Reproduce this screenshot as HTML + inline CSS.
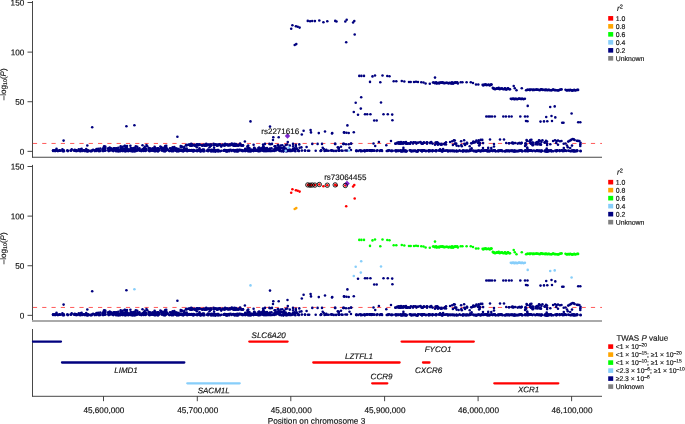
<!DOCTYPE html><html><head><meta charset="utf-8"><style>html,body{margin:0;padding:0;background:#fff}svg{display:block;will-change:transform}text{font-family:"Liberation Sans",sans-serif;fill:#111;stroke:#111;stroke-width:0.15px;text-rendering:geometricPrecision}</style></head><body>
<svg width="685" height="424" viewBox="0 0 685 424">
<rect width="685" height="424" fill="#fff"/>
<path d="M32.5 1.0V157.6" stroke="#333" stroke-width="0.9" fill="none"/><path d="M32.1 157.25H602" stroke="#333" stroke-width="0.9" fill="none"/><path d="M27.5 151.35H32.5" stroke="#333" stroke-width="0.9"/><text transform="rotate(0.05 24.3 154.40)" x="24.3" y="154.40" font-size="8.2" text-anchor="end">0</text><path d="M27.5 101.73H32.5" stroke="#333" stroke-width="0.9"/><text transform="rotate(0.05 24.3 104.78)" x="24.3" y="104.78" font-size="8.2" text-anchor="end">50</text><path d="M27.5 52.12H32.5" stroke="#333" stroke-width="0.9"/><text transform="rotate(0.05 24.3 55.17)" x="24.3" y="55.17" font-size="8.2" text-anchor="end">100</text><path d="M27.5 2.50H32.5" stroke="#333" stroke-width="0.9"/><text transform="rotate(0.05 24.3 5.55)" x="24.3" y="5.55" font-size="8.2" text-anchor="end">150</text><path d="M32.9 143.45H602" stroke="#ff3030" stroke-width="0.8" stroke-dasharray="4.2 5.1" fill="none"/><text transform="translate(5.5 84.3) rotate(-90)" font-size="8" text-anchor="middle">–log<tspan font-size="5.4" dy="1.7">10</tspan><tspan dy="-1.7">(</tspan><tspan font-style="italic">P</tspan>)</text>
<path d="M32.5 164.9V321.6" stroke="#333" stroke-width="0.9" fill="none"/><path d="M32.1 320.95H602" stroke="#aaa" stroke-width="2.0" fill="none"/><path d="M27.5 315.35H32.5" stroke="#333" stroke-width="0.9"/><text transform="rotate(0.05 24.3 318.40)" x="24.3" y="318.40" font-size="8.2" text-anchor="end">0</text><path d="M27.5 265.74H32.5" stroke="#333" stroke-width="0.9"/><text transform="rotate(0.05 24.3 268.79)" x="24.3" y="268.79" font-size="8.2" text-anchor="end">50</text><path d="M27.5 216.12H32.5" stroke="#333" stroke-width="0.9"/><text transform="rotate(0.05 24.3 219.17)" x="24.3" y="219.17" font-size="8.2" text-anchor="end">100</text><path d="M27.5 166.51H32.5" stroke="#333" stroke-width="0.9"/><text transform="rotate(0.05 24.3 169.56)" x="24.3" y="169.56" font-size="8.2" text-anchor="end">150</text><path d="M32.9 307.45H602" stroke="#ff3030" stroke-width="0.8" stroke-dasharray="4.2 5.1" fill="none"/><text transform="translate(5.5 248.3) rotate(-90)" font-size="8" text-anchor="middle">–log<tspan font-size="5.4" dy="1.7">10</tspan><tspan dy="-1.7">(</tspan><tspan font-style="italic">P</tspan>)</text>
<g><circle cx="63.6" cy="140.6" r="1.28" fill="#00007f"/><circle cx="92.2" cy="127.2" r="1.28" fill="#00007f"/><circle cx="126.4" cy="126.3" r="1.28" fill="#00007f"/><circle cx="134.4" cy="125.2" r="1.28" fill="#00007f"/><circle cx="87.3" cy="145.5" r="1.28" fill="#00007f"/><circle cx="125.5" cy="146.4" r="1.28" fill="#00007f"/><circle cx="142.5" cy="145.2" r="1.28" fill="#00007f"/><circle cx="146.5" cy="145.0" r="1.28" fill="#00007f"/><circle cx="177.4" cy="136.8" r="1.28" fill="#00007f"/><circle cx="250.5" cy="121.4" r="1.28" fill="#00007f"/><circle cx="270.0" cy="126.6" r="1.28" fill="#00007f"/><circle cx="273.3" cy="137.3" r="1.28" fill="#00007f"/><circle cx="273.0" cy="140.0" r="1.28" fill="#00007f"/><circle cx="278.7" cy="137.2" r="1.28" fill="#00007f"/><circle cx="303.6" cy="130.7" r="1.28" fill="#00007f"/><circle cx="301.8" cy="134.5" r="1.28" fill="#00007f"/><circle cx="310.6" cy="130.1" r="1.28" fill="#00007f"/><circle cx="311.0" cy="132.4" r="1.28" fill="#00007f"/><circle cx="318.8" cy="133.1" r="1.28" fill="#00007f"/><circle cx="325.0" cy="131.5" r="1.28" fill="#00007f"/><circle cx="332.2" cy="133.0" r="1.28" fill="#00007f"/><circle cx="343.9" cy="132.4" r="1.28" fill="#00007f"/><circle cx="346.5" cy="132.7" r="1.28" fill="#00007f"/><circle cx="348.7" cy="133.0" r="1.28" fill="#00007f"/><circle cx="244.9" cy="141.5" r="1.28" fill="#00007f"/><circle cx="287.8" cy="142.0" r="1.28" fill="#00007f"/><circle cx="265.0" cy="143.9" r="1.28" fill="#00007f"/><circle cx="269.4" cy="143.9" r="1.28" fill="#00007f"/><circle cx="272.0" cy="143.9" r="1.28" fill="#00007f"/><circle cx="293.0" cy="143.9" r="1.28" fill="#00007f"/><circle cx="312.3" cy="143.9" r="1.28" fill="#00007f"/><circle cx="317.6" cy="143.9" r="1.28" fill="#00007f"/><circle cx="322.0" cy="143.9" r="1.28" fill="#00007f"/><circle cx="335.0" cy="143.9" r="1.28" fill="#00007f"/><circle cx="343.9" cy="143.9" r="1.28" fill="#00007f"/><circle cx="292.4" cy="25.3" r="1.28" fill="#00007f"/><circle cx="291.2" cy="28.7" r="1.28" fill="#00007f"/><circle cx="295.9" cy="26.2" r="1.28" fill="#00007f"/><circle cx="297.7" cy="26.7" r="1.28" fill="#00007f"/><circle cx="299.6" cy="27.6" r="1.28" fill="#00007f"/><circle cx="294.7" cy="45.0" r="1.28" fill="#00007f"/><circle cx="296.3" cy="44.1" r="1.28" fill="#00007f"/><circle cx="307.8" cy="20.9" r="1.28" fill="#00007f"/><circle cx="310.1" cy="21.2" r="1.28" fill="#00007f"/><circle cx="312.2" cy="21.0" r="1.28" fill="#00007f"/><circle cx="314.9" cy="21.1" r="1.28" fill="#00007f"/><circle cx="319.3" cy="20.5" r="1.28" fill="#00007f"/><circle cx="323.4" cy="22.3" r="1.28" fill="#00007f"/><circle cx="327.3" cy="21.2" r="1.28" fill="#00007f"/><circle cx="335.2" cy="20.9" r="1.28" fill="#00007f"/><circle cx="336.5" cy="21.5" r="1.28" fill="#00007f"/><circle cx="345.3" cy="21.5" r="1.28" fill="#00007f"/><circle cx="346.7" cy="19.8" r="1.28" fill="#00007f"/><circle cx="353.1" cy="22.5" r="1.28" fill="#00007f"/><circle cx="354.3" cy="21.0" r="1.28" fill="#00007f"/><circle cx="354.7" cy="34.5" r="1.28" fill="#00007f"/><circle cx="346.2" cy="42.3" r="1.28" fill="#00007f"/><circle cx="359.3" cy="75.9" r="1.28" fill="#00007f"/><circle cx="361.4" cy="75.9" r="1.28" fill="#00007f"/><circle cx="364.0" cy="75.9" r="1.28" fill="#00007f"/><circle cx="372.5" cy="76.4" r="1.28" fill="#00007f"/><circle cx="375.0" cy="75.5" r="1.28" fill="#00007f"/><circle cx="382.5" cy="75.5" r="1.28" fill="#00007f"/><circle cx="387.3" cy="76.0" r="1.28" fill="#00007f"/><circle cx="389.5" cy="76.2" r="1.28" fill="#00007f"/><circle cx="370.0" cy="81.9" r="1.28" fill="#00007f"/><circle cx="380.3" cy="82.3" r="1.28" fill="#00007f"/><circle cx="393.7" cy="81.2" r="1.28" fill="#00007f"/><circle cx="396.3" cy="81.2" r="1.28" fill="#00007f"/><circle cx="401.8" cy="81.0" r="1.28" fill="#00007f"/><circle cx="404.3" cy="81.5" r="1.28" fill="#00007f"/><circle cx="409.0" cy="82.0" r="1.28" fill="#00007f"/><circle cx="410.7" cy="82.0" r="1.28" fill="#00007f"/><circle cx="414.0" cy="82.0" r="1.28" fill="#00007f"/><circle cx="416.0" cy="81.8" r="1.28" fill="#00007f"/><circle cx="418.0" cy="82.0" r="1.28" fill="#00007f"/><circle cx="421.3" cy="82.3" r="1.28" fill="#00007f"/><circle cx="423.5" cy="82.5" r="1.28" fill="#00007f"/><circle cx="425.6" cy="83.5" r="1.28" fill="#00007f"/><circle cx="429.8" cy="83.8" r="1.28" fill="#00007f"/><circle cx="433.0" cy="82.5" r="1.28" fill="#00007f"/><circle cx="435.0" cy="77.6" r="1.28" fill="#00007f"/><circle cx="433.9" cy="82.5" r="1.28" fill="#00007f"/><circle cx="434.7" cy="83.1" r="1.28" fill="#00007f"/><circle cx="435.4" cy="83.0" r="1.28" fill="#00007f"/><circle cx="436.1" cy="82.4" r="1.28" fill="#00007f"/><circle cx="436.6" cy="83.5" r="1.28" fill="#00007f"/><circle cx="437.1" cy="83.2" r="1.28" fill="#00007f"/><circle cx="438.3" cy="82.9" r="1.28" fill="#00007f"/><circle cx="439.2" cy="83.5" r="1.28" fill="#00007f"/><circle cx="439.9" cy="82.5" r="1.28" fill="#00007f"/><circle cx="440.9" cy="82.6" r="1.28" fill="#00007f"/><circle cx="441.7" cy="82.8" r="1.28" fill="#00007f"/><circle cx="442.3" cy="82.4" r="1.28" fill="#00007f"/><circle cx="443.1" cy="82.9" r="1.28" fill="#00007f"/><circle cx="443.8" cy="82.9" r="1.28" fill="#00007f"/><circle cx="444.5" cy="83.3" r="1.28" fill="#00007f"/><circle cx="445.1" cy="83.0" r="1.28" fill="#00007f"/><circle cx="446.2" cy="82.7" r="1.28" fill="#00007f"/><circle cx="447.0" cy="82.9" r="1.28" fill="#00007f"/><circle cx="448.0" cy="83.0" r="1.28" fill="#00007f"/><circle cx="448.7" cy="83.4" r="1.28" fill="#00007f"/><circle cx="449.6" cy="82.7" r="1.28" fill="#00007f"/><circle cx="450.5" cy="83.1" r="1.28" fill="#00007f"/><circle cx="451.3" cy="83.6" r="1.28" fill="#00007f"/><circle cx="452.0" cy="82.4" r="1.28" fill="#00007f"/><circle cx="453.0" cy="83.7" r="1.28" fill="#00007f"/><circle cx="453.8" cy="82.8" r="1.28" fill="#00007f"/><circle cx="454.6" cy="82.9" r="1.28" fill="#00007f"/><circle cx="455.3" cy="82.4" r="1.28" fill="#00007f"/><circle cx="456.2" cy="82.6" r="1.28" fill="#00007f"/><circle cx="457.3" cy="82.4" r="1.28" fill="#00007f"/><circle cx="457.9" cy="83.5" r="1.28" fill="#00007f"/><circle cx="460.7" cy="82.3" r="1.28" fill="#00007f"/><circle cx="462.4" cy="82.3" r="1.28" fill="#00007f"/><circle cx="466.6" cy="82.3" r="1.28" fill="#00007f"/><circle cx="470.8" cy="82.3" r="1.28" fill="#00007f"/><circle cx="473.0" cy="83.0" r="1.28" fill="#00007f"/><circle cx="476.0" cy="84.5" r="1.28" fill="#00007f"/><circle cx="478.3" cy="84.5" r="1.28" fill="#00007f"/><circle cx="482.6" cy="84.7" r="1.28" fill="#00007f"/><circle cx="483.2" cy="85.5" r="1.28" fill="#00007f"/><circle cx="484.2" cy="84.6" r="1.28" fill="#00007f"/><circle cx="484.9" cy="85.0" r="1.28" fill="#00007f"/><circle cx="485.7" cy="84.4" r="1.28" fill="#00007f"/><circle cx="486.5" cy="85.1" r="1.28" fill="#00007f"/><circle cx="487.7" cy="85.0" r="1.28" fill="#00007f"/><circle cx="488.6" cy="84.5" r="1.28" fill="#00007f"/><circle cx="489.7" cy="85.4" r="1.28" fill="#00007f"/><circle cx="490.5" cy="84.9" r="1.28" fill="#00007f"/><circle cx="491.2" cy="84.5" r="1.28" fill="#00007f"/><circle cx="491.5" cy="84.6" r="1.28" fill="#00007f"/><circle cx="492.8" cy="87.9" r="1.28" fill="#00007f"/><circle cx="493.4" cy="88.5" r="1.28" fill="#00007f"/><circle cx="494.2" cy="88.9" r="1.28" fill="#00007f"/><circle cx="494.5" cy="88.5" r="1.28" fill="#00007f"/><circle cx="495.2" cy="89.3" r="1.28" fill="#00007f"/><circle cx="496.5" cy="88.7" r="1.28" fill="#00007f"/><circle cx="496.9" cy="88.4" r="1.28" fill="#00007f"/><circle cx="497.8" cy="88.2" r="1.28" fill="#00007f"/><circle cx="498.3" cy="88.7" r="1.28" fill="#00007f"/><circle cx="498.7" cy="87.9" r="1.28" fill="#00007f"/><circle cx="499.7" cy="89.3" r="1.28" fill="#00007f"/><circle cx="500.4" cy="88.5" r="1.28" fill="#00007f"/><circle cx="501.2" cy="88.8" r="1.28" fill="#00007f"/><circle cx="502.0" cy="88.3" r="1.28" fill="#00007f"/><circle cx="503.2" cy="89.3" r="1.28" fill="#00007f"/><circle cx="504.2" cy="89.1" r="1.28" fill="#00007f"/><circle cx="504.7" cy="88.5" r="1.28" fill="#00007f"/><circle cx="505.0" cy="88.3" r="1.28" fill="#00007f"/><circle cx="505.9" cy="89.4" r="1.28" fill="#00007f"/><circle cx="506.7" cy="89.5" r="1.28" fill="#00007f"/><circle cx="507.6" cy="88.3" r="1.28" fill="#00007f"/><circle cx="508.2" cy="88.2" r="1.28" fill="#00007f"/><circle cx="509.3" cy="89.2" r="1.28" fill="#00007f"/><circle cx="510.0" cy="89.2" r="1.28" fill="#00007f"/><circle cx="513.7" cy="86.0" r="1.28" fill="#00007f"/><circle cx="514.8" cy="88.2" r="1.28" fill="#00007f"/><circle cx="516.5" cy="90.2" r="1.28" fill="#00007f"/><circle cx="521.8" cy="88.3" r="1.28" fill="#00007f"/><circle cx="526.1" cy="90.3" r="1.28" fill="#00007f"/><circle cx="527.2" cy="89.9" r="1.28" fill="#00007f"/><circle cx="527.9" cy="89.7" r="1.28" fill="#00007f"/><circle cx="529.1" cy="89.8" r="1.28" fill="#00007f"/><circle cx="529.9" cy="90.1" r="1.28" fill="#00007f"/><circle cx="530.2" cy="89.6" r="1.28" fill="#00007f"/><circle cx="531.7" cy="89.5" r="1.28" fill="#00007f"/><circle cx="532.9" cy="90.1" r="1.28" fill="#00007f"/><circle cx="533.5" cy="89.5" r="1.28" fill="#00007f"/><circle cx="534.2" cy="90.0" r="1.28" fill="#00007f"/><circle cx="535.1" cy="89.8" r="1.28" fill="#00007f"/><circle cx="536.3" cy="89.6" r="1.28" fill="#00007f"/><circle cx="536.8" cy="89.6" r="1.28" fill="#00007f"/><circle cx="537.7" cy="89.8" r="1.28" fill="#00007f"/><circle cx="538.6" cy="89.8" r="1.28" fill="#00007f"/><circle cx="539.4" cy="90.3" r="1.28" fill="#00007f"/><circle cx="540.3" cy="89.9" r="1.28" fill="#00007f"/><circle cx="541.1" cy="89.4" r="1.28" fill="#00007f"/><circle cx="541.8" cy="89.4" r="1.28" fill="#00007f"/><circle cx="542.9" cy="89.9" r="1.28" fill="#00007f"/><circle cx="544.1" cy="89.7" r="1.28" fill="#00007f"/><circle cx="545.1" cy="90.2" r="1.28" fill="#00007f"/><circle cx="545.7" cy="89.6" r="1.28" fill="#00007f"/><circle cx="546.5" cy="89.9" r="1.28" fill="#00007f"/><circle cx="547.4" cy="90.3" r="1.28" fill="#00007f"/><circle cx="548.2" cy="89.9" r="1.28" fill="#00007f"/><circle cx="549.2" cy="89.9" r="1.28" fill="#00007f"/><circle cx="550.0" cy="90.3" r="1.28" fill="#00007f"/><circle cx="551.2" cy="90.3" r="1.28" fill="#00007f"/><circle cx="551.8" cy="90.3" r="1.28" fill="#00007f"/><circle cx="552.8" cy="89.5" r="1.28" fill="#00007f"/><circle cx="553.6" cy="89.6" r="1.28" fill="#00007f"/><circle cx="554.5" cy="90.2" r="1.28" fill="#00007f"/><circle cx="555.4" cy="90.1" r="1.28" fill="#00007f"/><circle cx="556.5" cy="90.3" r="1.28" fill="#00007f"/><circle cx="557.7" cy="90.4" r="1.28" fill="#00007f"/><circle cx="558.7" cy="90.4" r="1.28" fill="#00007f"/><circle cx="559.7" cy="89.8" r="1.28" fill="#00007f"/><circle cx="560.6" cy="89.6" r="1.28" fill="#00007f"/><circle cx="561.6" cy="89.4" r="1.28" fill="#00007f"/><circle cx="565.5" cy="89.8" r="1.28" fill="#00007f"/><circle cx="566.3" cy="90.2" r="1.28" fill="#00007f"/><circle cx="567.1" cy="90.4" r="1.28" fill="#00007f"/><circle cx="567.9" cy="90.0" r="1.28" fill="#00007f"/><circle cx="568.8" cy="90.0" r="1.28" fill="#00007f"/><circle cx="569.3" cy="90.5" r="1.28" fill="#00007f"/><circle cx="570.3" cy="89.9" r="1.28" fill="#00007f"/><circle cx="571.7" cy="90.4" r="1.28" fill="#00007f"/><circle cx="572.1" cy="90.4" r="1.28" fill="#00007f"/><circle cx="572.9" cy="90.6" r="1.28" fill="#00007f"/><circle cx="574.2" cy="89.9" r="1.28" fill="#00007f"/><circle cx="575.1" cy="90.5" r="1.28" fill="#00007f"/><circle cx="576.0" cy="90.2" r="1.28" fill="#00007f"/><circle cx="577.2" cy="89.9" r="1.28" fill="#00007f"/><circle cx="578.1" cy="89.9" r="1.28" fill="#00007f"/><circle cx="510.8" cy="98.7" r="1.28" fill="#00007f"/><circle cx="511.7" cy="99.1" r="1.28" fill="#00007f"/><circle cx="512.5" cy="98.7" r="1.28" fill="#00007f"/><circle cx="513.1" cy="98.8" r="1.28" fill="#00007f"/><circle cx="513.9" cy="98.9" r="1.28" fill="#00007f"/><circle cx="514.5" cy="99.2" r="1.28" fill="#00007f"/><circle cx="515.3" cy="98.9" r="1.28" fill="#00007f"/><circle cx="516.2" cy="98.8" r="1.28" fill="#00007f"/><circle cx="517.0" cy="99.2" r="1.28" fill="#00007f"/><circle cx="517.9" cy="99.0" r="1.28" fill="#00007f"/><circle cx="518.7" cy="98.8" r="1.28" fill="#00007f"/><circle cx="519.2" cy="98.6" r="1.28" fill="#00007f"/><circle cx="520.3" cy="98.7" r="1.28" fill="#00007f"/><circle cx="521.1" cy="99.1" r="1.28" fill="#00007f"/><circle cx="521.9" cy="98.7" r="1.28" fill="#00007f"/><circle cx="522.7" cy="98.7" r="1.28" fill="#00007f"/><circle cx="523.5" cy="99.2" r="1.28" fill="#00007f"/><circle cx="524.9" cy="98.7" r="1.28" fill="#00007f"/><circle cx="527.7" cy="105.9" r="1.28" fill="#00007f"/><circle cx="550.2" cy="107.0" r="1.28" fill="#00007f"/><circle cx="554.7" cy="106.4" r="1.28" fill="#00007f"/><circle cx="571.6" cy="113.5" r="1.28" fill="#00007f"/><circle cx="486.3" cy="116.5" r="1.28" fill="#00007f"/><circle cx="488.3" cy="116.5" r="1.28" fill="#00007f"/><circle cx="490.0" cy="116.5" r="1.28" fill="#00007f"/><circle cx="492.0" cy="116.5" r="1.28" fill="#00007f"/><circle cx="494.8" cy="116.5" r="1.28" fill="#00007f"/><circle cx="503.3" cy="116.5" r="1.28" fill="#00007f"/><circle cx="505.9" cy="116.5" r="1.28" fill="#00007f"/><circle cx="509.0" cy="116.5" r="1.28" fill="#00007f"/><circle cx="511.6" cy="116.5" r="1.28" fill="#00007f"/><circle cx="520.3" cy="116.5" r="1.28" fill="#00007f"/><circle cx="525.0" cy="116.5" r="1.28" fill="#00007f"/><circle cx="527.5" cy="116.5" r="1.28" fill="#00007f"/><circle cx="546.2" cy="117.0" r="1.28" fill="#00007f"/><circle cx="551.5" cy="116.0" r="1.28" fill="#00007f"/><circle cx="555.3" cy="117.4" r="1.28" fill="#00007f"/><circle cx="526.0" cy="121.0" r="1.28" fill="#00007f"/><circle cx="527.5" cy="121.2" r="1.28" fill="#00007f"/><circle cx="540.5" cy="121.6" r="1.28" fill="#00007f"/><circle cx="544.0" cy="121.4" r="1.28" fill="#00007f"/><circle cx="547.3" cy="121.2" r="1.28" fill="#00007f"/><circle cx="552.0" cy="121.0" r="1.28" fill="#00007f"/><circle cx="562.2" cy="122.7" r="1.28" fill="#00007f"/><circle cx="563.5" cy="122.7" r="1.28" fill="#00007f"/><circle cx="578.2" cy="122.3" r="1.28" fill="#00007f"/><circle cx="580.3" cy="122.3" r="1.28" fill="#00007f"/><circle cx="361.2" cy="97.2" r="1.28" fill="#00007f"/><circle cx="355.7" cy="102.7" r="1.28" fill="#00007f"/><circle cx="381.0" cy="102.5" r="1.28" fill="#00007f"/><circle cx="360.8" cy="108.6" r="1.28" fill="#00007f"/><circle cx="353.8" cy="112.0" r="1.28" fill="#00007f"/><circle cx="358.0" cy="114.8" r="1.28" fill="#00007f"/><circle cx="365.0" cy="114.2" r="1.28" fill="#00007f"/><circle cx="367.2" cy="114.2" r="1.28" fill="#00007f"/><circle cx="370.4" cy="114.2" r="1.28" fill="#00007f"/><circle cx="383.5" cy="114.2" r="1.28" fill="#00007f"/><circle cx="387.8" cy="114.2" r="1.28" fill="#00007f"/><circle cx="392.2" cy="114.6" r="1.28" fill="#00007f"/><circle cx="374.2" cy="120.5" r="1.28" fill="#00007f"/><circle cx="376.7" cy="120.5" r="1.28" fill="#00007f"/><circle cx="392.4" cy="120.3" r="1.28" fill="#00007f"/><circle cx="347.4" cy="125.4" r="1.28" fill="#00007f"/><circle cx="332.0" cy="133.5" r="1.28" fill="#00007f"/><circle cx="344.4" cy="132.6" r="1.28" fill="#00007f"/><circle cx="353.8" cy="132.2" r="1.28" fill="#00007f"/><circle cx="335.3" cy="143.9" r="1.28" fill="#00007f"/><circle cx="341.0" cy="146.7" r="1.28" fill="#00007f"/><circle cx="343.2" cy="143.9" r="1.28" fill="#00007f"/><circle cx="346.0" cy="144.3" r="1.28" fill="#00007f"/><circle cx="348.7" cy="144.3" r="1.28" fill="#00007f"/><circle cx="351.2" cy="143.7" r="1.28" fill="#00007f"/><circle cx="373.5" cy="143.5" r="1.28" fill="#00007f"/><circle cx="375.2" cy="146.0" r="1.28" fill="#00007f"/><circle cx="378.9" cy="142.0" r="1.28" fill="#00007f"/><circle cx="386.3" cy="145.2" r="1.28" fill="#00007f"/><circle cx="391.0" cy="141.0" r="1.28" fill="#00007f"/><circle cx="490.0" cy="139.5" r="1.28" fill="#00007f"/><circle cx="494.0" cy="144.0" r="1.28" fill="#00007f"/><circle cx="494.0" cy="146.5" r="1.28" fill="#00007f"/><circle cx="500.0" cy="139.5" r="1.28" fill="#00007f"/><circle cx="504.0" cy="139.5" r="1.28" fill="#00007f"/><circle cx="67.5" cy="150.6" r="1.28" fill="#00007f"/><circle cx="53.1" cy="150.6" r="1.28" fill="#00007f"/><circle cx="75.3" cy="150.8" r="1.28" fill="#00007f"/><circle cx="62.4" cy="150.8" r="1.28" fill="#00007f"/><circle cx="53.2" cy="150.5" r="1.28" fill="#00007f"/><circle cx="57.2" cy="150.6" r="1.28" fill="#00007f"/><circle cx="55.0" cy="150.2" r="1.28" fill="#00007f"/><circle cx="67.3" cy="150.5" r="1.28" fill="#00007f"/><circle cx="80.5" cy="150.8" r="1.28" fill="#00007f"/><circle cx="88.3" cy="150.9" r="1.28" fill="#00007f"/><circle cx="86.7" cy="151.2" r="1.28" fill="#00007f"/><circle cx="71.3" cy="150.6" r="1.28" fill="#00007f"/><circle cx="99.3" cy="150.4" r="1.28" fill="#00007f"/><circle cx="87.0" cy="150.9" r="1.28" fill="#00007f"/><circle cx="55.1" cy="151.1" r="1.28" fill="#00007f"/><circle cx="94.9" cy="150.9" r="1.28" fill="#00007f"/><circle cx="87.5" cy="151.1" r="1.28" fill="#00007f"/><circle cx="59.5" cy="150.8" r="1.28" fill="#00007f"/><circle cx="76.7" cy="151.1" r="1.28" fill="#00007f"/><circle cx="90.8" cy="151.1" r="1.28" fill="#00007f"/><circle cx="80.5" cy="151.2" r="1.28" fill="#00007f"/><circle cx="85.1" cy="151.0" r="1.28" fill="#00007f"/><circle cx="63.8" cy="150.2" r="1.28" fill="#00007f"/><circle cx="59.3" cy="150.6" r="1.28" fill="#00007f"/><circle cx="57.9" cy="151.1" r="1.28" fill="#00007f"/><circle cx="79.3" cy="150.9" r="1.28" fill="#00007f"/><circle cx="82.4" cy="150.9" r="1.28" fill="#00007f"/><circle cx="76.0" cy="150.2" r="1.28" fill="#00007f"/><circle cx="90.5" cy="151.0" r="1.28" fill="#00007f"/><circle cx="76.6" cy="150.8" r="1.28" fill="#00007f"/><circle cx="84.0" cy="150.3" r="1.28" fill="#00007f"/><circle cx="87.6" cy="150.5" r="1.28" fill="#00007f"/><circle cx="56.5" cy="150.5" r="1.28" fill="#00007f"/><circle cx="87.3" cy="150.4" r="1.28" fill="#00007f"/><circle cx="87.8" cy="151.3" r="1.28" fill="#00007f"/><circle cx="76.2" cy="150.6" r="1.28" fill="#00007f"/><circle cx="75.5" cy="151.0" r="1.28" fill="#00007f"/><circle cx="89.0" cy="150.9" r="1.28" fill="#00007f"/><circle cx="83.2" cy="150.3" r="1.28" fill="#00007f"/><circle cx="59.9" cy="150.5" r="1.28" fill="#00007f"/><circle cx="87.9" cy="150.5" r="1.28" fill="#00007f"/><circle cx="79.7" cy="150.2" r="1.28" fill="#00007f"/><circle cx="55.9" cy="150.5" r="1.28" fill="#00007f"/><circle cx="84.6" cy="151.0" r="1.28" fill="#00007f"/><circle cx="84.8" cy="150.5" r="1.28" fill="#00007f"/><circle cx="77.3" cy="150.7" r="1.28" fill="#00007f"/><circle cx="74.9" cy="150.3" r="1.28" fill="#00007f"/><circle cx="95.0" cy="150.4" r="1.28" fill="#00007f"/><circle cx="99.0" cy="151.2" r="1.28" fill="#00007f"/><circle cx="53.8" cy="150.7" r="1.28" fill="#00007f"/><circle cx="91.5" cy="151.3" r="1.28" fill="#00007f"/><circle cx="74.1" cy="150.5" r="1.28" fill="#00007f"/><circle cx="62.9" cy="151.2" r="1.28" fill="#00007f"/><circle cx="62.9" cy="150.8" r="1.28" fill="#00007f"/><circle cx="59.7" cy="150.8" r="1.28" fill="#00007f"/><circle cx="97.8" cy="150.3" r="1.28" fill="#00007f"/><circle cx="91.6" cy="150.8" r="1.28" fill="#00007f"/><circle cx="94.7" cy="151.0" r="1.28" fill="#00007f"/><circle cx="63.9" cy="151.2" r="1.28" fill="#00007f"/><circle cx="75.8" cy="150.2" r="1.28" fill="#00007f"/><circle cx="53.2" cy="150.7" r="1.28" fill="#00007f"/><circle cx="74.2" cy="150.5" r="1.28" fill="#00007f"/><circle cx="59.6" cy="150.6" r="1.28" fill="#00007f"/><circle cx="67.9" cy="151.1" r="1.28" fill="#00007f"/><circle cx="53.1" cy="151.0" r="1.28" fill="#00007f"/><circle cx="92.4" cy="150.3" r="1.28" fill="#00007f"/><circle cx="96.5" cy="151.0" r="1.28" fill="#00007f"/><circle cx="95.4" cy="150.5" r="1.28" fill="#00007f"/><circle cx="70.5" cy="150.6" r="1.28" fill="#00007f"/><circle cx="99.9" cy="150.8" r="1.28" fill="#00007f"/><circle cx="131.4" cy="150.6" r="1.28" fill="#00007f"/><circle cx="123.9" cy="150.1" r="1.28" fill="#00007f"/><circle cx="108.8" cy="151.1" r="1.28" fill="#00007f"/><circle cx="124.8" cy="151.2" r="1.28" fill="#00007f"/><circle cx="121.7" cy="150.3" r="1.28" fill="#00007f"/><circle cx="144.5" cy="150.2" r="1.28" fill="#00007f"/><circle cx="132.5" cy="151.2" r="1.28" fill="#00007f"/><circle cx="176.9" cy="151.1" r="1.28" fill="#00007f"/><circle cx="154.9" cy="151.2" r="1.28" fill="#00007f"/><circle cx="181.8" cy="150.7" r="1.28" fill="#00007f"/><circle cx="162.6" cy="150.1" r="1.28" fill="#00007f"/><circle cx="163.7" cy="150.6" r="1.28" fill="#00007f"/><circle cx="165.5" cy="150.8" r="1.28" fill="#00007f"/><circle cx="124.9" cy="150.1" r="1.28" fill="#00007f"/><circle cx="180.6" cy="150.2" r="1.28" fill="#00007f"/><circle cx="141.1" cy="150.4" r="1.28" fill="#00007f"/><circle cx="125.9" cy="151.0" r="1.28" fill="#00007f"/><circle cx="184.9" cy="150.3" r="1.28" fill="#00007f"/><circle cx="157.1" cy="150.4" r="1.28" fill="#00007f"/><circle cx="148.5" cy="150.5" r="1.28" fill="#00007f"/><circle cx="114.6" cy="150.2" r="1.28" fill="#00007f"/><circle cx="118.1" cy="151.2" r="1.28" fill="#00007f"/><circle cx="143.2" cy="150.3" r="1.28" fill="#00007f"/><circle cx="178.8" cy="151.3" r="1.28" fill="#00007f"/><circle cx="139.1" cy="150.2" r="1.28" fill="#00007f"/><circle cx="116.7" cy="150.1" r="1.28" fill="#00007f"/><circle cx="129.8" cy="150.1" r="1.28" fill="#00007f"/><circle cx="120.8" cy="150.3" r="1.28" fill="#00007f"/><circle cx="149.6" cy="151.2" r="1.28" fill="#00007f"/><circle cx="165.2" cy="150.5" r="1.28" fill="#00007f"/><circle cx="136.0" cy="150.7" r="1.28" fill="#00007f"/><circle cx="132.8" cy="150.4" r="1.28" fill="#00007f"/><circle cx="105.4" cy="150.4" r="1.28" fill="#00007f"/><circle cx="184.2" cy="150.2" r="1.28" fill="#00007f"/><circle cx="143.8" cy="150.8" r="1.28" fill="#00007f"/><circle cx="175.1" cy="150.3" r="1.28" fill="#00007f"/><circle cx="123.6" cy="150.3" r="1.28" fill="#00007f"/><circle cx="134.8" cy="150.6" r="1.28" fill="#00007f"/><circle cx="183.0" cy="151.1" r="1.28" fill="#00007f"/><circle cx="175.9" cy="150.0" r="1.28" fill="#00007f"/><circle cx="102.8" cy="150.9" r="1.28" fill="#00007f"/><circle cx="177.9" cy="150.6" r="1.28" fill="#00007f"/><circle cx="151.1" cy="150.0" r="1.28" fill="#00007f"/><circle cx="134.1" cy="151.2" r="1.28" fill="#00007f"/><circle cx="171.8" cy="151.1" r="1.28" fill="#00007f"/><circle cx="184.6" cy="150.3" r="1.28" fill="#00007f"/><circle cx="109.5" cy="150.2" r="1.28" fill="#00007f"/><circle cx="145.4" cy="150.9" r="1.28" fill="#00007f"/><circle cx="181.9" cy="150.9" r="1.28" fill="#00007f"/><circle cx="156.3" cy="151.0" r="1.28" fill="#00007f"/><circle cx="139.8" cy="150.7" r="1.28" fill="#00007f"/><circle cx="103.4" cy="151.0" r="1.28" fill="#00007f"/><circle cx="120.2" cy="151.2" r="1.28" fill="#00007f"/><circle cx="156.2" cy="150.4" r="1.28" fill="#00007f"/><circle cx="111.1" cy="150.3" r="1.28" fill="#00007f"/><circle cx="155.4" cy="150.9" r="1.28" fill="#00007f"/><circle cx="109.8" cy="150.1" r="1.28" fill="#00007f"/><circle cx="145.6" cy="150.8" r="1.28" fill="#00007f"/><circle cx="133.8" cy="150.3" r="1.28" fill="#00007f"/><circle cx="152.3" cy="150.0" r="1.28" fill="#00007f"/><circle cx="126.2" cy="150.6" r="1.28" fill="#00007f"/><circle cx="183.4" cy="150.8" r="1.28" fill="#00007f"/><circle cx="176.9" cy="150.6" r="1.28" fill="#00007f"/><circle cx="120.4" cy="150.3" r="1.28" fill="#00007f"/><circle cx="183.6" cy="150.9" r="1.28" fill="#00007f"/><circle cx="126.7" cy="150.0" r="1.28" fill="#00007f"/><circle cx="143.4" cy="150.9" r="1.28" fill="#00007f"/><circle cx="136.5" cy="150.3" r="1.28" fill="#00007f"/><circle cx="158.1" cy="151.2" r="1.28" fill="#00007f"/><circle cx="119.7" cy="150.0" r="1.28" fill="#00007f"/><circle cx="129.4" cy="150.5" r="1.28" fill="#00007f"/><circle cx="159.4" cy="150.3" r="1.28" fill="#00007f"/><circle cx="169.3" cy="151.0" r="1.28" fill="#00007f"/><circle cx="143.9" cy="150.3" r="1.28" fill="#00007f"/><circle cx="184.4" cy="150.4" r="1.28" fill="#00007f"/><circle cx="171.3" cy="150.3" r="1.28" fill="#00007f"/><circle cx="119.3" cy="151.0" r="1.28" fill="#00007f"/><circle cx="125.7" cy="151.2" r="1.28" fill="#00007f"/><circle cx="143.1" cy="150.2" r="1.28" fill="#00007f"/><circle cx="119.4" cy="150.5" r="1.28" fill="#00007f"/><circle cx="157.9" cy="151.2" r="1.28" fill="#00007f"/><circle cx="112.7" cy="150.5" r="1.28" fill="#00007f"/><circle cx="118.5" cy="151.3" r="1.28" fill="#00007f"/><circle cx="112.3" cy="150.1" r="1.28" fill="#00007f"/><circle cx="105.2" cy="150.5" r="1.28" fill="#00007f"/><circle cx="178.1" cy="151.1" r="1.28" fill="#00007f"/><circle cx="163.7" cy="151.3" r="1.28" fill="#00007f"/><circle cx="181.0" cy="150.4" r="1.28" fill="#00007f"/><circle cx="116.1" cy="151.2" r="1.28" fill="#00007f"/><circle cx="164.9" cy="150.0" r="1.28" fill="#00007f"/><circle cx="157.8" cy="150.5" r="1.28" fill="#00007f"/><circle cx="132.5" cy="150.4" r="1.28" fill="#00007f"/><circle cx="114.7" cy="150.0" r="1.28" fill="#00007f"/><circle cx="124.3" cy="150.5" r="1.28" fill="#00007f"/><circle cx="183.1" cy="150.2" r="1.28" fill="#00007f"/><circle cx="183.9" cy="150.3" r="1.28" fill="#00007f"/><circle cx="131.0" cy="151.1" r="1.28" fill="#00007f"/><circle cx="171.5" cy="150.6" r="1.28" fill="#00007f"/><circle cx="104.3" cy="150.6" r="1.28" fill="#00007f"/><circle cx="132.4" cy="151.2" r="1.28" fill="#00007f"/><circle cx="116.8" cy="150.5" r="1.28" fill="#00007f"/><circle cx="178.0" cy="150.0" r="1.28" fill="#00007f"/><circle cx="135.7" cy="151.1" r="1.28" fill="#00007f"/><circle cx="166.7" cy="150.1" r="1.28" fill="#00007f"/><circle cx="103.0" cy="150.1" r="1.28" fill="#00007f"/><circle cx="180.0" cy="150.3" r="1.28" fill="#00007f"/><circle cx="165.0" cy="151.2" r="1.28" fill="#00007f"/><circle cx="129.5" cy="150.4" r="1.28" fill="#00007f"/><circle cx="183.3" cy="150.8" r="1.28" fill="#00007f"/><circle cx="122.8" cy="150.9" r="1.28" fill="#00007f"/><circle cx="127.5" cy="150.4" r="1.28" fill="#00007f"/><circle cx="100.3" cy="151.0" r="1.28" fill="#00007f"/><circle cx="179.7" cy="150.8" r="1.28" fill="#00007f"/><circle cx="182.1" cy="150.0" r="1.28" fill="#00007f"/><circle cx="120.3" cy="150.6" r="1.28" fill="#00007f"/><circle cx="183.2" cy="151.2" r="1.28" fill="#00007f"/><circle cx="133.6" cy="150.3" r="1.28" fill="#00007f"/><circle cx="137.4" cy="150.6" r="1.28" fill="#00007f"/><circle cx="180.7" cy="150.2" r="1.28" fill="#00007f"/><circle cx="169.8" cy="151.0" r="1.28" fill="#00007f"/><circle cx="171.6" cy="151.0" r="1.28" fill="#00007f"/><circle cx="152.8" cy="150.4" r="1.28" fill="#00007f"/><circle cx="127.8" cy="150.5" r="1.28" fill="#00007f"/><circle cx="168.1" cy="150.1" r="1.28" fill="#00007f"/><circle cx="117.2" cy="151.0" r="1.28" fill="#00007f"/><circle cx="121.5" cy="150.1" r="1.28" fill="#00007f"/><circle cx="102.9" cy="150.7" r="1.28" fill="#00007f"/><circle cx="128.3" cy="151.3" r="1.28" fill="#00007f"/><circle cx="176.9" cy="151.3" r="1.28" fill="#00007f"/><circle cx="123.0" cy="150.1" r="1.28" fill="#00007f"/><circle cx="108.4" cy="150.6" r="1.28" fill="#00007f"/><circle cx="161.8" cy="150.6" r="1.28" fill="#00007f"/><circle cx="120.4" cy="150.5" r="1.28" fill="#00007f"/><circle cx="154.0" cy="150.9" r="1.28" fill="#00007f"/><circle cx="165.1" cy="151.1" r="1.28" fill="#00007f"/><circle cx="157.8" cy="150.2" r="1.28" fill="#00007f"/><circle cx="173.2" cy="150.4" r="1.28" fill="#00007f"/><circle cx="149.3" cy="150.5" r="1.28" fill="#00007f"/><circle cx="164.2" cy="150.3" r="1.28" fill="#00007f"/><circle cx="121.5" cy="150.3" r="1.28" fill="#00007f"/><circle cx="113.3" cy="151.1" r="1.28" fill="#00007f"/><circle cx="150.3" cy="150.4" r="1.28" fill="#00007f"/><circle cx="134.5" cy="151.3" r="1.28" fill="#00007f"/><circle cx="144.1" cy="150.3" r="1.28" fill="#00007f"/><circle cx="170.3" cy="150.8" r="1.28" fill="#00007f"/><circle cx="186.2" cy="150.1" r="1.28" fill="#00007f"/><circle cx="141.3" cy="151.1" r="1.28" fill="#00007f"/><circle cx="173.1" cy="151.2" r="1.28" fill="#00007f"/><circle cx="103.5" cy="150.4" r="1.28" fill="#00007f"/><circle cx="110.4" cy="150.2" r="1.28" fill="#00007f"/><circle cx="184.6" cy="150.8" r="1.28" fill="#00007f"/><circle cx="180.9" cy="150.5" r="1.28" fill="#00007f"/><circle cx="175.4" cy="150.6" r="1.28" fill="#00007f"/><circle cx="122.6" cy="151.0" r="1.28" fill="#00007f"/><circle cx="182.3" cy="150.1" r="1.28" fill="#00007f"/><circle cx="151.9" cy="150.8" r="1.28" fill="#00007f"/><circle cx="194.2" cy="150.4" r="1.28" fill="#00007f"/><circle cx="191.7" cy="150.1" r="1.28" fill="#00007f"/><circle cx="195.4" cy="150.8" r="1.28" fill="#00007f"/><circle cx="208.5" cy="150.1" r="1.28" fill="#00007f"/><circle cx="187.4" cy="150.3" r="1.28" fill="#00007f"/><circle cx="209.4" cy="150.1" r="1.28" fill="#00007f"/><circle cx="197.3" cy="150.1" r="1.28" fill="#00007f"/><circle cx="213.2" cy="150.7" r="1.28" fill="#00007f"/><circle cx="189.1" cy="150.0" r="1.28" fill="#00007f"/><circle cx="200.0" cy="150.7" r="1.28" fill="#00007f"/><circle cx="208.1" cy="149.9" r="1.28" fill="#00007f"/><circle cx="192.4" cy="150.9" r="1.28" fill="#00007f"/><circle cx="200.5" cy="150.3" r="1.28" fill="#00007f"/><circle cx="197.2" cy="151.3" r="1.28" fill="#00007f"/><circle cx="197.3" cy="150.7" r="1.28" fill="#00007f"/><circle cx="198.8" cy="150.5" r="1.28" fill="#00007f"/><circle cx="215.5" cy="151.4" r="1.28" fill="#00007f"/><circle cx="199.0" cy="150.1" r="1.28" fill="#00007f"/><circle cx="211.0" cy="150.1" r="1.28" fill="#00007f"/><circle cx="187.2" cy="151.2" r="1.28" fill="#00007f"/><circle cx="201.0" cy="151.1" r="1.28" fill="#00007f"/><circle cx="200.4" cy="151.2" r="1.28" fill="#00007f"/><circle cx="202.2" cy="150.1" r="1.28" fill="#00007f"/><circle cx="187.5" cy="150.7" r="1.28" fill="#00007f"/><circle cx="208.1" cy="151.3" r="1.28" fill="#00007f"/><circle cx="189.9" cy="150.8" r="1.28" fill="#00007f"/><circle cx="199.2" cy="150.6" r="1.28" fill="#00007f"/><circle cx="191.8" cy="150.3" r="1.28" fill="#00007f"/><circle cx="204.2" cy="151.3" r="1.28" fill="#00007f"/><circle cx="190.6" cy="150.6" r="1.28" fill="#00007f"/><circle cx="213.6" cy="151.3" r="1.28" fill="#00007f"/><circle cx="193.5" cy="150.0" r="1.28" fill="#00007f"/><circle cx="218.1" cy="151.4" r="1.28" fill="#00007f"/><circle cx="202.9" cy="149.9" r="1.28" fill="#00007f"/><circle cx="217.6" cy="150.4" r="1.28" fill="#00007f"/><circle cx="216.8" cy="150.8" r="1.28" fill="#00007f"/><circle cx="214.2" cy="150.1" r="1.28" fill="#00007f"/><circle cx="212.9" cy="150.2" r="1.28" fill="#00007f"/><circle cx="200.3" cy="151.2" r="1.28" fill="#00007f"/><circle cx="214.4" cy="150.1" r="1.28" fill="#00007f"/><circle cx="194.2" cy="150.4" r="1.28" fill="#00007f"/><circle cx="204.1" cy="150.4" r="1.28" fill="#00007f"/><circle cx="191.1" cy="150.2" r="1.28" fill="#00007f"/><circle cx="210.9" cy="151.2" r="1.28" fill="#00007f"/><circle cx="188.4" cy="150.7" r="1.28" fill="#00007f"/><circle cx="212.0" cy="149.9" r="1.28" fill="#00007f"/><circle cx="214.7" cy="150.0" r="1.28" fill="#00007f"/><circle cx="206.8" cy="150.7" r="1.28" fill="#00007f"/><circle cx="207.7" cy="150.3" r="1.28" fill="#00007f"/><circle cx="200.9" cy="150.7" r="1.28" fill="#00007f"/><circle cx="201.0" cy="150.9" r="1.28" fill="#00007f"/><circle cx="201.7" cy="150.5" r="1.28" fill="#00007f"/><circle cx="187.8" cy="150.8" r="1.28" fill="#00007f"/><circle cx="203.2" cy="150.2" r="1.28" fill="#00007f"/><circle cx="212.2" cy="151.0" r="1.28" fill="#00007f"/><circle cx="202.1" cy="150.1" r="1.28" fill="#00007f"/><circle cx="202.6" cy="150.0" r="1.28" fill="#00007f"/><circle cx="191.2" cy="150.5" r="1.28" fill="#00007f"/><circle cx="190.0" cy="150.5" r="1.28" fill="#00007f"/><circle cx="203.8" cy="149.9" r="1.28" fill="#00007f"/><circle cx="208.0" cy="149.9" r="1.28" fill="#00007f"/><circle cx="211.2" cy="151.0" r="1.28" fill="#00007f"/><circle cx="203.9" cy="149.9" r="1.28" fill="#00007f"/><circle cx="203.6" cy="150.4" r="1.28" fill="#00007f"/><circle cx="218.4" cy="150.0" r="1.28" fill="#00007f"/><circle cx="215.3" cy="151.4" r="1.28" fill="#00007f"/><circle cx="211.2" cy="151.1" r="1.28" fill="#00007f"/><circle cx="193.4" cy="151.4" r="1.28" fill="#00007f"/><circle cx="203.2" cy="151.3" r="1.28" fill="#00007f"/><circle cx="217.2" cy="150.1" r="1.28" fill="#00007f"/><circle cx="213.0" cy="151.3" r="1.28" fill="#00007f"/><circle cx="189.2" cy="150.4" r="1.28" fill="#00007f"/><circle cx="239.9" cy="150.1" r="1.28" fill="#00007f"/><circle cx="242.8" cy="150.2" r="1.28" fill="#00007f"/><circle cx="241.1" cy="150.0" r="1.28" fill="#00007f"/><circle cx="234.5" cy="151.3" r="1.28" fill="#00007f"/><circle cx="228.4" cy="150.2" r="1.28" fill="#00007f"/><circle cx="234.6" cy="150.3" r="1.28" fill="#00007f"/><circle cx="224.8" cy="150.1" r="1.28" fill="#00007f"/><circle cx="227.4" cy="151.3" r="1.28" fill="#00007f"/><circle cx="238.3" cy="151.2" r="1.28" fill="#00007f"/><circle cx="227.5" cy="151.1" r="1.28" fill="#00007f"/><circle cx="226.4" cy="150.6" r="1.28" fill="#00007f"/><circle cx="237.4" cy="150.4" r="1.28" fill="#00007f"/><circle cx="242.3" cy="150.7" r="1.28" fill="#00007f"/><circle cx="236.2" cy="151.2" r="1.28" fill="#00007f"/><circle cx="226.2" cy="151.4" r="1.28" fill="#00007f"/><circle cx="237.2" cy="150.4" r="1.28" fill="#00007f"/><circle cx="240.8" cy="150.2" r="1.28" fill="#00007f"/><circle cx="244.8" cy="150.7" r="1.28" fill="#00007f"/><circle cx="231.6" cy="151.0" r="1.28" fill="#00007f"/><circle cx="233.3" cy="150.1" r="1.28" fill="#00007f"/><circle cx="239.6" cy="149.9" r="1.28" fill="#00007f"/><circle cx="241.2" cy="150.2" r="1.28" fill="#00007f"/><circle cx="237.4" cy="151.4" r="1.28" fill="#00007f"/><circle cx="236.3" cy="150.9" r="1.28" fill="#00007f"/><circle cx="230.6" cy="149.8" r="1.28" fill="#00007f"/><circle cx="224.7" cy="150.0" r="1.28" fill="#00007f"/><circle cx="236.9" cy="150.5" r="1.28" fill="#00007f"/><circle cx="234.8" cy="151.2" r="1.28" fill="#00007f"/><circle cx="226.8" cy="150.2" r="1.28" fill="#00007f"/><circle cx="237.7" cy="149.8" r="1.28" fill="#00007f"/><circle cx="224.1" cy="150.4" r="1.28" fill="#00007f"/><circle cx="226.2" cy="150.4" r="1.28" fill="#00007f"/><circle cx="228.7" cy="150.7" r="1.28" fill="#00007f"/><circle cx="236.4" cy="150.1" r="1.28" fill="#00007f"/><circle cx="237.1" cy="150.6" r="1.28" fill="#00007f"/><circle cx="226.8" cy="151.3" r="1.28" fill="#00007f"/><circle cx="229.1" cy="150.0" r="1.28" fill="#00007f"/><circle cx="226.0" cy="150.8" r="1.28" fill="#00007f"/><circle cx="242.3" cy="151.1" r="1.28" fill="#00007f"/><circle cx="232.4" cy="150.2" r="1.28" fill="#00007f"/><circle cx="224.2" cy="150.8" r="1.28" fill="#00007f"/><circle cx="235.8" cy="150.4" r="1.28" fill="#00007f"/><circle cx="237.6" cy="150.5" r="1.28" fill="#00007f"/><circle cx="243.7" cy="151.0" r="1.28" fill="#00007f"/><circle cx="229.2" cy="151.2" r="1.28" fill="#00007f"/><circle cx="224.9" cy="150.7" r="1.28" fill="#00007f"/><circle cx="221.6" cy="150.8" r="1.28" fill="#00007f"/><circle cx="220.2" cy="151.2" r="1.28" fill="#00007f"/><circle cx="220.0" cy="151.0" r="1.28" fill="#00007f"/><circle cx="223.8" cy="150.7" r="1.28" fill="#00007f"/><circle cx="256.0" cy="150.7" r="1.28" fill="#00007f"/><circle cx="272.9" cy="150.8" r="1.28" fill="#00007f"/><circle cx="289.7" cy="150.1" r="1.28" fill="#00007f"/><circle cx="262.0" cy="150.3" r="1.28" fill="#00007f"/><circle cx="247.7" cy="151.1" r="1.28" fill="#00007f"/><circle cx="288.1" cy="150.9" r="1.28" fill="#00007f"/><circle cx="245.3" cy="151.1" r="1.28" fill="#00007f"/><circle cx="286.0" cy="150.5" r="1.28" fill="#00007f"/><circle cx="285.8" cy="150.5" r="1.28" fill="#00007f"/><circle cx="257.4" cy="150.0" r="1.28" fill="#00007f"/><circle cx="257.8" cy="149.9" r="1.28" fill="#00007f"/><circle cx="263.5" cy="150.9" r="1.28" fill="#00007f"/><circle cx="283.2" cy="151.1" r="1.28" fill="#00007f"/><circle cx="284.1" cy="150.2" r="1.28" fill="#00007f"/><circle cx="275.5" cy="150.5" r="1.28" fill="#00007f"/><circle cx="288.4" cy="150.6" r="1.28" fill="#00007f"/><circle cx="259.6" cy="150.8" r="1.28" fill="#00007f"/><circle cx="298.1" cy="150.1" r="1.28" fill="#00007f"/><circle cx="293.4" cy="149.8" r="1.28" fill="#00007f"/><circle cx="259.3" cy="150.2" r="1.28" fill="#00007f"/><circle cx="285.9" cy="151.2" r="1.28" fill="#00007f"/><circle cx="286.0" cy="150.3" r="1.28" fill="#00007f"/><circle cx="293.4" cy="150.3" r="1.28" fill="#00007f"/><circle cx="258.2" cy="151.2" r="1.28" fill="#00007f"/><circle cx="279.7" cy="150.8" r="1.28" fill="#00007f"/><circle cx="281.6" cy="151.3" r="1.28" fill="#00007f"/><circle cx="270.8" cy="151.1" r="1.28" fill="#00007f"/><circle cx="283.4" cy="151.1" r="1.28" fill="#00007f"/><circle cx="269.0" cy="150.9" r="1.28" fill="#00007f"/><circle cx="276.4" cy="150.3" r="1.28" fill="#00007f"/><circle cx="256.7" cy="150.7" r="1.28" fill="#00007f"/><circle cx="249.3" cy="151.2" r="1.28" fill="#00007f"/><circle cx="253.0" cy="149.8" r="1.28" fill="#00007f"/><circle cx="250.9" cy="151.2" r="1.28" fill="#00007f"/><circle cx="264.0" cy="150.0" r="1.28" fill="#00007f"/><circle cx="246.6" cy="149.9" r="1.28" fill="#00007f"/><circle cx="283.1" cy="150.8" r="1.28" fill="#00007f"/><circle cx="283.3" cy="150.9" r="1.28" fill="#00007f"/><circle cx="248.6" cy="150.7" r="1.28" fill="#00007f"/><circle cx="265.0" cy="151.0" r="1.28" fill="#00007f"/><circle cx="290.1" cy="151.1" r="1.28" fill="#00007f"/><circle cx="248.6" cy="151.1" r="1.28" fill="#00007f"/><circle cx="295.3" cy="151.2" r="1.28" fill="#00007f"/><circle cx="250.9" cy="150.1" r="1.28" fill="#00007f"/><circle cx="251.2" cy="149.9" r="1.28" fill="#00007f"/><circle cx="291.6" cy="151.0" r="1.28" fill="#00007f"/><circle cx="279.9" cy="151.0" r="1.28" fill="#00007f"/><circle cx="279.7" cy="150.2" r="1.28" fill="#00007f"/><circle cx="250.5" cy="149.9" r="1.28" fill="#00007f"/><circle cx="286.7" cy="150.1" r="1.28" fill="#00007f"/><circle cx="262.6" cy="150.4" r="1.28" fill="#00007f"/><circle cx="246.2" cy="150.2" r="1.28" fill="#00007f"/><circle cx="260.5" cy="150.9" r="1.28" fill="#00007f"/><circle cx="265.2" cy="150.3" r="1.28" fill="#00007f"/><circle cx="298.0" cy="150.6" r="1.28" fill="#00007f"/><circle cx="291.8" cy="150.7" r="1.28" fill="#00007f"/><circle cx="246.7" cy="150.4" r="1.28" fill="#00007f"/><circle cx="269.0" cy="151.0" r="1.28" fill="#00007f"/><circle cx="264.1" cy="150.9" r="1.28" fill="#00007f"/><circle cx="274.6" cy="150.1" r="1.28" fill="#00007f"/><circle cx="292.4" cy="149.9" r="1.28" fill="#00007f"/><circle cx="290.1" cy="150.1" r="1.28" fill="#00007f"/><circle cx="245.1" cy="150.1" r="1.28" fill="#00007f"/><circle cx="286.9" cy="151.3" r="1.28" fill="#00007f"/><circle cx="245.2" cy="150.5" r="1.28" fill="#00007f"/><circle cx="272.0" cy="151.0" r="1.28" fill="#00007f"/><circle cx="255.1" cy="150.5" r="1.28" fill="#00007f"/><circle cx="264.1" cy="151.0" r="1.28" fill="#00007f"/><circle cx="259.3" cy="151.2" r="1.28" fill="#00007f"/><circle cx="260.6" cy="150.1" r="1.28" fill="#00007f"/><circle cx="283.5" cy="150.5" r="1.28" fill="#00007f"/><circle cx="251.0" cy="150.8" r="1.28" fill="#00007f"/><circle cx="249.4" cy="151.0" r="1.28" fill="#00007f"/><circle cx="283.3" cy="151.0" r="1.28" fill="#00007f"/><circle cx="279.5" cy="150.3" r="1.28" fill="#00007f"/><circle cx="267.1" cy="150.4" r="1.28" fill="#00007f"/><circle cx="294.0" cy="149.9" r="1.28" fill="#00007f"/><circle cx="293.9" cy="149.8" r="1.28" fill="#00007f"/><circle cx="256.3" cy="150.2" r="1.28" fill="#00007f"/><circle cx="294.6" cy="150.6" r="1.28" fill="#00007f"/><circle cx="265.9" cy="151.1" r="1.28" fill="#00007f"/><circle cx="257.8" cy="150.5" r="1.28" fill="#00007f"/><circle cx="274.2" cy="150.9" r="1.28" fill="#00007f"/><circle cx="286.4" cy="150.8" r="1.28" fill="#00007f"/><circle cx="264.2" cy="150.3" r="1.28" fill="#00007f"/><circle cx="253.5" cy="151.1" r="1.28" fill="#00007f"/><circle cx="281.4" cy="150.9" r="1.28" fill="#00007f"/><circle cx="254.3" cy="150.5" r="1.28" fill="#00007f"/><circle cx="287.5" cy="150.7" r="1.28" fill="#00007f"/><circle cx="251.9" cy="150.5" r="1.28" fill="#00007f"/><circle cx="293.7" cy="150.2" r="1.28" fill="#00007f"/><circle cx="255.5" cy="150.3" r="1.28" fill="#00007f"/><circle cx="283.7" cy="151.1" r="1.28" fill="#00007f"/><circle cx="253.5" cy="150.0" r="1.28" fill="#00007f"/><circle cx="258.6" cy="150.3" r="1.28" fill="#00007f"/><circle cx="273.7" cy="150.0" r="1.28" fill="#00007f"/><circle cx="263.0" cy="150.1" r="1.28" fill="#00007f"/><circle cx="298.6" cy="150.9" r="1.28" fill="#00007f"/><circle cx="250.6" cy="151.2" r="1.28" fill="#00007f"/><circle cx="250.6" cy="150.4" r="1.28" fill="#00007f"/><circle cx="299.1" cy="151.0" r="1.28" fill="#00007f"/><circle cx="285.3" cy="150.5" r="1.28" fill="#00007f"/><circle cx="255.8" cy="150.8" r="1.28" fill="#00007f"/><circle cx="250.9" cy="150.1" r="1.28" fill="#00007f"/><circle cx="266.4" cy="149.9" r="1.28" fill="#00007f"/><circle cx="266.9" cy="151.0" r="1.28" fill="#00007f"/><circle cx="283.1" cy="150.6" r="1.28" fill="#00007f"/><circle cx="279.8" cy="150.5" r="1.28" fill="#00007f"/><circle cx="252.8" cy="150.7" r="1.28" fill="#00007f"/><circle cx="267.3" cy="150.9" r="1.28" fill="#00007f"/><circle cx="345.4" cy="150.5" r="1.28" fill="#00007f"/><circle cx="328.7" cy="150.8" r="1.28" fill="#00007f"/><circle cx="321.1" cy="150.4" r="1.28" fill="#00007f"/><circle cx="336.1" cy="150.9" r="1.28" fill="#00007f"/><circle cx="338.7" cy="150.8" r="1.28" fill="#00007f"/><circle cx="342.6" cy="150.7" r="1.28" fill="#00007f"/><circle cx="332.1" cy="150.6" r="1.28" fill="#00007f"/><circle cx="315.7" cy="150.7" r="1.28" fill="#00007f"/><circle cx="304.9" cy="150.5" r="1.28" fill="#00007f"/><circle cx="339.1" cy="150.8" r="1.28" fill="#00007f"/><circle cx="331.5" cy="150.4" r="1.28" fill="#00007f"/><circle cx="321.2" cy="150.6" r="1.28" fill="#00007f"/><circle cx="331.1" cy="150.5" r="1.28" fill="#00007f"/><circle cx="333.8" cy="150.9" r="1.28" fill="#00007f"/><circle cx="309.2" cy="150.7" r="1.28" fill="#00007f"/><circle cx="338.9" cy="150.5" r="1.28" fill="#00007f"/><circle cx="324.5" cy="151.0" r="1.28" fill="#00007f"/><circle cx="301.9" cy="150.6" r="1.28" fill="#00007f"/><circle cx="308.0" cy="150.8" r="1.28" fill="#00007f"/><circle cx="347.0" cy="150.6" r="1.28" fill="#00007f"/><circle cx="305.1" cy="150.7" r="1.28" fill="#00007f"/><circle cx="327.1" cy="150.8" r="1.28" fill="#00007f"/><circle cx="325.6" cy="150.7" r="1.28" fill="#00007f"/><circle cx="341.4" cy="150.6" r="1.28" fill="#00007f"/><circle cx="320.5" cy="151.0" r="1.28" fill="#00007f"/><circle cx="364.2" cy="150.8" r="1.28" fill="#00007f"/><circle cx="371.3" cy="150.9" r="1.28" fill="#00007f"/><circle cx="360.8" cy="151.1" r="1.28" fill="#00007f"/><circle cx="369.9" cy="150.3" r="1.28" fill="#00007f"/><circle cx="366.7" cy="150.6" r="1.28" fill="#00007f"/><circle cx="356.5" cy="150.6" r="1.28" fill="#00007f"/><circle cx="372.4" cy="150.8" r="1.28" fill="#00007f"/><circle cx="369.7" cy="150.4" r="1.28" fill="#00007f"/><circle cx="364.8" cy="150.9" r="1.28" fill="#00007f"/><circle cx="392.7" cy="150.7" r="1.28" fill="#00007f"/><circle cx="364.5" cy="150.9" r="1.28" fill="#00007f"/><circle cx="371.3" cy="150.4" r="1.28" fill="#00007f"/><circle cx="361.0" cy="150.9" r="1.28" fill="#00007f"/><circle cx="387.6" cy="150.8" r="1.28" fill="#00007f"/><circle cx="374.3" cy="150.7" r="1.28" fill="#00007f"/><circle cx="364.8" cy="151.1" r="1.28" fill="#00007f"/><circle cx="369.8" cy="150.8" r="1.28" fill="#00007f"/><circle cx="387.9" cy="150.9" r="1.28" fill="#00007f"/><circle cx="374.3" cy="150.5" r="1.28" fill="#00007f"/><circle cx="377.4" cy="150.3" r="1.28" fill="#00007f"/><circle cx="388.5" cy="150.5" r="1.28" fill="#00007f"/><circle cx="389.2" cy="150.4" r="1.28" fill="#00007f"/><circle cx="370.7" cy="150.4" r="1.28" fill="#00007f"/><circle cx="372.6" cy="150.4" r="1.28" fill="#00007f"/><circle cx="356.1" cy="150.8" r="1.28" fill="#00007f"/><circle cx="367.0" cy="150.4" r="1.28" fill="#00007f"/><circle cx="367.8" cy="150.6" r="1.28" fill="#00007f"/><circle cx="372.7" cy="150.8" r="1.28" fill="#00007f"/><circle cx="381.7" cy="150.5" r="1.28" fill="#00007f"/><circle cx="392.2" cy="151.0" r="1.28" fill="#00007f"/><circle cx="358.2" cy="150.9" r="1.28" fill="#00007f"/><circle cx="391.3" cy="150.9" r="1.28" fill="#00007f"/><circle cx="361.5" cy="150.9" r="1.28" fill="#00007f"/><circle cx="380.7" cy="150.2" r="1.28" fill="#00007f"/><circle cx="356.4" cy="151.1" r="1.28" fill="#00007f"/><circle cx="381.6" cy="150.4" r="1.28" fill="#00007f"/><circle cx="360.0" cy="150.3" r="1.28" fill="#00007f"/><circle cx="365.1" cy="150.9" r="1.28" fill="#00007f"/><circle cx="369.5" cy="150.3" r="1.28" fill="#00007f"/><circle cx="391.3" cy="150.9" r="1.28" fill="#00007f"/><circle cx="362.5" cy="151.0" r="1.28" fill="#00007f"/><circle cx="379.7" cy="150.9" r="1.28" fill="#00007f"/><circle cx="382.1" cy="151.0" r="1.28" fill="#00007f"/><circle cx="386.7" cy="151.0" r="1.28" fill="#00007f"/><circle cx="363.7" cy="150.8" r="1.28" fill="#00007f"/><circle cx="376.7" cy="150.9" r="1.28" fill="#00007f"/><circle cx="476.6" cy="151.3" r="1.28" fill="#00007f"/><circle cx="498.2" cy="150.6" r="1.28" fill="#00007f"/><circle cx="438.6" cy="150.5" r="1.28" fill="#00007f"/><circle cx="486.7" cy="150.4" r="1.28" fill="#00007f"/><circle cx="481.9" cy="150.5" r="1.28" fill="#00007f"/><circle cx="486.4" cy="150.8" r="1.28" fill="#00007f"/><circle cx="495.4" cy="151.2" r="1.28" fill="#00007f"/><circle cx="396.2" cy="151.2" r="1.28" fill="#00007f"/><circle cx="482.0" cy="150.9" r="1.28" fill="#00007f"/><circle cx="518.7" cy="151.2" r="1.28" fill="#00007f"/><circle cx="464.7" cy="150.8" r="1.28" fill="#00007f"/><circle cx="573.7" cy="150.4" r="1.28" fill="#00007f"/><circle cx="513.5" cy="151.0" r="1.28" fill="#00007f"/><circle cx="400.3" cy="151.0" r="1.28" fill="#00007f"/><circle cx="522.0" cy="151.3" r="1.28" fill="#00007f"/><circle cx="456.5" cy="151.4" r="1.28" fill="#00007f"/><circle cx="490.0" cy="150.8" r="1.28" fill="#00007f"/><circle cx="561.9" cy="150.3" r="1.28" fill="#00007f"/><circle cx="528.6" cy="151.0" r="1.28" fill="#00007f"/><circle cx="458.0" cy="151.2" r="1.28" fill="#00007f"/><circle cx="463.1" cy="150.8" r="1.28" fill="#00007f"/><circle cx="492.7" cy="151.1" r="1.28" fill="#00007f"/><circle cx="434.2" cy="150.8" r="1.28" fill="#00007f"/><circle cx="473.6" cy="150.9" r="1.28" fill="#00007f"/><circle cx="548.8" cy="150.6" r="1.28" fill="#00007f"/><circle cx="549.0" cy="150.7" r="1.28" fill="#00007f"/><circle cx="488.7" cy="150.6" r="1.28" fill="#00007f"/><circle cx="489.2" cy="151.4" r="1.28" fill="#00007f"/><circle cx="516.7" cy="151.2" r="1.28" fill="#00007f"/><circle cx="456.5" cy="150.6" r="1.28" fill="#00007f"/><circle cx="450.7" cy="150.9" r="1.28" fill="#00007f"/><circle cx="513.1" cy="151.2" r="1.28" fill="#00007f"/><circle cx="402.4" cy="151.1" r="1.28" fill="#00007f"/><circle cx="559.7" cy="150.9" r="1.28" fill="#00007f"/><circle cx="404.2" cy="150.6" r="1.28" fill="#00007f"/><circle cx="396.2" cy="150.5" r="1.28" fill="#00007f"/><circle cx="566.4" cy="151.0" r="1.28" fill="#00007f"/><circle cx="517.4" cy="151.2" r="1.28" fill="#00007f"/><circle cx="564.2" cy="151.0" r="1.28" fill="#00007f"/><circle cx="509.7" cy="151.0" r="1.28" fill="#00007f"/><circle cx="524.5" cy="151.0" r="1.28" fill="#00007f"/><circle cx="521.7" cy="150.5" r="1.28" fill="#00007f"/><circle cx="519.1" cy="150.8" r="1.28" fill="#00007f"/><circle cx="536.9" cy="150.4" r="1.28" fill="#00007f"/><circle cx="428.7" cy="150.3" r="1.28" fill="#00007f"/><circle cx="539.1" cy="151.3" r="1.28" fill="#00007f"/><circle cx="517.0" cy="150.7" r="1.28" fill="#00007f"/><circle cx="548.0" cy="151.2" r="1.28" fill="#00007f"/><circle cx="499.6" cy="150.6" r="1.28" fill="#00007f"/><circle cx="451.2" cy="150.8" r="1.28" fill="#00007f"/><circle cx="454.2" cy="150.8" r="1.28" fill="#00007f"/><circle cx="514.4" cy="151.3" r="1.28" fill="#00007f"/><circle cx="405.2" cy="150.9" r="1.28" fill="#00007f"/><circle cx="402.3" cy="150.4" r="1.28" fill="#00007f"/><circle cx="545.7" cy="150.9" r="1.28" fill="#00007f"/><circle cx="565.9" cy="150.8" r="1.28" fill="#00007f"/><circle cx="397.6" cy="150.7" r="1.28" fill="#00007f"/><circle cx="505.1" cy="151.3" r="1.28" fill="#00007f"/><circle cx="577.4" cy="150.8" r="1.28" fill="#00007f"/><circle cx="471.7" cy="150.4" r="1.28" fill="#00007f"/><circle cx="514.9" cy="150.5" r="1.28" fill="#00007f"/><circle cx="423.2" cy="150.3" r="1.28" fill="#00007f"/><circle cx="395.9" cy="151.1" r="1.28" fill="#00007f"/><circle cx="417.6" cy="151.4" r="1.28" fill="#00007f"/><circle cx="411.4" cy="151.3" r="1.28" fill="#00007f"/><circle cx="419.0" cy="150.3" r="1.28" fill="#00007f"/><circle cx="528.8" cy="150.6" r="1.28" fill="#00007f"/><circle cx="531.4" cy="150.5" r="1.28" fill="#00007f"/><circle cx="404.3" cy="151.2" r="1.28" fill="#00007f"/><circle cx="527.7" cy="151.2" r="1.28" fill="#00007f"/><circle cx="530.7" cy="150.4" r="1.28" fill="#00007f"/><circle cx="511.9" cy="151.1" r="1.28" fill="#00007f"/><circle cx="480.7" cy="151.3" r="1.28" fill="#00007f"/><circle cx="442.3" cy="151.4" r="1.28" fill="#00007f"/><circle cx="528.4" cy="150.3" r="1.28" fill="#00007f"/><circle cx="397.7" cy="151.0" r="1.28" fill="#00007f"/><circle cx="547.0" cy="150.4" r="1.28" fill="#00007f"/><circle cx="452.9" cy="151.1" r="1.28" fill="#00007f"/><circle cx="425.9" cy="151.2" r="1.28" fill="#00007f"/><circle cx="485.5" cy="150.4" r="1.28" fill="#00007f"/><circle cx="463.4" cy="150.9" r="1.28" fill="#00007f"/><circle cx="476.6" cy="151.0" r="1.28" fill="#00007f"/><circle cx="422.0" cy="151.2" r="1.28" fill="#00007f"/><circle cx="462.6" cy="151.0" r="1.28" fill="#00007f"/><circle cx="512.1" cy="150.8" r="1.28" fill="#00007f"/><circle cx="466.7" cy="151.2" r="1.28" fill="#00007f"/><circle cx="570.8" cy="151.2" r="1.28" fill="#00007f"/><circle cx="500.4" cy="150.6" r="1.28" fill="#00007f"/><circle cx="406.3" cy="151.4" r="1.28" fill="#00007f"/><circle cx="525.8" cy="151.2" r="1.28" fill="#00007f"/><circle cx="456.8" cy="151.0" r="1.28" fill="#00007f"/><circle cx="576.8" cy="151.2" r="1.28" fill="#00007f"/><circle cx="506.8" cy="150.6" r="1.28" fill="#00007f"/><circle cx="474.7" cy="151.3" r="1.28" fill="#00007f"/><circle cx="465.1" cy="151.1" r="1.28" fill="#00007f"/><circle cx="506.9" cy="151.3" r="1.28" fill="#00007f"/><circle cx="545.2" cy="150.6" r="1.28" fill="#00007f"/><circle cx="395.3" cy="150.6" r="1.28" fill="#00007f"/><circle cx="473.6" cy="150.9" r="1.28" fill="#00007f"/><circle cx="546.8" cy="151.3" r="1.28" fill="#00007f"/><circle cx="402.9" cy="151.2" r="1.28" fill="#00007f"/><circle cx="546.0" cy="151.3" r="1.28" fill="#00007f"/><circle cx="501.4" cy="150.6" r="1.28" fill="#00007f"/><circle cx="553.3" cy="151.2" r="1.28" fill="#00007f"/><circle cx="522.3" cy="151.3" r="1.28" fill="#00007f"/><circle cx="459.5" cy="150.4" r="1.28" fill="#00007f"/><circle cx="498.0" cy="151.2" r="1.28" fill="#00007f"/><circle cx="432.3" cy="151.1" r="1.28" fill="#00007f"/><circle cx="568.3" cy="150.6" r="1.28" fill="#00007f"/><circle cx="507.9" cy="151.0" r="1.28" fill="#00007f"/><circle cx="481.6" cy="150.5" r="1.28" fill="#00007f"/><circle cx="442.4" cy="151.1" r="1.28" fill="#00007f"/><circle cx="542.2" cy="150.8" r="1.28" fill="#00007f"/><circle cx="411.3" cy="151.2" r="1.28" fill="#00007f"/><circle cx="538.6" cy="150.6" r="1.28" fill="#00007f"/><circle cx="502.8" cy="151.3" r="1.28" fill="#00007f"/><circle cx="559.6" cy="150.9" r="1.28" fill="#00007f"/><circle cx="483.6" cy="150.9" r="1.28" fill="#00007f"/><circle cx="430.2" cy="150.5" r="1.28" fill="#00007f"/><circle cx="428.6" cy="151.1" r="1.28" fill="#00007f"/><circle cx="462.5" cy="150.9" r="1.28" fill="#00007f"/><circle cx="469.9" cy="150.9" r="1.28" fill="#00007f"/><circle cx="422.7" cy="150.3" r="1.28" fill="#00007f"/><circle cx="580.5" cy="150.7" r="1.28" fill="#00007f"/><circle cx="414.7" cy="151.0" r="1.28" fill="#00007f"/><circle cx="541.4" cy="150.5" r="1.28" fill="#00007f"/><circle cx="506.1" cy="150.7" r="1.28" fill="#00007f"/><circle cx="491.6" cy="150.3" r="1.28" fill="#00007f"/><circle cx="401.2" cy="151.4" r="1.28" fill="#00007f"/><circle cx="556.1" cy="150.8" r="1.28" fill="#00007f"/><circle cx="500.5" cy="150.6" r="1.28" fill="#00007f"/><circle cx="539.9" cy="150.8" r="1.28" fill="#00007f"/><circle cx="571.0" cy="151.1" r="1.28" fill="#00007f"/><circle cx="547.3" cy="151.4" r="1.28" fill="#00007f"/><circle cx="442.2" cy="150.3" r="1.28" fill="#00007f"/><circle cx="432.4" cy="150.5" r="1.28" fill="#00007f"/><circle cx="410.6" cy="150.4" r="1.28" fill="#00007f"/><circle cx="498.7" cy="151.3" r="1.28" fill="#00007f"/><circle cx="480.2" cy="151.3" r="1.28" fill="#00007f"/><circle cx="564.2" cy="150.4" r="1.28" fill="#00007f"/><circle cx="506.2" cy="150.7" r="1.28" fill="#00007f"/><circle cx="417.3" cy="151.4" r="1.28" fill="#00007f"/><circle cx="442.8" cy="150.9" r="1.28" fill="#00007f"/><circle cx="514.2" cy="151.4" r="1.28" fill="#00007f"/><circle cx="519.6" cy="150.7" r="1.28" fill="#00007f"/><circle cx="478.4" cy="150.5" r="1.28" fill="#00007f"/><circle cx="574.6" cy="151.4" r="1.28" fill="#00007f"/><circle cx="436.2" cy="150.3" r="1.28" fill="#00007f"/><circle cx="442.6" cy="150.7" r="1.28" fill="#00007f"/><circle cx="562.9" cy="151.3" r="1.28" fill="#00007f"/><circle cx="550.7" cy="150.4" r="1.28" fill="#00007f"/><circle cx="541.3" cy="151.1" r="1.28" fill="#00007f"/><circle cx="515.3" cy="151.4" r="1.28" fill="#00007f"/><circle cx="405.4" cy="150.5" r="1.28" fill="#00007f"/><circle cx="535.4" cy="151.3" r="1.28" fill="#00007f"/><circle cx="520.9" cy="150.6" r="1.28" fill="#00007f"/><circle cx="505.0" cy="151.1" r="1.28" fill="#00007f"/><circle cx="414.6" cy="150.7" r="1.28" fill="#00007f"/><circle cx="442.8" cy="150.4" r="1.28" fill="#00007f"/><circle cx="484.5" cy="150.5" r="1.28" fill="#00007f"/><circle cx="439.4" cy="150.5" r="1.28" fill="#00007f"/><circle cx="521.0" cy="150.3" r="1.28" fill="#00007f"/><circle cx="528.4" cy="150.5" r="1.28" fill="#00007f"/><circle cx="401.7" cy="151.3" r="1.28" fill="#00007f"/><circle cx="436.0" cy="151.3" r="1.28" fill="#00007f"/><circle cx="556.2" cy="151.3" r="1.28" fill="#00007f"/><circle cx="421.0" cy="150.8" r="1.28" fill="#00007f"/><circle cx="413.0" cy="151.3" r="1.28" fill="#00007f"/><circle cx="551.7" cy="151.0" r="1.28" fill="#00007f"/><circle cx="479.1" cy="150.7" r="1.28" fill="#00007f"/><circle cx="548.1" cy="150.8" r="1.28" fill="#00007f"/><circle cx="511.8" cy="150.5" r="1.28" fill="#00007f"/><circle cx="436.2" cy="150.4" r="1.28" fill="#00007f"/><circle cx="527.8" cy="150.9" r="1.28" fill="#00007f"/><circle cx="421.9" cy="151.3" r="1.28" fill="#00007f"/><circle cx="444.5" cy="150.8" r="1.28" fill="#00007f"/><circle cx="424.0" cy="150.6" r="1.28" fill="#00007f"/><circle cx="551.2" cy="150.7" r="1.28" fill="#00007f"/><circle cx="426.2" cy="150.8" r="1.28" fill="#00007f"/><circle cx="454.2" cy="151.3" r="1.28" fill="#00007f"/><circle cx="416.2" cy="151.4" r="1.28" fill="#00007f"/><circle cx="405.6" cy="151.3" r="1.28" fill="#00007f"/><circle cx="519.3" cy="150.5" r="1.28" fill="#00007f"/><circle cx="483.8" cy="150.6" r="1.28" fill="#00007f"/><circle cx="442.9" cy="150.5" r="1.28" fill="#00007f"/><circle cx="462.8" cy="151.4" r="1.28" fill="#00007f"/><circle cx="580.6" cy="151.3" r="1.28" fill="#00007f"/><circle cx="413.1" cy="150.6" r="1.28" fill="#00007f"/><circle cx="561.7" cy="150.4" r="1.28" fill="#00007f"/><circle cx="530.1" cy="150.6" r="1.28" fill="#00007f"/><circle cx="577.0" cy="150.3" r="1.28" fill="#00007f"/><circle cx="545.1" cy="150.7" r="1.28" fill="#00007f"/><circle cx="421.1" cy="150.3" r="1.28" fill="#00007f"/><circle cx="549.8" cy="150.9" r="1.28" fill="#00007f"/><circle cx="429.6" cy="150.8" r="1.28" fill="#00007f"/><circle cx="564.6" cy="150.5" r="1.28" fill="#00007f"/><circle cx="501.3" cy="150.5" r="1.28" fill="#00007f"/><circle cx="428.5" cy="151.1" r="1.28" fill="#00007f"/><circle cx="527.4" cy="150.5" r="1.28" fill="#00007f"/><circle cx="409.7" cy="150.4" r="1.28" fill="#00007f"/><circle cx="508.2" cy="150.8" r="1.28" fill="#00007f"/><circle cx="445.9" cy="150.5" r="1.28" fill="#00007f"/><circle cx="508.9" cy="151.1" r="1.28" fill="#00007f"/><circle cx="546.0" cy="150.9" r="1.28" fill="#00007f"/><circle cx="432.6" cy="150.4" r="1.28" fill="#00007f"/><circle cx="531.3" cy="150.7" r="1.28" fill="#00007f"/><circle cx="529.2" cy="150.4" r="1.28" fill="#00007f"/><circle cx="545.8" cy="150.7" r="1.28" fill="#00007f"/><circle cx="551.6" cy="151.3" r="1.28" fill="#00007f"/><circle cx="486.7" cy="150.3" r="1.28" fill="#00007f"/><circle cx="564.3" cy="150.8" r="1.28" fill="#00007f"/><circle cx="557.2" cy="150.6" r="1.28" fill="#00007f"/><circle cx="429.6" cy="151.2" r="1.28" fill="#00007f"/><circle cx="463.3" cy="150.5" r="1.28" fill="#00007f"/><circle cx="464.0" cy="151.0" r="1.28" fill="#00007f"/><circle cx="395.9" cy="150.9" r="1.28" fill="#00007f"/><circle cx="477.9" cy="150.9" r="1.28" fill="#00007f"/><circle cx="417.5" cy="151.1" r="1.28" fill="#00007f"/><circle cx="546.9" cy="151.3" r="1.28" fill="#00007f"/><circle cx="454.7" cy="151.1" r="1.28" fill="#00007f"/><circle cx="465.9" cy="151.1" r="1.28" fill="#00007f"/><circle cx="406.4" cy="151.3" r="1.28" fill="#00007f"/><circle cx="572.5" cy="150.8" r="1.28" fill="#00007f"/><circle cx="490.5" cy="150.9" r="1.28" fill="#00007f"/><circle cx="494.9" cy="150.3" r="1.28" fill="#00007f"/><circle cx="574.9" cy="150.5" r="1.28" fill="#00007f"/><circle cx="428.9" cy="150.4" r="1.28" fill="#00007f"/><circle cx="441.6" cy="151.2" r="1.28" fill="#00007f"/><circle cx="400.6" cy="150.4" r="1.28" fill="#00007f"/><circle cx="525.0" cy="150.5" r="1.28" fill="#00007f"/><circle cx="398.3" cy="151.0" r="1.28" fill="#00007f"/><circle cx="502.2" cy="150.9" r="1.28" fill="#00007f"/><circle cx="525.7" cy="150.4" r="1.28" fill="#00007f"/><circle cx="556.7" cy="151.1" r="1.28" fill="#00007f"/><circle cx="403.4" cy="150.4" r="1.28" fill="#00007f"/><circle cx="486.8" cy="150.9" r="1.28" fill="#00007f"/><circle cx="447.0" cy="150.4" r="1.28" fill="#00007f"/><circle cx="470.5" cy="150.5" r="1.28" fill="#00007f"/><circle cx="505.1" cy="151.2" r="1.28" fill="#00007f"/><circle cx="422.4" cy="150.9" r="1.28" fill="#00007f"/><circle cx="533.9" cy="150.5" r="1.28" fill="#00007f"/><circle cx="548.6" cy="151.3" r="1.28" fill="#00007f"/><circle cx="467.3" cy="150.8" r="1.28" fill="#00007f"/><circle cx="551.2" cy="150.9" r="1.28" fill="#00007f"/><circle cx="468.6" cy="151.3" r="1.28" fill="#00007f"/><circle cx="539.5" cy="150.7" r="1.28" fill="#00007f"/><circle cx="439.7" cy="150.7" r="1.28" fill="#00007f"/><circle cx="476.0" cy="151.4" r="1.28" fill="#00007f"/><circle cx="544.6" cy="151.3" r="1.28" fill="#00007f"/><circle cx="546.6" cy="151.2" r="1.28" fill="#00007f"/><circle cx="405.0" cy="150.9" r="1.28" fill="#00007f"/><circle cx="573.2" cy="151.3" r="1.28" fill="#00007f"/><circle cx="441.4" cy="150.8" r="1.28" fill="#00007f"/><circle cx="512.7" cy="150.7" r="1.28" fill="#00007f"/><circle cx="493.7" cy="150.4" r="1.28" fill="#00007f"/><circle cx="475.5" cy="150.9" r="1.28" fill="#00007f"/><circle cx="398.9" cy="150.5" r="1.28" fill="#00007f"/><circle cx="575.4" cy="151.2" r="1.28" fill="#00007f"/><circle cx="569.3" cy="151.0" r="1.28" fill="#00007f"/><circle cx="545.5" cy="151.3" r="1.28" fill="#00007f"/><circle cx="559.5" cy="150.3" r="1.28" fill="#00007f"/><circle cx="514.3" cy="150.6" r="1.28" fill="#00007f"/><circle cx="521.2" cy="150.6" r="1.28" fill="#00007f"/><circle cx="495.9" cy="151.3" r="1.28" fill="#00007f"/><circle cx="510.6" cy="150.6" r="1.28" fill="#00007f"/><circle cx="491.8" cy="150.8" r="1.28" fill="#00007f"/><circle cx="571.9" cy="150.6" r="1.28" fill="#00007f"/><circle cx="451.8" cy="151.0" r="1.28" fill="#00007f"/><circle cx="417.4" cy="151.0" r="1.28" fill="#00007f"/><circle cx="572.8" cy="150.9" r="1.28" fill="#00007f"/><circle cx="444.9" cy="150.8" r="1.28" fill="#00007f"/><circle cx="494.3" cy="150.5" r="1.28" fill="#00007f"/><circle cx="418.0" cy="150.4" r="1.28" fill="#00007f"/><circle cx="449.6" cy="150.7" r="1.28" fill="#00007f"/><circle cx="448.6" cy="150.6" r="1.28" fill="#00007f"/><circle cx="411.3" cy="150.9" r="1.28" fill="#00007f"/><circle cx="551.2" cy="151.0" r="1.28" fill="#00007f"/><circle cx="501.1" cy="151.0" r="1.28" fill="#00007f"/><circle cx="432.4" cy="151.1" r="1.28" fill="#00007f"/><circle cx="480.7" cy="150.9" r="1.28" fill="#00007f"/><circle cx="509.0" cy="150.8" r="1.28" fill="#00007f"/><circle cx="452.8" cy="150.6" r="1.28" fill="#00007f"/><circle cx="436.2" cy="150.9" r="1.28" fill="#00007f"/><circle cx="466.3" cy="150.9" r="1.28" fill="#00007f"/><circle cx="397.2" cy="150.7" r="1.28" fill="#00007f"/><circle cx="555.3" cy="150.6" r="1.28" fill="#00007f"/><circle cx="498.5" cy="150.8" r="1.28" fill="#00007f"/><circle cx="448.0" cy="151.4" r="1.28" fill="#00007f"/><circle cx="450.0" cy="151.1" r="1.28" fill="#00007f"/><circle cx="424.5" cy="150.4" r="1.28" fill="#00007f"/><circle cx="557.1" cy="150.8" r="1.28" fill="#00007f"/><circle cx="406.5" cy="150.7" r="1.28" fill="#00007f"/><circle cx="476.8" cy="151.1" r="1.28" fill="#00007f"/><circle cx="415.3" cy="150.5" r="1.28" fill="#00007f"/><circle cx="573.4" cy="151.1" r="1.28" fill="#00007f"/><circle cx="423.7" cy="150.7" r="1.28" fill="#00007f"/><circle cx="460.6" cy="151.0" r="1.28" fill="#00007f"/><circle cx="509.6" cy="151.2" r="1.28" fill="#00007f"/><circle cx="547.7" cy="150.9" r="1.28" fill="#00007f"/><circle cx="532.4" cy="151.1" r="1.28" fill="#00007f"/><circle cx="536.3" cy="150.8" r="1.28" fill="#00007f"/><circle cx="541.0" cy="151.1" r="1.28" fill="#00007f"/><circle cx="565.1" cy="150.4" r="1.28" fill="#00007f"/><circle cx="557.0" cy="150.3" r="1.28" fill="#00007f"/><circle cx="537.4" cy="150.9" r="1.28" fill="#00007f"/><circle cx="487.6" cy="151.4" r="1.28" fill="#00007f"/><circle cx="501.4" cy="150.8" r="1.28" fill="#00007f"/><circle cx="540.8" cy="151.3" r="1.28" fill="#00007f"/><circle cx="508.0" cy="150.7" r="1.28" fill="#00007f"/><circle cx="479.1" cy="150.8" r="1.28" fill="#00007f"/><circle cx="529.5" cy="150.6" r="1.28" fill="#00007f"/><circle cx="467.7" cy="150.9" r="1.28" fill="#00007f"/><circle cx="466.5" cy="150.7" r="1.28" fill="#00007f"/><circle cx="541.4" cy="151.2" r="1.28" fill="#00007f"/><circle cx="487.9" cy="150.8" r="1.28" fill="#00007f"/><circle cx="429.3" cy="150.6" r="1.28" fill="#00007f"/><circle cx="351.0" cy="150.0" r="1.28" fill="#00007f"/><circle cx="351.0" cy="143.5" r="1.28" fill="#00007f"/><circle cx="62.4" cy="149.4" r="1.28" fill="#00007f"/><circle cx="81.6" cy="148.7" r="1.28" fill="#00007f"/><circle cx="96.5" cy="149.1" r="1.28" fill="#00007f"/><circle cx="93.1" cy="149.8" r="1.28" fill="#00007f"/><circle cx="98.2" cy="148.9" r="1.28" fill="#00007f"/><circle cx="74.8" cy="149.9" r="1.28" fill="#00007f"/><circle cx="56.5" cy="148.7" r="1.28" fill="#00007f"/><circle cx="80.9" cy="149.3" r="1.28" fill="#00007f"/><circle cx="96.5" cy="149.7" r="1.28" fill="#00007f"/><circle cx="79.7" cy="150.0" r="1.28" fill="#00007f"/><circle cx="78.8" cy="149.3" r="1.28" fill="#00007f"/><circle cx="86.2" cy="149.1" r="1.28" fill="#00007f"/><circle cx="71.7" cy="149.4" r="1.28" fill="#00007f"/><circle cx="130.5" cy="149.9" r="1.28" fill="#00007f"/><circle cx="158.9" cy="149.0" r="1.28" fill="#00007f"/><circle cx="108.6" cy="148.7" r="1.28" fill="#00007f"/><circle cx="134.9" cy="149.1" r="1.28" fill="#00007f"/><circle cx="149.9" cy="149.7" r="1.28" fill="#00007f"/><circle cx="183.9" cy="148.9" r="1.28" fill="#00007f"/><circle cx="138.3" cy="149.2" r="1.28" fill="#00007f"/><circle cx="186.7" cy="148.6" r="1.28" fill="#00007f"/><circle cx="146.1" cy="149.6" r="1.28" fill="#00007f"/><circle cx="114.9" cy="148.6" r="1.28" fill="#00007f"/><circle cx="185.1" cy="149.6" r="1.28" fill="#00007f"/><circle cx="144.6" cy="148.1" r="1.28" fill="#00007f"/><circle cx="177.8" cy="149.3" r="1.28" fill="#00007f"/><circle cx="171.4" cy="150.0" r="1.28" fill="#00007f"/><circle cx="177.3" cy="148.8" r="1.28" fill="#00007f"/><circle cx="113.6" cy="148.5" r="1.28" fill="#00007f"/><circle cx="144.5" cy="149.0" r="1.28" fill="#00007f"/><circle cx="116.4" cy="148.3" r="1.28" fill="#00007f"/><circle cx="154.8" cy="149.2" r="1.28" fill="#00007f"/><circle cx="130.7" cy="150.0" r="1.28" fill="#00007f"/><circle cx="155.4" cy="148.0" r="1.28" fill="#00007f"/><circle cx="135.8" cy="149.6" r="1.28" fill="#00007f"/><circle cx="126.7" cy="149.4" r="1.28" fill="#00007f"/><circle cx="100.3" cy="148.5" r="1.28" fill="#00007f"/><circle cx="173.3" cy="149.1" r="1.28" fill="#00007f"/><circle cx="158.1" cy="148.3" r="1.28" fill="#00007f"/><circle cx="143.3" cy="149.1" r="1.28" fill="#00007f"/><circle cx="123.1" cy="149.3" r="1.28" fill="#00007f"/><circle cx="146.2" cy="150.0" r="1.28" fill="#00007f"/><circle cx="150.0" cy="148.8" r="1.28" fill="#00007f"/><circle cx="110.6" cy="148.2" r="1.28" fill="#00007f"/><circle cx="166.1" cy="148.1" r="1.28" fill="#00007f"/><circle cx="108.7" cy="148.3" r="1.28" fill="#00007f"/><circle cx="145.5" cy="149.6" r="1.28" fill="#00007f"/><circle cx="153.3" cy="149.6" r="1.28" fill="#00007f"/><circle cx="105.4" cy="147.9" r="1.28" fill="#00007f"/><circle cx="167.0" cy="148.6" r="1.28" fill="#00007f"/><circle cx="162.2" cy="148.6" r="1.28" fill="#00007f"/><circle cx="114.7" cy="148.5" r="1.28" fill="#00007f"/><circle cx="108.7" cy="149.8" r="1.28" fill="#00007f"/><circle cx="150.7" cy="148.6" r="1.28" fill="#00007f"/><circle cx="139.1" cy="148.7" r="1.28" fill="#00007f"/><circle cx="104.8" cy="149.8" r="1.28" fill="#00007f"/><circle cx="150.7" cy="149.9" r="1.28" fill="#00007f"/><circle cx="138.2" cy="149.2" r="1.28" fill="#00007f"/><circle cx="121.7" cy="148.0" r="1.28" fill="#00007f"/><circle cx="181.0" cy="149.7" r="1.28" fill="#00007f"/><circle cx="127.4" cy="149.8" r="1.28" fill="#00007f"/><circle cx="171.0" cy="148.5" r="1.28" fill="#00007f"/><circle cx="152.4" cy="149.9" r="1.28" fill="#00007f"/><circle cx="143.1" cy="149.9" r="1.28" fill="#00007f"/><circle cx="121.1" cy="148.7" r="1.28" fill="#00007f"/><circle cx="162.5" cy="148.4" r="1.28" fill="#00007f"/><circle cx="126.9" cy="149.7" r="1.28" fill="#00007f"/><circle cx="142.1" cy="149.6" r="1.28" fill="#00007f"/><circle cx="121.2" cy="148.3" r="1.28" fill="#00007f"/><circle cx="131.2" cy="148.3" r="1.28" fill="#00007f"/><circle cx="184.5" cy="148.5" r="1.28" fill="#00007f"/><circle cx="148.9" cy="148.1" r="1.28" fill="#00007f"/><circle cx="146.4" cy="148.7" r="1.28" fill="#00007f"/><circle cx="135.1" cy="148.0" r="1.28" fill="#00007f"/><circle cx="110.7" cy="149.6" r="1.28" fill="#00007f"/><circle cx="130.6" cy="148.4" r="1.28" fill="#00007f"/><circle cx="116.6" cy="148.5" r="1.28" fill="#00007f"/><circle cx="120.6" cy="148.0" r="1.28" fill="#00007f"/><circle cx="157.8" cy="148.6" r="1.28" fill="#00007f"/><circle cx="113.6" cy="149.4" r="1.28" fill="#00007f"/><circle cx="108.1" cy="148.5" r="1.28" fill="#00007f"/><circle cx="172.6" cy="148.2" r="1.28" fill="#00007f"/><circle cx="138.6" cy="149.7" r="1.28" fill="#00007f"/><circle cx="170.0" cy="148.2" r="1.28" fill="#00007f"/><circle cx="130.7" cy="149.4" r="1.28" fill="#00007f"/><circle cx="132.8" cy="149.9" r="1.28" fill="#00007f"/><circle cx="118.1" cy="149.9" r="1.28" fill="#00007f"/><circle cx="143.9" cy="148.4" r="1.28" fill="#00007f"/><circle cx="139.4" cy="148.2" r="1.28" fill="#00007f"/><circle cx="161.5" cy="148.4" r="1.28" fill="#00007f"/><circle cx="178.3" cy="149.1" r="1.28" fill="#00007f"/><circle cx="132.0" cy="148.4" r="1.28" fill="#00007f"/><circle cx="152.9" cy="148.3" r="1.28" fill="#00007f"/><circle cx="175.9" cy="148.2" r="1.28" fill="#00007f"/><circle cx="144.6" cy="149.0" r="1.28" fill="#00007f"/><circle cx="123.5" cy="149.5" r="1.28" fill="#00007f"/><circle cx="133.5" cy="149.3" r="1.28" fill="#00007f"/><circle cx="149.4" cy="148.6" r="1.28" fill="#00007f"/><circle cx="133.9" cy="148.1" r="1.28" fill="#00007f"/><circle cx="115.4" cy="149.7" r="1.28" fill="#00007f"/><circle cx="127.9" cy="149.3" r="1.28" fill="#00007f"/><circle cx="109.5" cy="149.1" r="1.28" fill="#00007f"/><circle cx="131.4" cy="149.0" r="1.28" fill="#00007f"/><circle cx="125.8" cy="148.0" r="1.28" fill="#00007f"/><circle cx="127.1" cy="148.4" r="1.28" fill="#00007f"/><circle cx="111.0" cy="149.4" r="1.28" fill="#00007f"/><circle cx="124.6" cy="148.7" r="1.28" fill="#00007f"/><circle cx="179.1" cy="149.5" r="1.28" fill="#00007f"/><circle cx="176.8" cy="149.7" r="1.28" fill="#00007f"/><circle cx="111.5" cy="148.5" r="1.28" fill="#00007f"/><circle cx="102.6" cy="149.3" r="1.28" fill="#00007f"/><circle cx="157.7" cy="148.6" r="1.28" fill="#00007f"/><circle cx="135.9" cy="149.3" r="1.28" fill="#00007f"/><circle cx="160.8" cy="148.4" r="1.28" fill="#00007f"/><circle cx="173.7" cy="148.6" r="1.28" fill="#00007f"/><circle cx="154.7" cy="148.3" r="1.28" fill="#00007f"/><circle cx="110.0" cy="149.8" r="1.28" fill="#00007f"/><circle cx="163.9" cy="149.4" r="1.28" fill="#00007f"/><circle cx="103.5" cy="148.0" r="1.28" fill="#00007f"/><circle cx="114.1" cy="148.3" r="1.28" fill="#00007f"/><circle cx="126.4" cy="148.7" r="1.28" fill="#00007f"/><circle cx="103.4" cy="148.6" r="1.28" fill="#00007f"/><circle cx="155.5" cy="148.3" r="1.28" fill="#00007f"/><circle cx="173.0" cy="149.1" r="1.28" fill="#00007f"/><circle cx="162.3" cy="148.4" r="1.28" fill="#00007f"/><circle cx="137.8" cy="149.3" r="1.28" fill="#00007f"/><circle cx="130.4" cy="145.8" r="1.28" fill="#00007f"/><circle cx="172.6" cy="147.4" r="1.28" fill="#00007f"/><circle cx="124.9" cy="145.9" r="1.28" fill="#00007f"/><circle cx="174.3" cy="147.1" r="1.28" fill="#00007f"/><circle cx="104.1" cy="146.3" r="1.28" fill="#00007f"/><circle cx="109.7" cy="147.5" r="1.28" fill="#00007f"/><circle cx="118.3" cy="147.7" r="1.28" fill="#00007f"/><circle cx="165.2" cy="146.0" r="1.28" fill="#00007f"/><circle cx="160.4" cy="146.6" r="1.28" fill="#00007f"/><circle cx="165.0" cy="147.5" r="1.28" fill="#00007f"/><circle cx="124.5" cy="146.0" r="1.28" fill="#00007f"/><circle cx="182.3" cy="146.7" r="1.28" fill="#00007f"/><circle cx="180.9" cy="147.3" r="1.28" fill="#00007f"/><circle cx="164.3" cy="147.5" r="1.28" fill="#00007f"/><circle cx="154.6" cy="146.8" r="1.28" fill="#00007f"/><circle cx="104.7" cy="147.3" r="1.28" fill="#00007f"/><circle cx="137.3" cy="146.9" r="1.28" fill="#00007f"/><circle cx="180.7" cy="146.1" r="1.28" fill="#00007f"/><circle cx="166.3" cy="145.9" r="1.28" fill="#00007f"/><circle cx="161.1" cy="147.5" r="1.28" fill="#00007f"/><circle cx="122.7" cy="146.9" r="1.28" fill="#00007f"/><circle cx="184.3" cy="147.1" r="1.28" fill="#00007f"/><circle cx="147.3" cy="146.3" r="1.28" fill="#00007f"/><circle cx="105.2" cy="146.6" r="1.28" fill="#00007f"/><circle cx="135.8" cy="146.2" r="1.28" fill="#00007f"/><circle cx="127.0" cy="146.1" r="1.28" fill="#00007f"/><circle cx="161.5" cy="147.2" r="1.28" fill="#00007f"/><circle cx="120.7" cy="146.3" r="1.28" fill="#00007f"/><circle cx="144.8" cy="146.7" r="1.28" fill="#00007f"/><circle cx="181.4" cy="146.5" r="1.28" fill="#00007f"/><circle cx="202.5" cy="145.6" r="1.28" fill="#00007f"/><circle cx="193.3" cy="145.2" r="1.28" fill="#00007f"/><circle cx="204.5" cy="145.5" r="1.28" fill="#00007f"/><circle cx="217.1" cy="145.4" r="1.28" fill="#00007f"/><circle cx="194.9" cy="145.3" r="1.28" fill="#00007f"/><circle cx="220.0" cy="145.1" r="1.28" fill="#00007f"/><circle cx="229.8" cy="145.5" r="1.28" fill="#00007f"/><circle cx="191.7" cy="144.8" r="1.28" fill="#00007f"/><circle cx="206.1" cy="144.7" r="1.28" fill="#00007f"/><circle cx="188.5" cy="144.8" r="1.28" fill="#00007f"/><circle cx="196.5" cy="145.3" r="1.28" fill="#00007f"/><circle cx="211.2" cy="144.6" r="1.28" fill="#00007f"/><circle cx="204.0" cy="145.1" r="1.28" fill="#00007f"/><circle cx="206.2" cy="144.7" r="1.28" fill="#00007f"/><circle cx="189.2" cy="144.5" r="1.28" fill="#00007f"/><circle cx="243.0" cy="145.4" r="1.28" fill="#00007f"/><circle cx="189.9" cy="145.4" r="1.28" fill="#00007f"/><circle cx="242.3" cy="145.2" r="1.28" fill="#00007f"/><circle cx="191.4" cy="145.1" r="1.28" fill="#00007f"/><circle cx="210.4" cy="144.7" r="1.28" fill="#00007f"/><circle cx="216.8" cy="144.5" r="1.28" fill="#00007f"/><circle cx="238.8" cy="145.3" r="1.28" fill="#00007f"/><circle cx="221.7" cy="145.6" r="1.28" fill="#00007f"/><circle cx="223.2" cy="144.8" r="1.28" fill="#00007f"/><circle cx="199.4" cy="144.7" r="1.28" fill="#00007f"/><circle cx="186.6" cy="145.4" r="1.28" fill="#00007f"/><circle cx="234.1" cy="144.9" r="1.28" fill="#00007f"/><circle cx="195.9" cy="145.3" r="1.28" fill="#00007f"/><circle cx="234.5" cy="145.6" r="1.28" fill="#00007f"/><circle cx="194.9" cy="145.4" r="1.28" fill="#00007f"/><circle cx="233.6" cy="145.4" r="1.28" fill="#00007f"/><circle cx="204.1" cy="144.7" r="1.28" fill="#00007f"/><circle cx="233.3" cy="144.9" r="1.28" fill="#00007f"/><circle cx="206.6" cy="145.2" r="1.28" fill="#00007f"/><circle cx="206.6" cy="145.5" r="1.28" fill="#00007f"/><circle cx="199.0" cy="144.5" r="1.28" fill="#00007f"/><circle cx="218.2" cy="145.3" r="1.28" fill="#00007f"/><circle cx="233.0" cy="145.3" r="1.28" fill="#00007f"/><circle cx="238.0" cy="145.6" r="1.28" fill="#00007f"/><circle cx="213.9" cy="145.1" r="1.28" fill="#00007f"/><circle cx="194.2" cy="144.9" r="1.28" fill="#00007f"/><circle cx="219.0" cy="144.6" r="1.28" fill="#00007f"/><circle cx="225.2" cy="144.7" r="1.28" fill="#00007f"/><circle cx="210.9" cy="145.7" r="1.28" fill="#00007f"/><circle cx="190.2" cy="144.5" r="1.28" fill="#00007f"/><circle cx="210.7" cy="144.7" r="1.28" fill="#00007f"/><circle cx="227.3" cy="144.5" r="1.28" fill="#00007f"/><circle cx="234.2" cy="145.5" r="1.28" fill="#00007f"/><circle cx="231.0" cy="145.0" r="1.28" fill="#00007f"/><circle cx="201.6" cy="145.3" r="1.28" fill="#00007f"/><circle cx="215.1" cy="145.0" r="1.28" fill="#00007f"/><circle cx="204.8" cy="145.0" r="1.28" fill="#00007f"/><circle cx="224.0" cy="145.5" r="1.28" fill="#00007f"/><circle cx="237.9" cy="144.7" r="1.28" fill="#00007f"/><circle cx="202.3" cy="145.0" r="1.28" fill="#00007f"/><circle cx="218.0" cy="144.9" r="1.28" fill="#00007f"/><circle cx="196.4" cy="144.6" r="1.28" fill="#00007f"/><circle cx="203.9" cy="145.1" r="1.28" fill="#00007f"/><circle cx="241.8" cy="145.6" r="1.28" fill="#00007f"/><circle cx="235.6" cy="145.7" r="1.28" fill="#00007f"/><circle cx="241.3" cy="145.2" r="1.28" fill="#00007f"/><circle cx="232.5" cy="144.6" r="1.28" fill="#00007f"/><circle cx="224.6" cy="145.2" r="1.28" fill="#00007f"/><circle cx="202.4" cy="145.2" r="1.28" fill="#00007f"/><circle cx="240.7" cy="145.1" r="1.28" fill="#00007f"/><circle cx="222.9" cy="144.9" r="1.28" fill="#00007f"/><circle cx="205.1" cy="145.6" r="1.28" fill="#00007f"/><circle cx="186.6" cy="144.7" r="1.28" fill="#00007f"/><circle cx="224.7" cy="145.0" r="1.28" fill="#00007f"/><circle cx="190.0" cy="145.3" r="1.28" fill="#00007f"/><circle cx="206.8" cy="145.2" r="1.28" fill="#00007f"/><circle cx="209.4" cy="145.1" r="1.28" fill="#00007f"/><circle cx="218.0" cy="145.0" r="1.28" fill="#00007f"/><circle cx="191.7" cy="144.7" r="1.28" fill="#00007f"/><circle cx="237.1" cy="145.2" r="1.28" fill="#00007f"/><circle cx="191.6" cy="145.5" r="1.28" fill="#00007f"/><circle cx="199.8" cy="144.6" r="1.28" fill="#00007f"/><circle cx="216.1" cy="144.8" r="1.28" fill="#00007f"/><circle cx="213.6" cy="145.2" r="1.28" fill="#00007f"/><circle cx="198.3" cy="145.2" r="1.28" fill="#00007f"/><circle cx="191.6" cy="145.1" r="1.28" fill="#00007f"/><circle cx="219.4" cy="144.6" r="1.28" fill="#00007f"/><circle cx="208.9" cy="144.6" r="1.28" fill="#00007f"/><circle cx="210.7" cy="145.5" r="1.28" fill="#00007f"/><circle cx="217.2" cy="145.4" r="1.28" fill="#00007f"/><circle cx="229.3" cy="144.6" r="1.28" fill="#00007f"/><circle cx="243.0" cy="145.4" r="1.28" fill="#00007f"/><circle cx="191.0" cy="145.5" r="1.28" fill="#00007f"/><circle cx="207.9" cy="144.7" r="1.28" fill="#00007f"/><circle cx="241.2" cy="145.2" r="1.28" fill="#00007f"/><circle cx="230.3" cy="144.7" r="1.28" fill="#00007f"/><circle cx="230.4" cy="144.6" r="1.28" fill="#00007f"/><circle cx="198.9" cy="144.9" r="1.28" fill="#00007f"/><circle cx="185.9" cy="145.2" r="1.28" fill="#00007f"/><circle cx="197.5" cy="144.9" r="1.28" fill="#00007f"/><circle cx="226.4" cy="145.0" r="1.28" fill="#00007f"/><circle cx="237.0" cy="145.2" r="1.28" fill="#00007f"/><circle cx="236.0" cy="145.2" r="1.28" fill="#00007f"/><circle cx="238.7" cy="145.5" r="1.28" fill="#00007f"/><circle cx="194.8" cy="145.4" r="1.28" fill="#00007f"/><circle cx="205.0" cy="145.4" r="1.28" fill="#00007f"/><circle cx="224.8" cy="145.5" r="1.28" fill="#00007f"/><circle cx="192.2" cy="144.9" r="1.28" fill="#00007f"/><circle cx="228.1" cy="145.6" r="1.28" fill="#00007f"/><circle cx="227.2" cy="144.6" r="1.28" fill="#00007f"/><circle cx="220.3" cy="144.6" r="1.28" fill="#00007f"/><circle cx="217.1" cy="145.5" r="1.28" fill="#00007f"/><circle cx="191.6" cy="145.6" r="1.28" fill="#00007f"/><circle cx="224.5" cy="144.8" r="1.28" fill="#00007f"/><circle cx="196.3" cy="145.0" r="1.28" fill="#00007f"/><circle cx="234.0" cy="145.2" r="1.28" fill="#00007f"/><circle cx="191.6" cy="144.5" r="1.28" fill="#00007f"/><circle cx="191.5" cy="145.5" r="1.28" fill="#00007f"/><circle cx="195.8" cy="145.2" r="1.28" fill="#00007f"/><circle cx="202.0" cy="145.3" r="1.28" fill="#00007f"/><circle cx="207.3" cy="144.7" r="1.28" fill="#00007f"/><circle cx="236.2" cy="145.1" r="1.28" fill="#00007f"/><circle cx="225.6" cy="144.2" r="1.28" fill="#00007f"/><circle cx="240.1" cy="143.6" r="1.28" fill="#00007f"/><circle cx="206.2" cy="143.7" r="1.28" fill="#00007f"/><circle cx="215.1" cy="144.3" r="1.28" fill="#00007f"/><circle cx="231.8" cy="143.6" r="1.28" fill="#00007f"/><circle cx="197.2" cy="144.3" r="1.28" fill="#00007f"/><circle cx="225.1" cy="143.9" r="1.28" fill="#00007f"/><circle cx="213.6" cy="143.7" r="1.28" fill="#00007f"/><circle cx="234.3" cy="143.9" r="1.28" fill="#00007f"/><circle cx="235.9" cy="144.1" r="1.28" fill="#00007f"/><circle cx="191.2" cy="143.9" r="1.28" fill="#00007f"/><circle cx="199.5" cy="148.3" r="1.28" fill="#00007f"/><circle cx="221.2" cy="146.6" r="1.28" fill="#00007f"/><circle cx="196.8" cy="147.2" r="1.28" fill="#00007f"/><circle cx="214.1" cy="147.7" r="1.28" fill="#00007f"/><circle cx="209.5" cy="147.2" r="1.28" fill="#00007f"/><circle cx="245.3" cy="148.8" r="1.28" fill="#00007f"/><circle cx="263.4" cy="147.6" r="1.28" fill="#00007f"/><circle cx="270.3" cy="149.6" r="1.28" fill="#00007f"/><circle cx="247.5" cy="147.9" r="1.28" fill="#00007f"/><circle cx="281.9" cy="148.1" r="1.28" fill="#00007f"/><circle cx="260.0" cy="148.6" r="1.28" fill="#00007f"/><circle cx="259.4" cy="148.7" r="1.28" fill="#00007f"/><circle cx="274.0" cy="149.5" r="1.28" fill="#00007f"/><circle cx="299.6" cy="147.7" r="1.28" fill="#00007f"/><circle cx="275.8" cy="149.1" r="1.28" fill="#00007f"/><circle cx="293.0" cy="149.1" r="1.28" fill="#00007f"/><circle cx="279.8" cy="148.9" r="1.28" fill="#00007f"/><circle cx="265.0" cy="148.2" r="1.28" fill="#00007f"/><circle cx="288.7" cy="149.3" r="1.28" fill="#00007f"/><circle cx="296.6" cy="149.0" r="1.28" fill="#00007f"/><circle cx="261.7" cy="149.1" r="1.28" fill="#00007f"/><circle cx="285.7" cy="148.6" r="1.28" fill="#00007f"/><circle cx="279.9" cy="148.3" r="1.28" fill="#00007f"/><circle cx="275.3" cy="148.4" r="1.28" fill="#00007f"/><circle cx="248.3" cy="148.3" r="1.28" fill="#00007f"/><circle cx="262.8" cy="149.6" r="1.28" fill="#00007f"/><circle cx="271.5" cy="148.3" r="1.28" fill="#00007f"/><circle cx="258.4" cy="148.1" r="1.28" fill="#00007f"/><circle cx="264.2" cy="147.9" r="1.28" fill="#00007f"/><circle cx="245.4" cy="149.3" r="1.28" fill="#00007f"/><circle cx="269.9" cy="148.5" r="1.28" fill="#00007f"/><circle cx="276.3" cy="148.2" r="1.28" fill="#00007f"/><circle cx="254.3" cy="147.7" r="1.28" fill="#00007f"/><circle cx="261.6" cy="148.2" r="1.28" fill="#00007f"/><circle cx="285.0" cy="148.7" r="1.28" fill="#00007f"/><circle cx="296.6" cy="148.3" r="1.28" fill="#00007f"/><circle cx="295.7" cy="148.8" r="1.28" fill="#00007f"/><circle cx="249.4" cy="148.0" r="1.28" fill="#00007f"/><circle cx="276.9" cy="149.6" r="1.28" fill="#00007f"/><circle cx="264.6" cy="149.1" r="1.28" fill="#00007f"/><circle cx="268.6" cy="149.3" r="1.28" fill="#00007f"/><circle cx="248.7" cy="148.6" r="1.28" fill="#00007f"/><circle cx="294.5" cy="148.2" r="1.28" fill="#00007f"/><circle cx="259.2" cy="147.6" r="1.28" fill="#00007f"/><circle cx="254.1" cy="148.1" r="1.28" fill="#00007f"/><circle cx="283.7" cy="148.0" r="1.28" fill="#00007f"/><circle cx="267.0" cy="148.0" r="1.28" fill="#00007f"/><circle cx="278.2" cy="149.3" r="1.28" fill="#00007f"/><circle cx="280.6" cy="148.0" r="1.28" fill="#00007f"/><circle cx="285.4" cy="149.5" r="1.28" fill="#00007f"/><circle cx="278.1" cy="147.8" r="1.28" fill="#00007f"/><circle cx="289.5" cy="149.4" r="1.28" fill="#00007f"/><circle cx="263.8" cy="147.9" r="1.28" fill="#00007f"/><circle cx="255.3" cy="148.7" r="1.28" fill="#00007f"/><circle cx="293.1" cy="146.4" r="1.28" fill="#00007f"/><circle cx="295.8" cy="144.9" r="1.28" fill="#00007f"/><circle cx="263.0" cy="146.7" r="1.28" fill="#00007f"/><circle cx="280.7" cy="145.6" r="1.28" fill="#00007f"/><circle cx="282.3" cy="145.3" r="1.28" fill="#00007f"/><circle cx="248.2" cy="145.6" r="1.28" fill="#00007f"/><circle cx="247.5" cy="146.3" r="1.28" fill="#00007f"/><circle cx="263.4" cy="145.9" r="1.28" fill="#00007f"/><circle cx="277.9" cy="145.1" r="1.28" fill="#00007f"/><circle cx="270.5" cy="144.2" r="1.28" fill="#00007f"/><circle cx="295.9" cy="146.1" r="1.28" fill="#00007f"/><circle cx="299.3" cy="144.4" r="1.28" fill="#00007f"/><circle cx="278.8" cy="146.7" r="1.28" fill="#00007f"/><circle cx="263.1" cy="144.5" r="1.28" fill="#00007f"/><circle cx="253.6" cy="144.7" r="1.28" fill="#00007f"/><circle cx="287.2" cy="144.5" r="1.28" fill="#00007f"/><circle cx="289.8" cy="145.6" r="1.28" fill="#00007f"/><circle cx="274.6" cy="146.2" r="1.28" fill="#00007f"/><circle cx="275.5" cy="146.4" r="1.28" fill="#00007f"/><circle cx="278.1" cy="145.3" r="1.28" fill="#00007f"/><circle cx="285.8" cy="145.1" r="1.28" fill="#00007f"/><circle cx="284.1" cy="146.8" r="1.28" fill="#00007f"/><circle cx="338.8" cy="147.9" r="1.28" fill="#00007f"/><circle cx="338.6" cy="149.9" r="1.28" fill="#00007f"/><circle cx="322.7" cy="147.8" r="1.28" fill="#00007f"/><circle cx="326.2" cy="149.8" r="1.28" fill="#00007f"/><circle cx="306.6" cy="147.0" r="1.28" fill="#00007f"/><circle cx="323.8" cy="149.0" r="1.28" fill="#00007f"/><circle cx="338.7" cy="148.1" r="1.28" fill="#00007f"/><circle cx="349.5" cy="147.7" r="1.28" fill="#00007f"/><circle cx="337.8" cy="147.3" r="1.28" fill="#00007f"/><circle cx="301.4" cy="147.4" r="1.28" fill="#00007f"/><circle cx="397.2" cy="142.9" r="1.28" fill="#00007f"/><circle cx="415.5" cy="142.3" r="1.28" fill="#00007f"/><circle cx="429.8" cy="142.7" r="1.28" fill="#00007f"/><circle cx="400.5" cy="142.3" r="1.28" fill="#00007f"/><circle cx="422.3" cy="143.7" r="1.28" fill="#00007f"/><circle cx="401.0" cy="142.1" r="1.28" fill="#00007f"/><circle cx="423.8" cy="142.4" r="1.28" fill="#00007f"/><circle cx="431.3" cy="142.9" r="1.28" fill="#00007f"/><circle cx="418.5" cy="142.6" r="1.28" fill="#00007f"/><circle cx="424.6" cy="142.8" r="1.28" fill="#00007f"/><circle cx="407.0" cy="143.6" r="1.28" fill="#00007f"/><circle cx="399.0" cy="143.3" r="1.28" fill="#00007f"/><circle cx="397.4" cy="143.2" r="1.28" fill="#00007f"/><circle cx="409.9" cy="143.6" r="1.28" fill="#00007f"/><circle cx="397.2" cy="143.0" r="1.28" fill="#00007f"/><circle cx="410.2" cy="143.7" r="1.28" fill="#00007f"/><circle cx="430.0" cy="143.1" r="1.28" fill="#00007f"/><circle cx="403.3" cy="142.5" r="1.28" fill="#00007f"/><circle cx="404.7" cy="142.8" r="1.28" fill="#00007f"/><circle cx="403.6" cy="142.4" r="1.28" fill="#00007f"/><circle cx="423.1" cy="143.2" r="1.28" fill="#00007f"/><circle cx="406.0" cy="143.8" r="1.28" fill="#00007f"/><circle cx="403.0" cy="143.0" r="1.28" fill="#00007f"/><circle cx="400.8" cy="143.6" r="1.28" fill="#00007f"/><circle cx="427.2" cy="142.5" r="1.28" fill="#00007f"/><circle cx="422.8" cy="143.5" r="1.28" fill="#00007f"/><circle cx="405.5" cy="142.6" r="1.28" fill="#00007f"/><circle cx="413.0" cy="143.6" r="1.28" fill="#00007f"/><circle cx="401.0" cy="143.2" r="1.28" fill="#00007f"/><circle cx="417.1" cy="142.8" r="1.28" fill="#00007f"/><circle cx="416.4" cy="143.6" r="1.28" fill="#00007f"/><circle cx="402.8" cy="143.6" r="1.28" fill="#00007f"/><circle cx="408.3" cy="143.4" r="1.28" fill="#00007f"/><circle cx="426.9" cy="142.3" r="1.28" fill="#00007f"/><circle cx="427.0" cy="143.8" r="1.28" fill="#00007f"/><circle cx="406.0" cy="142.0" r="1.28" fill="#00007f"/><circle cx="399.1" cy="143.8" r="1.28" fill="#00007f"/><circle cx="395.3" cy="143.6" r="1.28" fill="#00007f"/><circle cx="400.6" cy="143.3" r="1.28" fill="#00007f"/><circle cx="398.6" cy="142.3" r="1.28" fill="#00007f"/><circle cx="420.3" cy="142.2" r="1.28" fill="#00007f"/><circle cx="407.6" cy="143.7" r="1.28" fill="#00007f"/><circle cx="421.5" cy="143.6" r="1.28" fill="#00007f"/><circle cx="431.2" cy="142.1" r="1.28" fill="#00007f"/><circle cx="403.7" cy="143.4" r="1.28" fill="#00007f"/><circle cx="420.5" cy="142.1" r="1.28" fill="#00007f"/><circle cx="413.7" cy="142.4" r="1.28" fill="#00007f"/><circle cx="410.9" cy="142.2" r="1.28" fill="#00007f"/><circle cx="395.7" cy="143.8" r="1.28" fill="#00007f"/><circle cx="406.7" cy="143.6" r="1.28" fill="#00007f"/><circle cx="399.5" cy="142.9" r="1.28" fill="#00007f"/><circle cx="400.0" cy="142.8" r="1.28" fill="#00007f"/><circle cx="401.6" cy="143.2" r="1.28" fill="#00007f"/><circle cx="400.5" cy="143.3" r="1.28" fill="#00007f"/><circle cx="413.5" cy="142.2" r="1.28" fill="#00007f"/><circle cx="437.0" cy="143.5" r="1.28" fill="#00007f"/><circle cx="444.9" cy="143.2" r="1.28" fill="#00007f"/><circle cx="435.0" cy="144.7" r="1.28" fill="#00007f"/><circle cx="444.4" cy="144.1" r="1.28" fill="#00007f"/><circle cx="435.8" cy="142.7" r="1.28" fill="#00007f"/><circle cx="435.7" cy="142.5" r="1.28" fill="#00007f"/><circle cx="432.6" cy="143.6" r="1.28" fill="#00007f"/><circle cx="437.7" cy="143.7" r="1.28" fill="#00007f"/><circle cx="437.1" cy="142.3" r="1.28" fill="#00007f"/><circle cx="441.6" cy="143.9" r="1.28" fill="#00007f"/><circle cx="439.6" cy="143.7" r="1.28" fill="#00007f"/><circle cx="441.7" cy="144.8" r="1.28" fill="#00007f"/><circle cx="444.2" cy="144.1" r="1.28" fill="#00007f"/><circle cx="437.6" cy="143.1" r="1.28" fill="#00007f"/><circle cx="437.9" cy="144.7" r="1.28" fill="#00007f"/><circle cx="437.4" cy="143.3" r="1.28" fill="#00007f"/><circle cx="437.7" cy="142.7" r="1.28" fill="#00007f"/><circle cx="446.0" cy="142.3" r="1.28" fill="#00007f"/><circle cx="440.5" cy="144.6" r="1.28" fill="#00007f"/><circle cx="456.2" cy="143.6" r="1.28" fill="#00007f"/><circle cx="461.1" cy="141.2" r="1.28" fill="#00007f"/><circle cx="453.9" cy="140.4" r="1.28" fill="#00007f"/><circle cx="479.7" cy="144.8" r="1.28" fill="#00007f"/><circle cx="482.3" cy="139.9" r="1.28" fill="#00007f"/><circle cx="473.8" cy="141.7" r="1.28" fill="#00007f"/><circle cx="471.8" cy="143.2" r="1.28" fill="#00007f"/><circle cx="458.6" cy="146.0" r="1.28" fill="#00007f"/><circle cx="446.0" cy="144.5" r="1.28" fill="#00007f"/><circle cx="480.1" cy="143.0" r="1.28" fill="#00007f"/><circle cx="469.7" cy="146.2" r="1.28" fill="#00007f"/><circle cx="455.4" cy="143.8" r="1.28" fill="#00007f"/><circle cx="475.7" cy="142.1" r="1.28" fill="#00007f"/><circle cx="474.5" cy="142.2" r="1.28" fill="#00007f"/><circle cx="467.1" cy="143.6" r="1.28" fill="#00007f"/><circle cx="473.1" cy="141.7" r="1.28" fill="#00007f"/><circle cx="471.2" cy="143.2" r="1.28" fill="#00007f"/><circle cx="454.9" cy="143.6" r="1.28" fill="#00007f"/><circle cx="456.6" cy="145.6" r="1.28" fill="#00007f"/><circle cx="464.9" cy="144.4" r="1.28" fill="#00007f"/><circle cx="466.9" cy="142.7" r="1.28" fill="#00007f"/><circle cx="454.8" cy="140.5" r="1.28" fill="#00007f"/><circle cx="483.1" cy="143.1" r="1.28" fill="#00007f"/><circle cx="467.0" cy="143.1" r="1.28" fill="#00007f"/><circle cx="478.5" cy="141.2" r="1.28" fill="#00007f"/><circle cx="452.9" cy="145.0" r="1.28" fill="#00007f"/><circle cx="464.4" cy="143.8" r="1.28" fill="#00007f"/><circle cx="479.1" cy="145.5" r="1.28" fill="#00007f"/><circle cx="480.7" cy="139.9" r="1.28" fill="#00007f"/><circle cx="461.3" cy="145.1" r="1.28" fill="#00007f"/><circle cx="478.7" cy="140.4" r="1.28" fill="#00007f"/><circle cx="452.2" cy="141.3" r="1.28" fill="#00007f"/><circle cx="450.1" cy="142.0" r="1.28" fill="#00007f"/><circle cx="478.1" cy="143.0" r="1.28" fill="#00007f"/><circle cx="464.1" cy="140.2" r="1.28" fill="#00007f"/><circle cx="461.8" cy="146.2" r="1.28" fill="#00007f"/><circle cx="473.8" cy="142.6" r="1.28" fill="#00007f"/><circle cx="465.1" cy="144.9" r="1.28" fill="#00007f"/><circle cx="476.4" cy="140.6" r="1.28" fill="#00007f"/><circle cx="473.2" cy="142.0" r="1.28" fill="#00007f"/><circle cx="515.4" cy="143.0" r="1.28" fill="#00007f"/><circle cx="512.4" cy="143.1" r="1.28" fill="#00007f"/><circle cx="512.6" cy="142.8" r="1.28" fill="#00007f"/><circle cx="509.0" cy="143.3" r="1.28" fill="#00007f"/><circle cx="506.2" cy="143.0" r="1.28" fill="#00007f"/><circle cx="519.4" cy="143.0" r="1.28" fill="#00007f"/><circle cx="511.5" cy="143.0" r="1.28" fill="#00007f"/><circle cx="521.7" cy="142.9" r="1.28" fill="#00007f"/><circle cx="517.7" cy="143.6" r="1.28" fill="#00007f"/><circle cx="509.0" cy="143.2" r="1.28" fill="#00007f"/><circle cx="520.8" cy="143.4" r="1.28" fill="#00007f"/><circle cx="512.4" cy="142.8" r="1.28" fill="#00007f"/><circle cx="513.9" cy="143.1" r="1.28" fill="#00007f"/><circle cx="519.3" cy="143.1" r="1.28" fill="#00007f"/><circle cx="513.2" cy="143.4" r="1.28" fill="#00007f"/><circle cx="521.2" cy="143.1" r="1.28" fill="#00007f"/><circle cx="531.2" cy="143.3" r="1.28" fill="#00007f"/><circle cx="539.8" cy="140.7" r="1.28" fill="#00007f"/><circle cx="540.5" cy="144.1" r="1.28" fill="#00007f"/><circle cx="531.0" cy="143.8" r="1.28" fill="#00007f"/><circle cx="530.3" cy="140.0" r="1.28" fill="#00007f"/><circle cx="537.1" cy="142.0" r="1.28" fill="#00007f"/><circle cx="533.4" cy="142.7" r="1.28" fill="#00007f"/><circle cx="539.4" cy="144.4" r="1.28" fill="#00007f"/><circle cx="525.4" cy="143.4" r="1.28" fill="#00007f"/><circle cx="532.4" cy="142.5" r="1.28" fill="#00007f"/><circle cx="538.4" cy="142.2" r="1.28" fill="#00007f"/><circle cx="532.6" cy="145.3" r="1.28" fill="#00007f"/><circle cx="532.0" cy="142.7" r="1.28" fill="#00007f"/><circle cx="533.2" cy="144.9" r="1.28" fill="#00007f"/><circle cx="535.7" cy="144.3" r="1.28" fill="#00007f"/><circle cx="531.4" cy="139.8" r="1.28" fill="#00007f"/><circle cx="535.9" cy="143.1" r="1.28" fill="#00007f"/><circle cx="537.3" cy="144.5" r="1.28" fill="#00007f"/><circle cx="526.9" cy="140.9" r="1.28" fill="#00007f"/><circle cx="526.2" cy="144.8" r="1.28" fill="#00007f"/><circle cx="526.6" cy="140.1" r="1.28" fill="#00007f"/><circle cx="537.1" cy="143.2" r="1.28" fill="#00007f"/><circle cx="525.9" cy="143.9" r="1.28" fill="#00007f"/><circle cx="536.4" cy="142.6" r="1.28" fill="#00007f"/><circle cx="525.9" cy="144.0" r="1.28" fill="#00007f"/><circle cx="531.7" cy="143.3" r="1.28" fill="#00007f"/><circle cx="541.0" cy="144.8" r="1.28" fill="#00007f"/><circle cx="539.0" cy="140.4" r="1.28" fill="#00007f"/><circle cx="530.3" cy="142.9" r="1.28" fill="#00007f"/><circle cx="525.1" cy="145.9" r="1.28" fill="#00007f"/><circle cx="529.4" cy="141.2" r="1.28" fill="#00007f"/><circle cx="530.0" cy="141.2" r="1.28" fill="#00007f"/><circle cx="547.0" cy="143.5" r="1.28" fill="#00007f"/><circle cx="544.6" cy="142.6" r="1.28" fill="#00007f"/><circle cx="541.4" cy="141.9" r="1.28" fill="#00007f"/><circle cx="547.1" cy="145.1" r="1.28" fill="#00007f"/><circle cx="547.0" cy="141.6" r="1.28" fill="#00007f"/><circle cx="542.4" cy="140.3" r="1.28" fill="#00007f"/><circle cx="544.8" cy="142.4" r="1.28" fill="#00007f"/><circle cx="546.0" cy="140.9" r="1.28" fill="#00007f"/><circle cx="550.3" cy="144.3" r="1.28" fill="#00007f"/><circle cx="553.1" cy="141.0" r="1.28" fill="#00007f"/><circle cx="555.0" cy="140.2" r="1.28" fill="#00007f"/><circle cx="556.5" cy="141.0" r="1.28" fill="#00007f"/><circle cx="558.0" cy="140.6" r="1.28" fill="#00007f"/><circle cx="560.0" cy="141.2" r="1.28" fill="#00007f"/><circle cx="561.5" cy="141.0" r="1.28" fill="#00007f"/><circle cx="558.0" cy="144.7" r="1.28" fill="#00007f"/><circle cx="556.2" cy="143.0" r="1.28" fill="#00007f"/><circle cx="563.7" cy="143.8" r="1.28" fill="#00007f"/><circle cx="565.5" cy="143.5" r="1.28" fill="#00007f"/><circle cx="563.8" cy="148.0" r="1.28" fill="#00007f"/><circle cx="568.2" cy="141.6" r="1.28" fill="#00007f"/><circle cx="570.7" cy="140.3" r="1.28" fill="#00007f"/><circle cx="572.8" cy="139.0" r="1.28" fill="#00007f"/><circle cx="574.6" cy="140.0" r="1.28" fill="#00007f"/><circle cx="576.8" cy="140.8" r="1.28" fill="#00007f"/><circle cx="579.4" cy="141.0" r="1.28" fill="#00007f"/><circle cx="580.3" cy="144.3" r="1.28" fill="#00007f"/><circle cx="580.3" cy="146.0" r="1.28" fill="#00007f"/><circle cx="572.0" cy="145.6" r="1.28" fill="#00007f"/><circle cx="570.2" cy="148.0" r="1.28" fill="#00007f"/><circle cx="567.8" cy="147.3" r="1.28" fill="#00007f"/><circle cx="571.5" cy="139.6" r="1.28" fill="#00007f"/><circle cx="573.8" cy="139.4" r="1.28" fill="#00007f"/><circle cx="578.0" cy="140.9" r="1.28" fill="#00007f"/><circle cx="580.5" cy="142.7" r="1.28" fill="#00007f"/><circle cx="569.5" cy="140.9" r="1.28" fill="#00007f"/><circle cx="567.0" cy="145.5" r="1.28" fill="#00007f"/><circle cx="471.6" cy="148.4" r="1.28" fill="#00007f"/><circle cx="491.3" cy="148.0" r="1.28" fill="#00007f"/><circle cx="527.2" cy="147.6" r="1.28" fill="#00007f"/><circle cx="546.7" cy="148.6" r="1.28" fill="#00007f"/><circle cx="403.4" cy="147.9" r="1.28" fill="#00007f"/><circle cx="483.0" cy="148.1" r="1.28" fill="#00007f"/><circle cx="488.2" cy="147.9" r="1.28" fill="#00007f"/><circle cx="440.1" cy="149.2" r="1.28" fill="#00007f"/><circle cx="443.1" cy="149.0" r="1.28" fill="#00007f"/><circle cx="527.4" cy="148.7" r="1.28" fill="#00007f"/><circle cx="470.0" cy="149.6" r="1.28" fill="#00007f"/></g>
<circle cx="288.7" cy="147.6" r="1.28" fill="#87cefa"/>
<circle cx="285.7" cy="150.8" r="1.28" fill="#87cefa"/>
<circle cx="349.0" cy="150.8" r="1.28" fill="#87cefa"/>
<path d="M287.5 133.3L290.2 136L287.5 138.7L284.8 136Z" fill="#7d26cd"/>
<text transform="rotate(0.05 280.2 134.1)" x="280.2" y="134.1" font-size="8" text-anchor="middle">rs2271616</text>
<g><circle cx="63.6" cy="304.6" r="1.28" fill="#00007f"/><circle cx="92.2" cy="291.2" r="1.28" fill="#00007f"/><circle cx="126.4" cy="290.3" r="1.28" fill="#00007f"/><circle cx="87.3" cy="309.5" r="1.28" fill="#00007f"/><circle cx="125.5" cy="310.4" r="1.28" fill="#00007f"/><circle cx="142.5" cy="309.2" r="1.28" fill="#00007f"/><circle cx="146.5" cy="309.0" r="1.28" fill="#00007f"/><circle cx="177.4" cy="300.8" r="1.28" fill="#00007f"/><circle cx="270.0" cy="290.6" r="1.28" fill="#00007f"/><circle cx="273.3" cy="301.3" r="1.28" fill="#00007f"/><circle cx="273.0" cy="304.0" r="1.28" fill="#00007f"/><circle cx="278.7" cy="301.2" r="1.28" fill="#00007f"/><circle cx="303.6" cy="294.7" r="1.28" fill="#00007f"/><circle cx="301.8" cy="298.5" r="1.28" fill="#00007f"/><circle cx="310.6" cy="294.1" r="1.28" fill="#00007f"/><circle cx="311.0" cy="296.4" r="1.28" fill="#00007f"/><circle cx="318.8" cy="297.1" r="1.28" fill="#00007f"/><circle cx="325.0" cy="295.5" r="1.28" fill="#00007f"/><circle cx="332.2" cy="297.0" r="1.28" fill="#00007f"/><circle cx="343.9" cy="296.4" r="1.28" fill="#00007f"/><circle cx="346.5" cy="296.7" r="1.28" fill="#00007f"/><circle cx="348.7" cy="297.0" r="1.28" fill="#00007f"/><circle cx="244.9" cy="305.5" r="1.28" fill="#00007f"/><circle cx="287.8" cy="306.0" r="1.28" fill="#00007f"/><circle cx="265.0" cy="307.9" r="1.28" fill="#00007f"/><circle cx="269.4" cy="307.9" r="1.28" fill="#00007f"/><circle cx="272.0" cy="307.9" r="1.28" fill="#00007f"/><circle cx="293.0" cy="307.9" r="1.28" fill="#00007f"/><circle cx="312.3" cy="307.9" r="1.28" fill="#00007f"/><circle cx="317.6" cy="307.9" r="1.28" fill="#00007f"/><circle cx="322.0" cy="307.9" r="1.28" fill="#00007f"/><circle cx="335.0" cy="307.9" r="1.28" fill="#00007f"/><circle cx="343.9" cy="307.9" r="1.28" fill="#00007f"/><circle cx="486.3" cy="280.5" r="1.28" fill="#00007f"/><circle cx="488.3" cy="280.5" r="1.28" fill="#00007f"/><circle cx="490.0" cy="280.5" r="1.28" fill="#00007f"/><circle cx="492.0" cy="280.5" r="1.28" fill="#00007f"/><circle cx="494.8" cy="280.5" r="1.28" fill="#00007f"/><circle cx="503.3" cy="280.5" r="1.28" fill="#00007f"/><circle cx="505.9" cy="280.5" r="1.28" fill="#00007f"/><circle cx="509.0" cy="280.5" r="1.28" fill="#00007f"/><circle cx="511.6" cy="280.5" r="1.28" fill="#00007f"/><circle cx="520.3" cy="280.5" r="1.28" fill="#00007f"/><circle cx="525.0" cy="280.5" r="1.28" fill="#00007f"/><circle cx="527.5" cy="280.5" r="1.28" fill="#00007f"/><circle cx="546.2" cy="281.0" r="1.28" fill="#00007f"/><circle cx="551.5" cy="280.0" r="1.28" fill="#00007f"/><circle cx="555.3" cy="281.4" r="1.28" fill="#00007f"/><circle cx="526.0" cy="285.0" r="1.28" fill="#00007f"/><circle cx="527.5" cy="285.2" r="1.28" fill="#00007f"/><circle cx="540.5" cy="285.6" r="1.28" fill="#00007f"/><circle cx="544.0" cy="285.4" r="1.28" fill="#00007f"/><circle cx="547.3" cy="285.2" r="1.28" fill="#00007f"/><circle cx="552.0" cy="285.0" r="1.28" fill="#00007f"/><circle cx="562.2" cy="286.7" r="1.28" fill="#00007f"/><circle cx="563.5" cy="286.7" r="1.28" fill="#00007f"/><circle cx="578.2" cy="286.3" r="1.28" fill="#00007f"/><circle cx="580.3" cy="286.3" r="1.28" fill="#00007f"/><circle cx="358.0" cy="278.8" r="1.28" fill="#00007f"/><circle cx="365.0" cy="278.2" r="1.28" fill="#00007f"/><circle cx="367.2" cy="278.2" r="1.28" fill="#00007f"/><circle cx="370.4" cy="278.2" r="1.28" fill="#00007f"/><circle cx="383.5" cy="278.2" r="1.28" fill="#00007f"/><circle cx="387.8" cy="278.2" r="1.28" fill="#00007f"/><circle cx="392.2" cy="278.6" r="1.28" fill="#00007f"/><circle cx="374.2" cy="284.5" r="1.28" fill="#00007f"/><circle cx="376.7" cy="284.5" r="1.28" fill="#00007f"/><circle cx="392.4" cy="284.3" r="1.28" fill="#00007f"/><circle cx="347.4" cy="289.4" r="1.28" fill="#00007f"/><circle cx="332.0" cy="297.5" r="1.28" fill="#00007f"/><circle cx="344.4" cy="296.6" r="1.28" fill="#00007f"/><circle cx="353.8" cy="296.2" r="1.28" fill="#00007f"/><circle cx="335.3" cy="307.9" r="1.28" fill="#00007f"/><circle cx="341.0" cy="310.7" r="1.28" fill="#00007f"/><circle cx="343.2" cy="307.9" r="1.28" fill="#00007f"/><circle cx="346.0" cy="308.3" r="1.28" fill="#00007f"/><circle cx="348.7" cy="308.3" r="1.28" fill="#00007f"/><circle cx="351.2" cy="307.7" r="1.28" fill="#00007f"/><circle cx="373.5" cy="307.5" r="1.28" fill="#00007f"/><circle cx="375.2" cy="310.0" r="1.28" fill="#00007f"/><circle cx="378.9" cy="306.0" r="1.28" fill="#00007f"/><circle cx="386.3" cy="309.2" r="1.28" fill="#00007f"/><circle cx="391.0" cy="305.0" r="1.28" fill="#00007f"/><circle cx="490.0" cy="303.5" r="1.28" fill="#00007f"/><circle cx="494.0" cy="308.0" r="1.28" fill="#00007f"/><circle cx="494.0" cy="310.5" r="1.28" fill="#00007f"/><circle cx="500.0" cy="303.5" r="1.28" fill="#00007f"/><circle cx="504.0" cy="303.5" r="1.28" fill="#00007f"/><circle cx="67.5" cy="314.6" r="1.28" fill="#00007f"/><circle cx="53.1" cy="314.6" r="1.28" fill="#00007f"/><circle cx="75.3" cy="314.8" r="1.28" fill="#00007f"/><circle cx="62.4" cy="314.8" r="1.28" fill="#00007f"/><circle cx="53.2" cy="314.5" r="1.28" fill="#00007f"/><circle cx="57.2" cy="314.6" r="1.28" fill="#00007f"/><circle cx="55.0" cy="314.2" r="1.28" fill="#00007f"/><circle cx="67.3" cy="314.5" r="1.28" fill="#00007f"/><circle cx="80.5" cy="314.8" r="1.28" fill="#00007f"/><circle cx="88.3" cy="314.9" r="1.28" fill="#00007f"/><circle cx="86.7" cy="315.2" r="1.28" fill="#00007f"/><circle cx="71.3" cy="314.6" r="1.28" fill="#00007f"/><circle cx="99.3" cy="314.4" r="1.28" fill="#00007f"/><circle cx="87.0" cy="314.9" r="1.28" fill="#00007f"/><circle cx="55.1" cy="315.1" r="1.28" fill="#00007f"/><circle cx="94.9" cy="314.9" r="1.28" fill="#00007f"/><circle cx="87.5" cy="315.1" r="1.28" fill="#00007f"/><circle cx="59.5" cy="314.8" r="1.28" fill="#00007f"/><circle cx="76.7" cy="315.1" r="1.28" fill="#00007f"/><circle cx="90.8" cy="315.1" r="1.28" fill="#00007f"/><circle cx="80.5" cy="315.2" r="1.28" fill="#00007f"/><circle cx="85.1" cy="315.0" r="1.28" fill="#00007f"/><circle cx="63.8" cy="314.2" r="1.28" fill="#00007f"/><circle cx="59.3" cy="314.6" r="1.28" fill="#00007f"/><circle cx="57.9" cy="315.1" r="1.28" fill="#00007f"/><circle cx="79.3" cy="314.9" r="1.28" fill="#00007f"/><circle cx="82.4" cy="314.9" r="1.28" fill="#00007f"/><circle cx="76.0" cy="314.2" r="1.28" fill="#00007f"/><circle cx="90.5" cy="315.0" r="1.28" fill="#00007f"/><circle cx="76.6" cy="314.8" r="1.28" fill="#00007f"/><circle cx="84.0" cy="314.3" r="1.28" fill="#00007f"/><circle cx="87.6" cy="314.5" r="1.28" fill="#00007f"/><circle cx="56.5" cy="314.5" r="1.28" fill="#00007f"/><circle cx="87.3" cy="314.4" r="1.28" fill="#00007f"/><circle cx="87.8" cy="315.3" r="1.28" fill="#00007f"/><circle cx="76.2" cy="314.6" r="1.28" fill="#00007f"/><circle cx="75.5" cy="315.0" r="1.28" fill="#00007f"/><circle cx="89.0" cy="314.9" r="1.28" fill="#00007f"/><circle cx="83.2" cy="314.3" r="1.28" fill="#00007f"/><circle cx="59.9" cy="314.5" r="1.28" fill="#00007f"/><circle cx="87.9" cy="314.5" r="1.28" fill="#00007f"/><circle cx="79.7" cy="314.2" r="1.28" fill="#00007f"/><circle cx="55.9" cy="314.5" r="1.28" fill="#00007f"/><circle cx="84.6" cy="315.0" r="1.28" fill="#00007f"/><circle cx="84.8" cy="314.5" r="1.28" fill="#00007f"/><circle cx="77.3" cy="314.7" r="1.28" fill="#00007f"/><circle cx="74.9" cy="314.3" r="1.28" fill="#00007f"/><circle cx="95.0" cy="314.4" r="1.28" fill="#00007f"/><circle cx="99.0" cy="315.2" r="1.28" fill="#00007f"/><circle cx="53.8" cy="314.7" r="1.28" fill="#00007f"/><circle cx="91.5" cy="315.3" r="1.28" fill="#00007f"/><circle cx="74.1" cy="314.5" r="1.28" fill="#00007f"/><circle cx="62.9" cy="315.2" r="1.28" fill="#00007f"/><circle cx="62.9" cy="314.8" r="1.28" fill="#00007f"/><circle cx="59.7" cy="314.8" r="1.28" fill="#00007f"/><circle cx="97.8" cy="314.3" r="1.28" fill="#00007f"/><circle cx="91.6" cy="314.8" r="1.28" fill="#00007f"/><circle cx="94.7" cy="315.0" r="1.28" fill="#00007f"/><circle cx="63.9" cy="315.2" r="1.28" fill="#00007f"/><circle cx="75.8" cy="314.2" r="1.28" fill="#00007f"/><circle cx="53.2" cy="314.7" r="1.28" fill="#00007f"/><circle cx="74.2" cy="314.5" r="1.28" fill="#00007f"/><circle cx="59.6" cy="314.6" r="1.28" fill="#00007f"/><circle cx="67.9" cy="315.1" r="1.28" fill="#00007f"/><circle cx="53.1" cy="315.0" r="1.28" fill="#00007f"/><circle cx="92.4" cy="314.3" r="1.28" fill="#00007f"/><circle cx="96.5" cy="315.0" r="1.28" fill="#00007f"/><circle cx="95.4" cy="314.5" r="1.28" fill="#00007f"/><circle cx="70.5" cy="314.6" r="1.28" fill="#00007f"/><circle cx="99.9" cy="314.8" r="1.28" fill="#00007f"/><circle cx="131.4" cy="314.6" r="1.28" fill="#00007f"/><circle cx="123.9" cy="314.1" r="1.28" fill="#00007f"/><circle cx="108.8" cy="315.1" r="1.28" fill="#00007f"/><circle cx="124.8" cy="315.2" r="1.28" fill="#00007f"/><circle cx="121.7" cy="314.3" r="1.28" fill="#00007f"/><circle cx="144.5" cy="314.2" r="1.28" fill="#00007f"/><circle cx="132.5" cy="315.2" r="1.28" fill="#00007f"/><circle cx="176.9" cy="315.1" r="1.28" fill="#00007f"/><circle cx="154.9" cy="315.2" r="1.28" fill="#00007f"/><circle cx="181.8" cy="314.7" r="1.28" fill="#00007f"/><circle cx="162.6" cy="314.1" r="1.28" fill="#00007f"/><circle cx="163.7" cy="314.6" r="1.28" fill="#00007f"/><circle cx="165.5" cy="314.8" r="1.28" fill="#00007f"/><circle cx="124.9" cy="314.1" r="1.28" fill="#00007f"/><circle cx="180.6" cy="314.2" r="1.28" fill="#00007f"/><circle cx="141.1" cy="314.4" r="1.28" fill="#00007f"/><circle cx="125.9" cy="315.0" r="1.28" fill="#00007f"/><circle cx="184.9" cy="314.3" r="1.28" fill="#00007f"/><circle cx="157.1" cy="314.4" r="1.28" fill="#00007f"/><circle cx="148.5" cy="314.5" r="1.28" fill="#00007f"/><circle cx="114.6" cy="314.2" r="1.28" fill="#00007f"/><circle cx="118.1" cy="315.2" r="1.28" fill="#00007f"/><circle cx="143.2" cy="314.3" r="1.28" fill="#00007f"/><circle cx="178.8" cy="315.3" r="1.28" fill="#00007f"/><circle cx="139.1" cy="314.2" r="1.28" fill="#00007f"/><circle cx="116.7" cy="314.1" r="1.28" fill="#00007f"/><circle cx="129.8" cy="314.1" r="1.28" fill="#00007f"/><circle cx="120.8" cy="314.3" r="1.28" fill="#00007f"/><circle cx="149.6" cy="315.2" r="1.28" fill="#00007f"/><circle cx="165.2" cy="314.5" r="1.28" fill="#00007f"/><circle cx="136.0" cy="314.7" r="1.28" fill="#00007f"/><circle cx="132.8" cy="314.4" r="1.28" fill="#00007f"/><circle cx="105.4" cy="314.4" r="1.28" fill="#00007f"/><circle cx="184.2" cy="314.2" r="1.28" fill="#00007f"/><circle cx="143.8" cy="314.8" r="1.28" fill="#00007f"/><circle cx="175.1" cy="314.3" r="1.28" fill="#00007f"/><circle cx="123.6" cy="314.3" r="1.28" fill="#00007f"/><circle cx="134.8" cy="314.6" r="1.28" fill="#00007f"/><circle cx="183.0" cy="315.1" r="1.28" fill="#00007f"/><circle cx="175.9" cy="314.0" r="1.28" fill="#00007f"/><circle cx="102.8" cy="314.9" r="1.28" fill="#00007f"/><circle cx="177.9" cy="314.6" r="1.28" fill="#00007f"/><circle cx="151.1" cy="314.0" r="1.28" fill="#00007f"/><circle cx="134.1" cy="315.2" r="1.28" fill="#00007f"/><circle cx="171.8" cy="315.1" r="1.28" fill="#00007f"/><circle cx="184.6" cy="314.3" r="1.28" fill="#00007f"/><circle cx="109.5" cy="314.2" r="1.28" fill="#00007f"/><circle cx="145.4" cy="314.9" r="1.28" fill="#00007f"/><circle cx="181.9" cy="314.9" r="1.28" fill="#00007f"/><circle cx="156.3" cy="315.0" r="1.28" fill="#00007f"/><circle cx="139.8" cy="314.7" r="1.28" fill="#00007f"/><circle cx="103.4" cy="315.0" r="1.28" fill="#00007f"/><circle cx="120.2" cy="315.2" r="1.28" fill="#00007f"/><circle cx="156.2" cy="314.4" r="1.28" fill="#00007f"/><circle cx="111.1" cy="314.3" r="1.28" fill="#00007f"/><circle cx="155.4" cy="314.9" r="1.28" fill="#00007f"/><circle cx="109.8" cy="314.1" r="1.28" fill="#00007f"/><circle cx="145.6" cy="314.8" r="1.28" fill="#00007f"/><circle cx="133.8" cy="314.3" r="1.28" fill="#00007f"/><circle cx="152.3" cy="314.0" r="1.28" fill="#00007f"/><circle cx="126.2" cy="314.6" r="1.28" fill="#00007f"/><circle cx="183.4" cy="314.8" r="1.28" fill="#00007f"/><circle cx="176.9" cy="314.6" r="1.28" fill="#00007f"/><circle cx="120.4" cy="314.3" r="1.28" fill="#00007f"/><circle cx="183.6" cy="314.9" r="1.28" fill="#00007f"/><circle cx="126.7" cy="314.0" r="1.28" fill="#00007f"/><circle cx="143.4" cy="314.9" r="1.28" fill="#00007f"/><circle cx="136.5" cy="314.3" r="1.28" fill="#00007f"/><circle cx="158.1" cy="315.2" r="1.28" fill="#00007f"/><circle cx="119.7" cy="314.0" r="1.28" fill="#00007f"/><circle cx="129.4" cy="314.5" r="1.28" fill="#00007f"/><circle cx="159.4" cy="314.3" r="1.28" fill="#00007f"/><circle cx="169.3" cy="315.0" r="1.28" fill="#00007f"/><circle cx="143.9" cy="314.3" r="1.28" fill="#00007f"/><circle cx="184.4" cy="314.4" r="1.28" fill="#00007f"/><circle cx="171.3" cy="314.3" r="1.28" fill="#00007f"/><circle cx="119.3" cy="315.0" r="1.28" fill="#00007f"/><circle cx="125.7" cy="315.2" r="1.28" fill="#00007f"/><circle cx="143.1" cy="314.2" r="1.28" fill="#00007f"/><circle cx="119.4" cy="314.5" r="1.28" fill="#00007f"/><circle cx="157.9" cy="315.2" r="1.28" fill="#00007f"/><circle cx="112.7" cy="314.5" r="1.28" fill="#00007f"/><circle cx="118.5" cy="315.3" r="1.28" fill="#00007f"/><circle cx="112.3" cy="314.1" r="1.28" fill="#00007f"/><circle cx="105.2" cy="314.5" r="1.28" fill="#00007f"/><circle cx="178.1" cy="315.1" r="1.28" fill="#00007f"/><circle cx="163.7" cy="315.3" r="1.28" fill="#00007f"/><circle cx="181.0" cy="314.4" r="1.28" fill="#00007f"/><circle cx="116.1" cy="315.2" r="1.28" fill="#00007f"/><circle cx="164.9" cy="314.0" r="1.28" fill="#00007f"/><circle cx="157.8" cy="314.5" r="1.28" fill="#00007f"/><circle cx="132.5" cy="314.4" r="1.28" fill="#00007f"/><circle cx="114.7" cy="314.0" r="1.28" fill="#00007f"/><circle cx="124.3" cy="314.5" r="1.28" fill="#00007f"/><circle cx="183.1" cy="314.2" r="1.28" fill="#00007f"/><circle cx="183.9" cy="314.3" r="1.28" fill="#00007f"/><circle cx="131.0" cy="315.1" r="1.28" fill="#00007f"/><circle cx="171.5" cy="314.6" r="1.28" fill="#00007f"/><circle cx="104.3" cy="314.6" r="1.28" fill="#00007f"/><circle cx="132.4" cy="315.2" r="1.28" fill="#00007f"/><circle cx="116.8" cy="314.5" r="1.28" fill="#00007f"/><circle cx="178.0" cy="314.0" r="1.28" fill="#00007f"/><circle cx="135.7" cy="315.1" r="1.28" fill="#00007f"/><circle cx="166.7" cy="314.1" r="1.28" fill="#00007f"/><circle cx="103.0" cy="314.1" r="1.28" fill="#00007f"/><circle cx="180.0" cy="314.3" r="1.28" fill="#00007f"/><circle cx="165.0" cy="315.2" r="1.28" fill="#00007f"/><circle cx="129.5" cy="314.4" r="1.28" fill="#00007f"/><circle cx="183.3" cy="314.8" r="1.28" fill="#00007f"/><circle cx="122.8" cy="314.9" r="1.28" fill="#00007f"/><circle cx="127.5" cy="314.4" r="1.28" fill="#00007f"/><circle cx="100.3" cy="315.0" r="1.28" fill="#00007f"/><circle cx="179.7" cy="314.8" r="1.28" fill="#00007f"/><circle cx="182.1" cy="314.0" r="1.28" fill="#00007f"/><circle cx="120.3" cy="314.6" r="1.28" fill="#00007f"/><circle cx="183.2" cy="315.2" r="1.28" fill="#00007f"/><circle cx="133.6" cy="314.3" r="1.28" fill="#00007f"/><circle cx="137.4" cy="314.6" r="1.28" fill="#00007f"/><circle cx="180.7" cy="314.2" r="1.28" fill="#00007f"/><circle cx="169.8" cy="315.0" r="1.28" fill="#00007f"/><circle cx="171.6" cy="315.0" r="1.28" fill="#00007f"/><circle cx="152.8" cy="314.4" r="1.28" fill="#00007f"/><circle cx="127.8" cy="314.5" r="1.28" fill="#00007f"/><circle cx="168.1" cy="314.1" r="1.28" fill="#00007f"/><circle cx="117.2" cy="315.0" r="1.28" fill="#00007f"/><circle cx="121.5" cy="314.1" r="1.28" fill="#00007f"/><circle cx="102.9" cy="314.7" r="1.28" fill="#00007f"/><circle cx="128.3" cy="315.3" r="1.28" fill="#00007f"/><circle cx="176.9" cy="315.3" r="1.28" fill="#00007f"/><circle cx="123.0" cy="314.1" r="1.28" fill="#00007f"/><circle cx="108.4" cy="314.6" r="1.28" fill="#00007f"/><circle cx="161.8" cy="314.6" r="1.28" fill="#00007f"/><circle cx="120.4" cy="314.5" r="1.28" fill="#00007f"/><circle cx="154.0" cy="314.9" r="1.28" fill="#00007f"/><circle cx="165.1" cy="315.1" r="1.28" fill="#00007f"/><circle cx="157.8" cy="314.2" r="1.28" fill="#00007f"/><circle cx="173.2" cy="314.4" r="1.28" fill="#00007f"/><circle cx="149.3" cy="314.5" r="1.28" fill="#00007f"/><circle cx="164.2" cy="314.3" r="1.28" fill="#00007f"/><circle cx="121.5" cy="314.3" r="1.28" fill="#00007f"/><circle cx="113.3" cy="315.1" r="1.28" fill="#00007f"/><circle cx="150.3" cy="314.4" r="1.28" fill="#00007f"/><circle cx="134.5" cy="315.3" r="1.28" fill="#00007f"/><circle cx="144.1" cy="314.3" r="1.28" fill="#00007f"/><circle cx="170.3" cy="314.8" r="1.28" fill="#00007f"/><circle cx="186.2" cy="314.1" r="1.28" fill="#00007f"/><circle cx="141.3" cy="315.1" r="1.28" fill="#00007f"/><circle cx="173.1" cy="315.2" r="1.28" fill="#00007f"/><circle cx="103.5" cy="314.4" r="1.28" fill="#00007f"/><circle cx="110.4" cy="314.2" r="1.28" fill="#00007f"/><circle cx="184.6" cy="314.8" r="1.28" fill="#00007f"/><circle cx="180.9" cy="314.5" r="1.28" fill="#00007f"/><circle cx="175.4" cy="314.6" r="1.28" fill="#00007f"/><circle cx="122.6" cy="315.0" r="1.28" fill="#00007f"/><circle cx="182.3" cy="314.1" r="1.28" fill="#00007f"/><circle cx="151.9" cy="314.8" r="1.28" fill="#00007f"/><circle cx="194.2" cy="314.4" r="1.28" fill="#00007f"/><circle cx="191.7" cy="314.1" r="1.28" fill="#00007f"/><circle cx="195.4" cy="314.8" r="1.28" fill="#00007f"/><circle cx="208.5" cy="314.1" r="1.28" fill="#00007f"/><circle cx="187.4" cy="314.3" r="1.28" fill="#00007f"/><circle cx="209.4" cy="314.1" r="1.28" fill="#00007f"/><circle cx="197.3" cy="314.1" r="1.28" fill="#00007f"/><circle cx="213.2" cy="314.7" r="1.28" fill="#00007f"/><circle cx="189.1" cy="314.0" r="1.28" fill="#00007f"/><circle cx="200.0" cy="314.7" r="1.28" fill="#00007f"/><circle cx="208.1" cy="313.9" r="1.28" fill="#00007f"/><circle cx="192.4" cy="314.9" r="1.28" fill="#00007f"/><circle cx="200.5" cy="314.3" r="1.28" fill="#00007f"/><circle cx="197.2" cy="315.3" r="1.28" fill="#00007f"/><circle cx="197.3" cy="314.7" r="1.28" fill="#00007f"/><circle cx="198.8" cy="314.5" r="1.28" fill="#00007f"/><circle cx="215.5" cy="315.4" r="1.28" fill="#00007f"/><circle cx="199.0" cy="314.1" r="1.28" fill="#00007f"/><circle cx="211.0" cy="314.1" r="1.28" fill="#00007f"/><circle cx="187.2" cy="315.2" r="1.28" fill="#00007f"/><circle cx="201.0" cy="315.1" r="1.28" fill="#00007f"/><circle cx="200.4" cy="315.2" r="1.28" fill="#00007f"/><circle cx="202.2" cy="314.1" r="1.28" fill="#00007f"/><circle cx="187.5" cy="314.7" r="1.28" fill="#00007f"/><circle cx="208.1" cy="315.3" r="1.28" fill="#00007f"/><circle cx="189.9" cy="314.8" r="1.28" fill="#00007f"/><circle cx="199.2" cy="314.6" r="1.28" fill="#00007f"/><circle cx="191.8" cy="314.3" r="1.28" fill="#00007f"/><circle cx="204.2" cy="315.3" r="1.28" fill="#00007f"/><circle cx="190.6" cy="314.6" r="1.28" fill="#00007f"/><circle cx="213.6" cy="315.3" r="1.28" fill="#00007f"/><circle cx="193.5" cy="314.0" r="1.28" fill="#00007f"/><circle cx="218.1" cy="315.4" r="1.28" fill="#00007f"/><circle cx="202.9" cy="313.9" r="1.28" fill="#00007f"/><circle cx="217.6" cy="314.4" r="1.28" fill="#00007f"/><circle cx="216.8" cy="314.8" r="1.28" fill="#00007f"/><circle cx="214.2" cy="314.1" r="1.28" fill="#00007f"/><circle cx="212.9" cy="314.2" r="1.28" fill="#00007f"/><circle cx="200.3" cy="315.2" r="1.28" fill="#00007f"/><circle cx="214.4" cy="314.1" r="1.28" fill="#00007f"/><circle cx="194.2" cy="314.4" r="1.28" fill="#00007f"/><circle cx="204.1" cy="314.4" r="1.28" fill="#00007f"/><circle cx="191.1" cy="314.2" r="1.28" fill="#00007f"/><circle cx="210.9" cy="315.2" r="1.28" fill="#00007f"/><circle cx="188.4" cy="314.7" r="1.28" fill="#00007f"/><circle cx="212.0" cy="313.9" r="1.28" fill="#00007f"/><circle cx="214.7" cy="314.0" r="1.28" fill="#00007f"/><circle cx="206.8" cy="314.7" r="1.28" fill="#00007f"/><circle cx="207.7" cy="314.3" r="1.28" fill="#00007f"/><circle cx="200.9" cy="314.7" r="1.28" fill="#00007f"/><circle cx="201.0" cy="314.9" r="1.28" fill="#00007f"/><circle cx="201.7" cy="314.5" r="1.28" fill="#00007f"/><circle cx="187.8" cy="314.8" r="1.28" fill="#00007f"/><circle cx="203.2" cy="314.2" r="1.28" fill="#00007f"/><circle cx="212.2" cy="315.0" r="1.28" fill="#00007f"/><circle cx="202.1" cy="314.1" r="1.28" fill="#00007f"/><circle cx="202.6" cy="314.0" r="1.28" fill="#00007f"/><circle cx="191.2" cy="314.5" r="1.28" fill="#00007f"/><circle cx="190.0" cy="314.5" r="1.28" fill="#00007f"/><circle cx="203.8" cy="313.9" r="1.28" fill="#00007f"/><circle cx="208.0" cy="313.9" r="1.28" fill="#00007f"/><circle cx="211.2" cy="315.0" r="1.28" fill="#00007f"/><circle cx="203.9" cy="313.9" r="1.28" fill="#00007f"/><circle cx="203.6" cy="314.4" r="1.28" fill="#00007f"/><circle cx="218.4" cy="314.0" r="1.28" fill="#00007f"/><circle cx="215.3" cy="315.4" r="1.28" fill="#00007f"/><circle cx="211.2" cy="315.1" r="1.28" fill="#00007f"/><circle cx="193.4" cy="315.4" r="1.28" fill="#00007f"/><circle cx="203.2" cy="315.3" r="1.28" fill="#00007f"/><circle cx="217.2" cy="314.1" r="1.28" fill="#00007f"/><circle cx="213.0" cy="315.3" r="1.28" fill="#00007f"/><circle cx="189.2" cy="314.4" r="1.28" fill="#00007f"/><circle cx="239.9" cy="314.1" r="1.28" fill="#00007f"/><circle cx="242.8" cy="314.2" r="1.28" fill="#00007f"/><circle cx="241.1" cy="314.0" r="1.28" fill="#00007f"/><circle cx="234.5" cy="315.3" r="1.28" fill="#00007f"/><circle cx="228.4" cy="314.2" r="1.28" fill="#00007f"/><circle cx="234.6" cy="314.3" r="1.28" fill="#00007f"/><circle cx="224.8" cy="314.1" r="1.28" fill="#00007f"/><circle cx="227.4" cy="315.3" r="1.28" fill="#00007f"/><circle cx="238.3" cy="315.2" r="1.28" fill="#00007f"/><circle cx="227.5" cy="315.1" r="1.28" fill="#00007f"/><circle cx="226.4" cy="314.6" r="1.28" fill="#00007f"/><circle cx="237.4" cy="314.4" r="1.28" fill="#00007f"/><circle cx="242.3" cy="314.7" r="1.28" fill="#00007f"/><circle cx="236.2" cy="315.2" r="1.28" fill="#00007f"/><circle cx="226.2" cy="315.4" r="1.28" fill="#00007f"/><circle cx="237.2" cy="314.4" r="1.28" fill="#00007f"/><circle cx="240.8" cy="314.2" r="1.28" fill="#00007f"/><circle cx="244.8" cy="314.7" r="1.28" fill="#00007f"/><circle cx="231.6" cy="315.0" r="1.28" fill="#00007f"/><circle cx="233.3" cy="314.1" r="1.28" fill="#00007f"/><circle cx="239.6" cy="313.9" r="1.28" fill="#00007f"/><circle cx="241.2" cy="314.2" r="1.28" fill="#00007f"/><circle cx="237.4" cy="315.4" r="1.28" fill="#00007f"/><circle cx="236.3" cy="314.9" r="1.28" fill="#00007f"/><circle cx="230.6" cy="313.8" r="1.28" fill="#00007f"/><circle cx="224.7" cy="314.0" r="1.28" fill="#00007f"/><circle cx="236.9" cy="314.5" r="1.28" fill="#00007f"/><circle cx="234.8" cy="315.2" r="1.28" fill="#00007f"/><circle cx="226.8" cy="314.2" r="1.28" fill="#00007f"/><circle cx="237.7" cy="313.8" r="1.28" fill="#00007f"/><circle cx="224.1" cy="314.4" r="1.28" fill="#00007f"/><circle cx="226.2" cy="314.4" r="1.28" fill="#00007f"/><circle cx="228.7" cy="314.7" r="1.28" fill="#00007f"/><circle cx="236.4" cy="314.1" r="1.28" fill="#00007f"/><circle cx="237.1" cy="314.6" r="1.28" fill="#00007f"/><circle cx="226.8" cy="315.3" r="1.28" fill="#00007f"/><circle cx="229.1" cy="314.0" r="1.28" fill="#00007f"/><circle cx="226.0" cy="314.8" r="1.28" fill="#00007f"/><circle cx="242.3" cy="315.1" r="1.28" fill="#00007f"/><circle cx="232.4" cy="314.2" r="1.28" fill="#00007f"/><circle cx="224.2" cy="314.8" r="1.28" fill="#00007f"/><circle cx="235.8" cy="314.4" r="1.28" fill="#00007f"/><circle cx="237.6" cy="314.5" r="1.28" fill="#00007f"/><circle cx="243.7" cy="315.0" r="1.28" fill="#00007f"/><circle cx="229.2" cy="315.2" r="1.28" fill="#00007f"/><circle cx="224.9" cy="314.7" r="1.28" fill="#00007f"/><circle cx="221.6" cy="314.8" r="1.28" fill="#00007f"/><circle cx="220.2" cy="315.2" r="1.28" fill="#00007f"/><circle cx="220.0" cy="315.0" r="1.28" fill="#00007f"/><circle cx="223.8" cy="314.7" r="1.28" fill="#00007f"/><circle cx="256.0" cy="314.7" r="1.28" fill="#00007f"/><circle cx="272.9" cy="314.8" r="1.28" fill="#00007f"/><circle cx="289.7" cy="314.1" r="1.28" fill="#00007f"/><circle cx="262.0" cy="314.3" r="1.28" fill="#00007f"/><circle cx="247.7" cy="315.1" r="1.28" fill="#00007f"/><circle cx="288.1" cy="314.9" r="1.28" fill="#00007f"/><circle cx="245.3" cy="315.1" r="1.28" fill="#00007f"/><circle cx="286.0" cy="314.5" r="1.28" fill="#00007f"/><circle cx="285.8" cy="314.5" r="1.28" fill="#00007f"/><circle cx="257.4" cy="314.0" r="1.28" fill="#00007f"/><circle cx="257.8" cy="313.9" r="1.28" fill="#00007f"/><circle cx="263.5" cy="314.9" r="1.28" fill="#00007f"/><circle cx="283.2" cy="315.1" r="1.28" fill="#00007f"/><circle cx="284.1" cy="314.2" r="1.28" fill="#00007f"/><circle cx="275.5" cy="314.5" r="1.28" fill="#00007f"/><circle cx="288.4" cy="314.6" r="1.28" fill="#00007f"/><circle cx="259.6" cy="314.8" r="1.28" fill="#00007f"/><circle cx="298.1" cy="314.1" r="1.28" fill="#00007f"/><circle cx="293.4" cy="313.8" r="1.28" fill="#00007f"/><circle cx="259.3" cy="314.2" r="1.28" fill="#00007f"/><circle cx="285.9" cy="315.2" r="1.28" fill="#00007f"/><circle cx="286.0" cy="314.3" r="1.28" fill="#00007f"/><circle cx="293.4" cy="314.3" r="1.28" fill="#00007f"/><circle cx="258.2" cy="315.2" r="1.28" fill="#00007f"/><circle cx="279.7" cy="314.8" r="1.28" fill="#00007f"/><circle cx="281.6" cy="315.3" r="1.28" fill="#00007f"/><circle cx="270.8" cy="315.1" r="1.28" fill="#00007f"/><circle cx="283.4" cy="315.1" r="1.28" fill="#00007f"/><circle cx="269.0" cy="314.9" r="1.28" fill="#00007f"/><circle cx="276.4" cy="314.3" r="1.28" fill="#00007f"/><circle cx="256.7" cy="314.7" r="1.28" fill="#00007f"/><circle cx="249.3" cy="315.2" r="1.28" fill="#00007f"/><circle cx="253.0" cy="313.8" r="1.28" fill="#00007f"/><circle cx="250.9" cy="315.2" r="1.28" fill="#00007f"/><circle cx="264.0" cy="314.0" r="1.28" fill="#00007f"/><circle cx="246.6" cy="313.9" r="1.28" fill="#00007f"/><circle cx="283.1" cy="314.8" r="1.28" fill="#00007f"/><circle cx="283.3" cy="314.9" r="1.28" fill="#00007f"/><circle cx="248.6" cy="314.7" r="1.28" fill="#00007f"/><circle cx="265.0" cy="315.0" r="1.28" fill="#00007f"/><circle cx="290.1" cy="315.1" r="1.28" fill="#00007f"/><circle cx="248.6" cy="315.1" r="1.28" fill="#00007f"/><circle cx="295.3" cy="315.2" r="1.28" fill="#00007f"/><circle cx="250.9" cy="314.1" r="1.28" fill="#00007f"/><circle cx="251.2" cy="313.9" r="1.28" fill="#00007f"/><circle cx="291.6" cy="315.0" r="1.28" fill="#00007f"/><circle cx="279.9" cy="315.0" r="1.28" fill="#00007f"/><circle cx="279.7" cy="314.2" r="1.28" fill="#00007f"/><circle cx="250.5" cy="313.9" r="1.28" fill="#00007f"/><circle cx="286.7" cy="314.1" r="1.28" fill="#00007f"/><circle cx="262.6" cy="314.4" r="1.28" fill="#00007f"/><circle cx="246.2" cy="314.2" r="1.28" fill="#00007f"/><circle cx="260.5" cy="314.9" r="1.28" fill="#00007f"/><circle cx="265.2" cy="314.3" r="1.28" fill="#00007f"/><circle cx="298.0" cy="314.6" r="1.28" fill="#00007f"/><circle cx="291.8" cy="314.7" r="1.28" fill="#00007f"/><circle cx="246.7" cy="314.4" r="1.28" fill="#00007f"/><circle cx="269.0" cy="315.0" r="1.28" fill="#00007f"/><circle cx="264.1" cy="314.9" r="1.28" fill="#00007f"/><circle cx="274.6" cy="314.1" r="1.28" fill="#00007f"/><circle cx="292.4" cy="313.9" r="1.28" fill="#00007f"/><circle cx="290.1" cy="314.1" r="1.28" fill="#00007f"/><circle cx="245.1" cy="314.1" r="1.28" fill="#00007f"/><circle cx="286.9" cy="315.3" r="1.28" fill="#00007f"/><circle cx="245.2" cy="314.5" r="1.28" fill="#00007f"/><circle cx="272.0" cy="315.0" r="1.28" fill="#00007f"/><circle cx="255.1" cy="314.5" r="1.28" fill="#00007f"/><circle cx="264.1" cy="315.0" r="1.28" fill="#00007f"/><circle cx="259.3" cy="315.2" r="1.28" fill="#00007f"/><circle cx="260.6" cy="314.1" r="1.28" fill="#00007f"/><circle cx="283.5" cy="314.5" r="1.28" fill="#00007f"/><circle cx="251.0" cy="314.8" r="1.28" fill="#00007f"/><circle cx="249.4" cy="315.0" r="1.28" fill="#00007f"/><circle cx="283.3" cy="315.0" r="1.28" fill="#00007f"/><circle cx="279.5" cy="314.3" r="1.28" fill="#00007f"/><circle cx="267.1" cy="314.4" r="1.28" fill="#00007f"/><circle cx="294.0" cy="313.9" r="1.28" fill="#00007f"/><circle cx="293.9" cy="313.8" r="1.28" fill="#00007f"/><circle cx="256.3" cy="314.2" r="1.28" fill="#00007f"/><circle cx="294.6" cy="314.6" r="1.28" fill="#00007f"/><circle cx="265.9" cy="315.1" r="1.28" fill="#00007f"/><circle cx="257.8" cy="314.5" r="1.28" fill="#00007f"/><circle cx="274.2" cy="314.9" r="1.28" fill="#00007f"/><circle cx="286.4" cy="314.8" r="1.28" fill="#00007f"/><circle cx="264.2" cy="314.3" r="1.28" fill="#00007f"/><circle cx="253.5" cy="315.1" r="1.28" fill="#00007f"/><circle cx="281.4" cy="314.9" r="1.28" fill="#00007f"/><circle cx="254.3" cy="314.5" r="1.28" fill="#00007f"/><circle cx="287.5" cy="314.7" r="1.28" fill="#00007f"/><circle cx="251.9" cy="314.5" r="1.28" fill="#00007f"/><circle cx="293.7" cy="314.2" r="1.28" fill="#00007f"/><circle cx="255.5" cy="314.3" r="1.28" fill="#00007f"/><circle cx="283.7" cy="315.1" r="1.28" fill="#00007f"/><circle cx="253.5" cy="314.0" r="1.28" fill="#00007f"/><circle cx="258.6" cy="314.3" r="1.28" fill="#00007f"/><circle cx="273.7" cy="314.0" r="1.28" fill="#00007f"/><circle cx="263.0" cy="314.1" r="1.28" fill="#00007f"/><circle cx="298.6" cy="314.9" r="1.28" fill="#00007f"/><circle cx="250.6" cy="315.2" r="1.28" fill="#00007f"/><circle cx="250.6" cy="314.4" r="1.28" fill="#00007f"/><circle cx="299.1" cy="315.0" r="1.28" fill="#00007f"/><circle cx="285.3" cy="314.5" r="1.28" fill="#00007f"/><circle cx="255.8" cy="314.8" r="1.28" fill="#00007f"/><circle cx="250.9" cy="314.1" r="1.28" fill="#00007f"/><circle cx="266.4" cy="313.9" r="1.28" fill="#00007f"/><circle cx="266.9" cy="315.0" r="1.28" fill="#00007f"/><circle cx="283.1" cy="314.6" r="1.28" fill="#00007f"/><circle cx="279.8" cy="314.5" r="1.28" fill="#00007f"/><circle cx="252.8" cy="314.7" r="1.28" fill="#00007f"/><circle cx="267.3" cy="314.9" r="1.28" fill="#00007f"/><circle cx="345.4" cy="314.5" r="1.28" fill="#00007f"/><circle cx="328.7" cy="314.8" r="1.28" fill="#00007f"/><circle cx="321.1" cy="314.4" r="1.28" fill="#00007f"/><circle cx="336.1" cy="314.9" r="1.28" fill="#00007f"/><circle cx="338.7" cy="314.8" r="1.28" fill="#00007f"/><circle cx="342.6" cy="314.7" r="1.28" fill="#00007f"/><circle cx="332.1" cy="314.6" r="1.28" fill="#00007f"/><circle cx="315.7" cy="314.7" r="1.28" fill="#00007f"/><circle cx="304.9" cy="314.5" r="1.28" fill="#00007f"/><circle cx="339.1" cy="314.8" r="1.28" fill="#00007f"/><circle cx="331.5" cy="314.4" r="1.28" fill="#00007f"/><circle cx="321.2" cy="314.6" r="1.28" fill="#00007f"/><circle cx="331.1" cy="314.5" r="1.28" fill="#00007f"/><circle cx="333.8" cy="314.9" r="1.28" fill="#00007f"/><circle cx="309.2" cy="314.7" r="1.28" fill="#00007f"/><circle cx="338.9" cy="314.5" r="1.28" fill="#00007f"/><circle cx="324.5" cy="315.0" r="1.28" fill="#00007f"/><circle cx="301.9" cy="314.6" r="1.28" fill="#00007f"/><circle cx="308.0" cy="314.8" r="1.28" fill="#00007f"/><circle cx="347.0" cy="314.6" r="1.28" fill="#00007f"/><circle cx="305.1" cy="314.7" r="1.28" fill="#00007f"/><circle cx="327.1" cy="314.8" r="1.28" fill="#00007f"/><circle cx="325.6" cy="314.7" r="1.28" fill="#00007f"/><circle cx="341.4" cy="314.6" r="1.28" fill="#00007f"/><circle cx="320.5" cy="315.0" r="1.28" fill="#00007f"/><circle cx="364.2" cy="314.8" r="1.28" fill="#00007f"/><circle cx="371.3" cy="314.9" r="1.28" fill="#00007f"/><circle cx="360.8" cy="315.1" r="1.28" fill="#00007f"/><circle cx="369.9" cy="314.3" r="1.28" fill="#00007f"/><circle cx="366.7" cy="314.6" r="1.28" fill="#00007f"/><circle cx="356.5" cy="314.6" r="1.28" fill="#00007f"/><circle cx="372.4" cy="314.8" r="1.28" fill="#00007f"/><circle cx="369.7" cy="314.4" r="1.28" fill="#00007f"/><circle cx="364.8" cy="314.9" r="1.28" fill="#00007f"/><circle cx="392.7" cy="314.7" r="1.28" fill="#00007f"/><circle cx="364.5" cy="314.9" r="1.28" fill="#00007f"/><circle cx="371.3" cy="314.4" r="1.28" fill="#00007f"/><circle cx="361.0" cy="314.9" r="1.28" fill="#00007f"/><circle cx="387.6" cy="314.8" r="1.28" fill="#00007f"/><circle cx="374.3" cy="314.7" r="1.28" fill="#00007f"/><circle cx="364.8" cy="315.1" r="1.28" fill="#00007f"/><circle cx="369.8" cy="314.8" r="1.28" fill="#00007f"/><circle cx="387.9" cy="314.9" r="1.28" fill="#00007f"/><circle cx="374.3" cy="314.5" r="1.28" fill="#00007f"/><circle cx="377.4" cy="314.3" r="1.28" fill="#00007f"/><circle cx="388.5" cy="314.5" r="1.28" fill="#00007f"/><circle cx="389.2" cy="314.4" r="1.28" fill="#00007f"/><circle cx="370.7" cy="314.4" r="1.28" fill="#00007f"/><circle cx="372.6" cy="314.4" r="1.28" fill="#00007f"/><circle cx="356.1" cy="314.8" r="1.28" fill="#00007f"/><circle cx="367.0" cy="314.4" r="1.28" fill="#00007f"/><circle cx="367.8" cy="314.6" r="1.28" fill="#00007f"/><circle cx="372.7" cy="314.8" r="1.28" fill="#00007f"/><circle cx="381.7" cy="314.5" r="1.28" fill="#00007f"/><circle cx="392.2" cy="315.0" r="1.28" fill="#00007f"/><circle cx="358.2" cy="314.9" r="1.28" fill="#00007f"/><circle cx="391.3" cy="314.9" r="1.28" fill="#00007f"/><circle cx="361.5" cy="314.9" r="1.28" fill="#00007f"/><circle cx="380.7" cy="314.2" r="1.28" fill="#00007f"/><circle cx="356.4" cy="315.1" r="1.28" fill="#00007f"/><circle cx="381.6" cy="314.4" r="1.28" fill="#00007f"/><circle cx="360.0" cy="314.3" r="1.28" fill="#00007f"/><circle cx="365.1" cy="314.9" r="1.28" fill="#00007f"/><circle cx="369.5" cy="314.3" r="1.28" fill="#00007f"/><circle cx="391.3" cy="314.9" r="1.28" fill="#00007f"/><circle cx="362.5" cy="315.0" r="1.28" fill="#00007f"/><circle cx="379.7" cy="314.9" r="1.28" fill="#00007f"/><circle cx="382.1" cy="315.0" r="1.28" fill="#00007f"/><circle cx="386.7" cy="315.0" r="1.28" fill="#00007f"/><circle cx="363.7" cy="314.8" r="1.28" fill="#00007f"/><circle cx="376.7" cy="314.9" r="1.28" fill="#00007f"/><circle cx="476.6" cy="315.3" r="1.28" fill="#00007f"/><circle cx="498.2" cy="314.6" r="1.28" fill="#00007f"/><circle cx="438.6" cy="314.5" r="1.28" fill="#00007f"/><circle cx="486.7" cy="314.4" r="1.28" fill="#00007f"/><circle cx="481.9" cy="314.5" r="1.28" fill="#00007f"/><circle cx="486.4" cy="314.8" r="1.28" fill="#00007f"/><circle cx="495.4" cy="315.2" r="1.28" fill="#00007f"/><circle cx="396.2" cy="315.2" r="1.28" fill="#00007f"/><circle cx="482.0" cy="314.9" r="1.28" fill="#00007f"/><circle cx="518.7" cy="315.2" r="1.28" fill="#00007f"/><circle cx="464.7" cy="314.8" r="1.28" fill="#00007f"/><circle cx="573.7" cy="314.4" r="1.28" fill="#00007f"/><circle cx="513.5" cy="315.0" r="1.28" fill="#00007f"/><circle cx="400.3" cy="315.0" r="1.28" fill="#00007f"/><circle cx="522.0" cy="315.3" r="1.28" fill="#00007f"/><circle cx="456.5" cy="315.4" r="1.28" fill="#00007f"/><circle cx="490.0" cy="314.8" r="1.28" fill="#00007f"/><circle cx="561.9" cy="314.3" r="1.28" fill="#00007f"/><circle cx="528.6" cy="315.0" r="1.28" fill="#00007f"/><circle cx="458.0" cy="315.2" r="1.28" fill="#00007f"/><circle cx="463.1" cy="314.8" r="1.28" fill="#00007f"/><circle cx="492.7" cy="315.1" r="1.28" fill="#00007f"/><circle cx="434.2" cy="314.8" r="1.28" fill="#00007f"/><circle cx="473.6" cy="314.9" r="1.28" fill="#00007f"/><circle cx="548.8" cy="314.6" r="1.28" fill="#00007f"/><circle cx="549.0" cy="314.7" r="1.28" fill="#00007f"/><circle cx="488.7" cy="314.6" r="1.28" fill="#00007f"/><circle cx="489.2" cy="315.4" r="1.28" fill="#00007f"/><circle cx="516.7" cy="315.2" r="1.28" fill="#00007f"/><circle cx="456.5" cy="314.6" r="1.28" fill="#00007f"/><circle cx="450.7" cy="314.9" r="1.28" fill="#00007f"/><circle cx="513.1" cy="315.2" r="1.28" fill="#00007f"/><circle cx="402.4" cy="315.1" r="1.28" fill="#00007f"/><circle cx="559.7" cy="314.9" r="1.28" fill="#00007f"/><circle cx="404.2" cy="314.6" r="1.28" fill="#00007f"/><circle cx="396.2" cy="314.5" r="1.28" fill="#00007f"/><circle cx="566.4" cy="315.0" r="1.28" fill="#00007f"/><circle cx="517.4" cy="315.2" r="1.28" fill="#00007f"/><circle cx="564.2" cy="315.0" r="1.28" fill="#00007f"/><circle cx="509.7" cy="315.0" r="1.28" fill="#00007f"/><circle cx="524.5" cy="315.0" r="1.28" fill="#00007f"/><circle cx="521.7" cy="314.5" r="1.28" fill="#00007f"/><circle cx="519.1" cy="314.8" r="1.28" fill="#00007f"/><circle cx="536.9" cy="314.4" r="1.28" fill="#00007f"/><circle cx="428.7" cy="314.3" r="1.28" fill="#00007f"/><circle cx="539.1" cy="315.3" r="1.28" fill="#00007f"/><circle cx="517.0" cy="314.7" r="1.28" fill="#00007f"/><circle cx="548.0" cy="315.2" r="1.28" fill="#00007f"/><circle cx="499.6" cy="314.6" r="1.28" fill="#00007f"/><circle cx="451.2" cy="314.8" r="1.28" fill="#00007f"/><circle cx="454.2" cy="314.8" r="1.28" fill="#00007f"/><circle cx="514.4" cy="315.3" r="1.28" fill="#00007f"/><circle cx="405.2" cy="314.9" r="1.28" fill="#00007f"/><circle cx="402.3" cy="314.4" r="1.28" fill="#00007f"/><circle cx="545.7" cy="314.9" r="1.28" fill="#00007f"/><circle cx="565.9" cy="314.8" r="1.28" fill="#00007f"/><circle cx="397.6" cy="314.7" r="1.28" fill="#00007f"/><circle cx="505.1" cy="315.3" r="1.28" fill="#00007f"/><circle cx="577.4" cy="314.8" r="1.28" fill="#00007f"/><circle cx="471.7" cy="314.4" r="1.28" fill="#00007f"/><circle cx="514.9" cy="314.5" r="1.28" fill="#00007f"/><circle cx="423.2" cy="314.3" r="1.28" fill="#00007f"/><circle cx="395.9" cy="315.1" r="1.28" fill="#00007f"/><circle cx="417.6" cy="315.4" r="1.28" fill="#00007f"/><circle cx="411.4" cy="315.3" r="1.28" fill="#00007f"/><circle cx="419.0" cy="314.3" r="1.28" fill="#00007f"/><circle cx="528.8" cy="314.6" r="1.28" fill="#00007f"/><circle cx="531.4" cy="314.5" r="1.28" fill="#00007f"/><circle cx="404.3" cy="315.2" r="1.28" fill="#00007f"/><circle cx="527.7" cy="315.2" r="1.28" fill="#00007f"/><circle cx="530.7" cy="314.4" r="1.28" fill="#00007f"/><circle cx="511.9" cy="315.1" r="1.28" fill="#00007f"/><circle cx="480.7" cy="315.3" r="1.28" fill="#00007f"/><circle cx="442.3" cy="315.4" r="1.28" fill="#00007f"/><circle cx="528.4" cy="314.3" r="1.28" fill="#00007f"/><circle cx="397.7" cy="315.0" r="1.28" fill="#00007f"/><circle cx="547.0" cy="314.4" r="1.28" fill="#00007f"/><circle cx="452.9" cy="315.1" r="1.28" fill="#00007f"/><circle cx="425.9" cy="315.2" r="1.28" fill="#00007f"/><circle cx="485.5" cy="314.4" r="1.28" fill="#00007f"/><circle cx="463.4" cy="314.9" r="1.28" fill="#00007f"/><circle cx="476.6" cy="315.0" r="1.28" fill="#00007f"/><circle cx="422.0" cy="315.2" r="1.28" fill="#00007f"/><circle cx="462.6" cy="315.0" r="1.28" fill="#00007f"/><circle cx="512.1" cy="314.8" r="1.28" fill="#00007f"/><circle cx="466.7" cy="315.2" r="1.28" fill="#00007f"/><circle cx="570.8" cy="315.2" r="1.28" fill="#00007f"/><circle cx="500.4" cy="314.6" r="1.28" fill="#00007f"/><circle cx="406.3" cy="315.4" r="1.28" fill="#00007f"/><circle cx="525.8" cy="315.2" r="1.28" fill="#00007f"/><circle cx="456.8" cy="315.0" r="1.28" fill="#00007f"/><circle cx="576.8" cy="315.2" r="1.28" fill="#00007f"/><circle cx="506.8" cy="314.6" r="1.28" fill="#00007f"/><circle cx="474.7" cy="315.3" r="1.28" fill="#00007f"/><circle cx="465.1" cy="315.1" r="1.28" fill="#00007f"/><circle cx="506.9" cy="315.3" r="1.28" fill="#00007f"/><circle cx="545.2" cy="314.6" r="1.28" fill="#00007f"/><circle cx="395.3" cy="314.6" r="1.28" fill="#00007f"/><circle cx="473.6" cy="314.9" r="1.28" fill="#00007f"/><circle cx="546.8" cy="315.3" r="1.28" fill="#00007f"/><circle cx="402.9" cy="315.2" r="1.28" fill="#00007f"/><circle cx="546.0" cy="315.3" r="1.28" fill="#00007f"/><circle cx="501.4" cy="314.6" r="1.28" fill="#00007f"/><circle cx="553.3" cy="315.2" r="1.28" fill="#00007f"/><circle cx="522.3" cy="315.3" r="1.28" fill="#00007f"/><circle cx="459.5" cy="314.4" r="1.28" fill="#00007f"/><circle cx="498.0" cy="315.2" r="1.28" fill="#00007f"/><circle cx="432.3" cy="315.1" r="1.28" fill="#00007f"/><circle cx="568.3" cy="314.6" r="1.28" fill="#00007f"/><circle cx="507.9" cy="315.0" r="1.28" fill="#00007f"/><circle cx="481.6" cy="314.5" r="1.28" fill="#00007f"/><circle cx="442.4" cy="315.1" r="1.28" fill="#00007f"/><circle cx="542.2" cy="314.8" r="1.28" fill="#00007f"/><circle cx="411.3" cy="315.2" r="1.28" fill="#00007f"/><circle cx="538.6" cy="314.6" r="1.28" fill="#00007f"/><circle cx="502.8" cy="315.3" r="1.28" fill="#00007f"/><circle cx="559.6" cy="314.9" r="1.28" fill="#00007f"/><circle cx="483.6" cy="314.9" r="1.28" fill="#00007f"/><circle cx="430.2" cy="314.5" r="1.28" fill="#00007f"/><circle cx="428.6" cy="315.1" r="1.28" fill="#00007f"/><circle cx="462.5" cy="314.9" r="1.28" fill="#00007f"/><circle cx="469.9" cy="314.9" r="1.28" fill="#00007f"/><circle cx="422.7" cy="314.3" r="1.28" fill="#00007f"/><circle cx="580.5" cy="314.7" r="1.28" fill="#00007f"/><circle cx="414.7" cy="315.0" r="1.28" fill="#00007f"/><circle cx="541.4" cy="314.5" r="1.28" fill="#00007f"/><circle cx="506.1" cy="314.7" r="1.28" fill="#00007f"/><circle cx="491.6" cy="314.3" r="1.28" fill="#00007f"/><circle cx="401.2" cy="315.4" r="1.28" fill="#00007f"/><circle cx="556.1" cy="314.8" r="1.28" fill="#00007f"/><circle cx="500.5" cy="314.6" r="1.28" fill="#00007f"/><circle cx="539.9" cy="314.8" r="1.28" fill="#00007f"/><circle cx="571.0" cy="315.1" r="1.28" fill="#00007f"/><circle cx="547.3" cy="315.4" r="1.28" fill="#00007f"/><circle cx="442.2" cy="314.3" r="1.28" fill="#00007f"/><circle cx="432.4" cy="314.5" r="1.28" fill="#00007f"/><circle cx="410.6" cy="314.4" r="1.28" fill="#00007f"/><circle cx="498.7" cy="315.3" r="1.28" fill="#00007f"/><circle cx="480.2" cy="315.3" r="1.28" fill="#00007f"/><circle cx="564.2" cy="314.4" r="1.28" fill="#00007f"/><circle cx="506.2" cy="314.7" r="1.28" fill="#00007f"/><circle cx="417.3" cy="315.4" r="1.28" fill="#00007f"/><circle cx="442.8" cy="314.9" r="1.28" fill="#00007f"/><circle cx="514.2" cy="315.4" r="1.28" fill="#00007f"/><circle cx="519.6" cy="314.7" r="1.28" fill="#00007f"/><circle cx="478.4" cy="314.5" r="1.28" fill="#00007f"/><circle cx="574.6" cy="315.4" r="1.28" fill="#00007f"/><circle cx="436.2" cy="314.3" r="1.28" fill="#00007f"/><circle cx="442.6" cy="314.7" r="1.28" fill="#00007f"/><circle cx="562.9" cy="315.3" r="1.28" fill="#00007f"/><circle cx="550.7" cy="314.4" r="1.28" fill="#00007f"/><circle cx="541.3" cy="315.1" r="1.28" fill="#00007f"/><circle cx="515.3" cy="315.4" r="1.28" fill="#00007f"/><circle cx="405.4" cy="314.5" r="1.28" fill="#00007f"/><circle cx="535.4" cy="315.3" r="1.28" fill="#00007f"/><circle cx="520.9" cy="314.6" r="1.28" fill="#00007f"/><circle cx="505.0" cy="315.1" r="1.28" fill="#00007f"/><circle cx="414.6" cy="314.7" r="1.28" fill="#00007f"/><circle cx="442.8" cy="314.4" r="1.28" fill="#00007f"/><circle cx="484.5" cy="314.5" r="1.28" fill="#00007f"/><circle cx="439.4" cy="314.5" r="1.28" fill="#00007f"/><circle cx="521.0" cy="314.3" r="1.28" fill="#00007f"/><circle cx="528.4" cy="314.5" r="1.28" fill="#00007f"/><circle cx="401.7" cy="315.3" r="1.28" fill="#00007f"/><circle cx="436.0" cy="315.3" r="1.28" fill="#00007f"/><circle cx="556.2" cy="315.3" r="1.28" fill="#00007f"/><circle cx="421.0" cy="314.8" r="1.28" fill="#00007f"/><circle cx="413.0" cy="315.3" r="1.28" fill="#00007f"/><circle cx="551.7" cy="315.0" r="1.28" fill="#00007f"/><circle cx="479.1" cy="314.7" r="1.28" fill="#00007f"/><circle cx="548.1" cy="314.8" r="1.28" fill="#00007f"/><circle cx="511.8" cy="314.5" r="1.28" fill="#00007f"/><circle cx="436.2" cy="314.4" r="1.28" fill="#00007f"/><circle cx="527.8" cy="314.9" r="1.28" fill="#00007f"/><circle cx="421.9" cy="315.3" r="1.28" fill="#00007f"/><circle cx="444.5" cy="314.8" r="1.28" fill="#00007f"/><circle cx="424.0" cy="314.6" r="1.28" fill="#00007f"/><circle cx="551.2" cy="314.7" r="1.28" fill="#00007f"/><circle cx="426.2" cy="314.8" r="1.28" fill="#00007f"/><circle cx="454.2" cy="315.3" r="1.28" fill="#00007f"/><circle cx="416.2" cy="315.4" r="1.28" fill="#00007f"/><circle cx="405.6" cy="315.3" r="1.28" fill="#00007f"/><circle cx="519.3" cy="314.5" r="1.28" fill="#00007f"/><circle cx="483.8" cy="314.6" r="1.28" fill="#00007f"/><circle cx="442.9" cy="314.5" r="1.28" fill="#00007f"/><circle cx="462.8" cy="315.4" r="1.28" fill="#00007f"/><circle cx="580.6" cy="315.3" r="1.28" fill="#00007f"/><circle cx="413.1" cy="314.6" r="1.28" fill="#00007f"/><circle cx="561.7" cy="314.4" r="1.28" fill="#00007f"/><circle cx="530.1" cy="314.6" r="1.28" fill="#00007f"/><circle cx="577.0" cy="314.3" r="1.28" fill="#00007f"/><circle cx="545.1" cy="314.7" r="1.28" fill="#00007f"/><circle cx="421.1" cy="314.3" r="1.28" fill="#00007f"/><circle cx="549.8" cy="314.9" r="1.28" fill="#00007f"/><circle cx="429.6" cy="314.8" r="1.28" fill="#00007f"/><circle cx="564.6" cy="314.5" r="1.28" fill="#00007f"/><circle cx="501.3" cy="314.5" r="1.28" fill="#00007f"/><circle cx="428.5" cy="315.1" r="1.28" fill="#00007f"/><circle cx="527.4" cy="314.5" r="1.28" fill="#00007f"/><circle cx="409.7" cy="314.4" r="1.28" fill="#00007f"/><circle cx="508.2" cy="314.8" r="1.28" fill="#00007f"/><circle cx="445.9" cy="314.5" r="1.28" fill="#00007f"/><circle cx="508.9" cy="315.1" r="1.28" fill="#00007f"/><circle cx="546.0" cy="314.9" r="1.28" fill="#00007f"/><circle cx="432.6" cy="314.4" r="1.28" fill="#00007f"/><circle cx="531.3" cy="314.7" r="1.28" fill="#00007f"/><circle cx="529.2" cy="314.4" r="1.28" fill="#00007f"/><circle cx="545.8" cy="314.7" r="1.28" fill="#00007f"/><circle cx="551.6" cy="315.3" r="1.28" fill="#00007f"/><circle cx="486.7" cy="314.3" r="1.28" fill="#00007f"/><circle cx="564.3" cy="314.8" r="1.28" fill="#00007f"/><circle cx="557.2" cy="314.6" r="1.28" fill="#00007f"/><circle cx="429.6" cy="315.2" r="1.28" fill="#00007f"/><circle cx="463.3" cy="314.5" r="1.28" fill="#00007f"/><circle cx="464.0" cy="315.0" r="1.28" fill="#00007f"/><circle cx="395.9" cy="314.9" r="1.28" fill="#00007f"/><circle cx="477.9" cy="314.9" r="1.28" fill="#00007f"/><circle cx="417.5" cy="315.1" r="1.28" fill="#00007f"/><circle cx="546.9" cy="315.3" r="1.28" fill="#00007f"/><circle cx="454.7" cy="315.1" r="1.28" fill="#00007f"/><circle cx="465.9" cy="315.1" r="1.28" fill="#00007f"/><circle cx="406.4" cy="315.3" r="1.28" fill="#00007f"/><circle cx="572.5" cy="314.8" r="1.28" fill="#00007f"/><circle cx="490.5" cy="314.9" r="1.28" fill="#00007f"/><circle cx="494.9" cy="314.3" r="1.28" fill="#00007f"/><circle cx="574.9" cy="314.5" r="1.28" fill="#00007f"/><circle cx="428.9" cy="314.4" r="1.28" fill="#00007f"/><circle cx="441.6" cy="315.2" r="1.28" fill="#00007f"/><circle cx="400.6" cy="314.4" r="1.28" fill="#00007f"/><circle cx="525.0" cy="314.5" r="1.28" fill="#00007f"/><circle cx="398.3" cy="315.0" r="1.28" fill="#00007f"/><circle cx="502.2" cy="314.9" r="1.28" fill="#00007f"/><circle cx="525.7" cy="314.4" r="1.28" fill="#00007f"/><circle cx="556.7" cy="315.1" r="1.28" fill="#00007f"/><circle cx="403.4" cy="314.4" r="1.28" fill="#00007f"/><circle cx="486.8" cy="314.9" r="1.28" fill="#00007f"/><circle cx="447.0" cy="314.4" r="1.28" fill="#00007f"/><circle cx="470.5" cy="314.5" r="1.28" fill="#00007f"/><circle cx="505.1" cy="315.2" r="1.28" fill="#00007f"/><circle cx="422.4" cy="314.9" r="1.28" fill="#00007f"/><circle cx="533.9" cy="314.5" r="1.28" fill="#00007f"/><circle cx="548.6" cy="315.3" r="1.28" fill="#00007f"/><circle cx="467.3" cy="314.8" r="1.28" fill="#00007f"/><circle cx="551.2" cy="314.9" r="1.28" fill="#00007f"/><circle cx="468.6" cy="315.3" r="1.28" fill="#00007f"/><circle cx="539.5" cy="314.7" r="1.28" fill="#00007f"/><circle cx="439.7" cy="314.7" r="1.28" fill="#00007f"/><circle cx="476.0" cy="315.4" r="1.28" fill="#00007f"/><circle cx="544.6" cy="315.3" r="1.28" fill="#00007f"/><circle cx="546.6" cy="315.2" r="1.28" fill="#00007f"/><circle cx="405.0" cy="314.9" r="1.28" fill="#00007f"/><circle cx="573.2" cy="315.3" r="1.28" fill="#00007f"/><circle cx="441.4" cy="314.8" r="1.28" fill="#00007f"/><circle cx="512.7" cy="314.7" r="1.28" fill="#00007f"/><circle cx="493.7" cy="314.4" r="1.28" fill="#00007f"/><circle cx="475.5" cy="314.9" r="1.28" fill="#00007f"/><circle cx="398.9" cy="314.5" r="1.28" fill="#00007f"/><circle cx="575.4" cy="315.2" r="1.28" fill="#00007f"/><circle cx="569.3" cy="315.0" r="1.28" fill="#00007f"/><circle cx="545.5" cy="315.3" r="1.28" fill="#00007f"/><circle cx="559.5" cy="314.3" r="1.28" fill="#00007f"/><circle cx="514.3" cy="314.6" r="1.28" fill="#00007f"/><circle cx="521.2" cy="314.6" r="1.28" fill="#00007f"/><circle cx="495.9" cy="315.3" r="1.28" fill="#00007f"/><circle cx="510.6" cy="314.6" r="1.28" fill="#00007f"/><circle cx="491.8" cy="314.8" r="1.28" fill="#00007f"/><circle cx="571.9" cy="314.6" r="1.28" fill="#00007f"/><circle cx="451.8" cy="315.0" r="1.28" fill="#00007f"/><circle cx="417.4" cy="315.0" r="1.28" fill="#00007f"/><circle cx="572.8" cy="314.9" r="1.28" fill="#00007f"/><circle cx="444.9" cy="314.8" r="1.28" fill="#00007f"/><circle cx="494.3" cy="314.5" r="1.28" fill="#00007f"/><circle cx="418.0" cy="314.4" r="1.28" fill="#00007f"/><circle cx="449.6" cy="314.7" r="1.28" fill="#00007f"/><circle cx="448.6" cy="314.6" r="1.28" fill="#00007f"/><circle cx="411.3" cy="314.9" r="1.28" fill="#00007f"/><circle cx="551.2" cy="315.0" r="1.28" fill="#00007f"/><circle cx="501.1" cy="315.0" r="1.28" fill="#00007f"/><circle cx="432.4" cy="315.1" r="1.28" fill="#00007f"/><circle cx="480.7" cy="314.9" r="1.28" fill="#00007f"/><circle cx="509.0" cy="314.8" r="1.28" fill="#00007f"/><circle cx="452.8" cy="314.6" r="1.28" fill="#00007f"/><circle cx="436.2" cy="314.9" r="1.28" fill="#00007f"/><circle cx="466.3" cy="314.9" r="1.28" fill="#00007f"/><circle cx="397.2" cy="314.7" r="1.28" fill="#00007f"/><circle cx="555.3" cy="314.6" r="1.28" fill="#00007f"/><circle cx="498.5" cy="314.8" r="1.28" fill="#00007f"/><circle cx="448.0" cy="315.4" r="1.28" fill="#00007f"/><circle cx="450.0" cy="315.1" r="1.28" fill="#00007f"/><circle cx="424.5" cy="314.4" r="1.28" fill="#00007f"/><circle cx="557.1" cy="314.8" r="1.28" fill="#00007f"/><circle cx="406.5" cy="314.7" r="1.28" fill="#00007f"/><circle cx="476.8" cy="315.1" r="1.28" fill="#00007f"/><circle cx="415.3" cy="314.5" r="1.28" fill="#00007f"/><circle cx="573.4" cy="315.1" r="1.28" fill="#00007f"/><circle cx="423.7" cy="314.7" r="1.28" fill="#00007f"/><circle cx="460.6" cy="315.0" r="1.28" fill="#00007f"/><circle cx="509.6" cy="315.2" r="1.28" fill="#00007f"/><circle cx="547.7" cy="314.9" r="1.28" fill="#00007f"/><circle cx="532.4" cy="315.1" r="1.28" fill="#00007f"/><circle cx="536.3" cy="314.8" r="1.28" fill="#00007f"/><circle cx="541.0" cy="315.1" r="1.28" fill="#00007f"/><circle cx="565.1" cy="314.4" r="1.28" fill="#00007f"/><circle cx="557.0" cy="314.3" r="1.28" fill="#00007f"/><circle cx="537.4" cy="314.9" r="1.28" fill="#00007f"/><circle cx="487.6" cy="315.4" r="1.28" fill="#00007f"/><circle cx="501.4" cy="314.8" r="1.28" fill="#00007f"/><circle cx="540.8" cy="315.3" r="1.28" fill="#00007f"/><circle cx="508.0" cy="314.7" r="1.28" fill="#00007f"/><circle cx="479.1" cy="314.8" r="1.28" fill="#00007f"/><circle cx="529.5" cy="314.6" r="1.28" fill="#00007f"/><circle cx="467.7" cy="314.9" r="1.28" fill="#00007f"/><circle cx="466.5" cy="314.7" r="1.28" fill="#00007f"/><circle cx="541.4" cy="315.2" r="1.28" fill="#00007f"/><circle cx="487.9" cy="314.8" r="1.28" fill="#00007f"/><circle cx="429.3" cy="314.6" r="1.28" fill="#00007f"/><circle cx="351.0" cy="314.0" r="1.28" fill="#00007f"/><circle cx="351.0" cy="307.5" r="1.28" fill="#00007f"/><circle cx="62.4" cy="313.4" r="1.28" fill="#00007f"/><circle cx="81.6" cy="312.7" r="1.28" fill="#00007f"/><circle cx="96.5" cy="313.1" r="1.28" fill="#00007f"/><circle cx="93.1" cy="313.8" r="1.28" fill="#00007f"/><circle cx="98.2" cy="312.9" r="1.28" fill="#00007f"/><circle cx="74.8" cy="313.9" r="1.28" fill="#00007f"/><circle cx="56.5" cy="312.7" r="1.28" fill="#00007f"/><circle cx="80.9" cy="313.3" r="1.28" fill="#00007f"/><circle cx="96.5" cy="313.7" r="1.28" fill="#00007f"/><circle cx="79.7" cy="314.0" r="1.28" fill="#00007f"/><circle cx="78.8" cy="313.3" r="1.28" fill="#00007f"/><circle cx="86.2" cy="313.1" r="1.28" fill="#00007f"/><circle cx="71.7" cy="313.4" r="1.28" fill="#00007f"/><circle cx="130.5" cy="313.9" r="1.28" fill="#00007f"/><circle cx="158.9" cy="313.0" r="1.28" fill="#00007f"/><circle cx="108.6" cy="312.7" r="1.28" fill="#00007f"/><circle cx="134.9" cy="313.1" r="1.28" fill="#00007f"/><circle cx="149.9" cy="313.7" r="1.28" fill="#00007f"/><circle cx="183.9" cy="312.9" r="1.28" fill="#00007f"/><circle cx="138.3" cy="313.2" r="1.28" fill="#00007f"/><circle cx="186.7" cy="312.6" r="1.28" fill="#00007f"/><circle cx="146.1" cy="313.6" r="1.28" fill="#00007f"/><circle cx="114.9" cy="312.6" r="1.28" fill="#00007f"/><circle cx="185.1" cy="313.6" r="1.28" fill="#00007f"/><circle cx="144.6" cy="312.1" r="1.28" fill="#00007f"/><circle cx="177.8" cy="313.3" r="1.28" fill="#00007f"/><circle cx="171.4" cy="314.0" r="1.28" fill="#00007f"/><circle cx="177.3" cy="312.8" r="1.28" fill="#00007f"/><circle cx="113.6" cy="312.5" r="1.28" fill="#00007f"/><circle cx="144.5" cy="313.0" r="1.28" fill="#00007f"/><circle cx="116.4" cy="312.3" r="1.28" fill="#00007f"/><circle cx="154.8" cy="313.2" r="1.28" fill="#00007f"/><circle cx="130.7" cy="314.0" r="1.28" fill="#00007f"/><circle cx="155.4" cy="312.0" r="1.28" fill="#00007f"/><circle cx="135.8" cy="313.6" r="1.28" fill="#00007f"/><circle cx="126.7" cy="313.4" r="1.28" fill="#00007f"/><circle cx="100.3" cy="312.5" r="1.28" fill="#00007f"/><circle cx="173.3" cy="313.1" r="1.28" fill="#00007f"/><circle cx="158.1" cy="312.3" r="1.28" fill="#00007f"/><circle cx="143.3" cy="313.1" r="1.28" fill="#00007f"/><circle cx="123.1" cy="313.3" r="1.28" fill="#00007f"/><circle cx="146.2" cy="314.0" r="1.28" fill="#00007f"/><circle cx="150.0" cy="312.8" r="1.28" fill="#00007f"/><circle cx="110.6" cy="312.2" r="1.28" fill="#00007f"/><circle cx="166.1" cy="312.1" r="1.28" fill="#00007f"/><circle cx="108.7" cy="312.3" r="1.28" fill="#00007f"/><circle cx="145.5" cy="313.6" r="1.28" fill="#00007f"/><circle cx="153.3" cy="313.6" r="1.28" fill="#00007f"/><circle cx="105.4" cy="311.9" r="1.28" fill="#00007f"/><circle cx="167.0" cy="312.6" r="1.28" fill="#00007f"/><circle cx="162.2" cy="312.6" r="1.28" fill="#00007f"/><circle cx="114.7" cy="312.5" r="1.28" fill="#00007f"/><circle cx="108.7" cy="313.8" r="1.28" fill="#00007f"/><circle cx="150.7" cy="312.6" r="1.28" fill="#00007f"/><circle cx="139.1" cy="312.7" r="1.28" fill="#00007f"/><circle cx="104.8" cy="313.8" r="1.28" fill="#00007f"/><circle cx="150.7" cy="313.9" r="1.28" fill="#00007f"/><circle cx="138.2" cy="313.2" r="1.28" fill="#00007f"/><circle cx="121.7" cy="312.0" r="1.28" fill="#00007f"/><circle cx="181.0" cy="313.7" r="1.28" fill="#00007f"/><circle cx="127.4" cy="313.8" r="1.28" fill="#00007f"/><circle cx="171.0" cy="312.5" r="1.28" fill="#00007f"/><circle cx="152.4" cy="313.9" r="1.28" fill="#00007f"/><circle cx="143.1" cy="313.9" r="1.28" fill="#00007f"/><circle cx="121.1" cy="312.7" r="1.28" fill="#00007f"/><circle cx="162.5" cy="312.4" r="1.28" fill="#00007f"/><circle cx="126.9" cy="313.7" r="1.28" fill="#00007f"/><circle cx="142.1" cy="313.6" r="1.28" fill="#00007f"/><circle cx="121.2" cy="312.3" r="1.28" fill="#00007f"/><circle cx="131.2" cy="312.3" r="1.28" fill="#00007f"/><circle cx="184.5" cy="312.5" r="1.28" fill="#00007f"/><circle cx="148.9" cy="312.1" r="1.28" fill="#00007f"/><circle cx="146.4" cy="312.7" r="1.28" fill="#00007f"/><circle cx="135.1" cy="312.0" r="1.28" fill="#00007f"/><circle cx="110.7" cy="313.6" r="1.28" fill="#00007f"/><circle cx="130.6" cy="312.4" r="1.28" fill="#00007f"/><circle cx="116.6" cy="312.5" r="1.28" fill="#00007f"/><circle cx="120.6" cy="312.0" r="1.28" fill="#00007f"/><circle cx="157.8" cy="312.6" r="1.28" fill="#00007f"/><circle cx="113.6" cy="313.4" r="1.28" fill="#00007f"/><circle cx="108.1" cy="312.5" r="1.28" fill="#00007f"/><circle cx="172.6" cy="312.2" r="1.28" fill="#00007f"/><circle cx="138.6" cy="313.7" r="1.28" fill="#00007f"/><circle cx="170.0" cy="312.2" r="1.28" fill="#00007f"/><circle cx="130.7" cy="313.4" r="1.28" fill="#00007f"/><circle cx="132.8" cy="313.9" r="1.28" fill="#00007f"/><circle cx="118.1" cy="313.9" r="1.28" fill="#00007f"/><circle cx="143.9" cy="312.4" r="1.28" fill="#00007f"/><circle cx="139.4" cy="312.2" r="1.28" fill="#00007f"/><circle cx="161.5" cy="312.4" r="1.28" fill="#00007f"/><circle cx="178.3" cy="313.1" r="1.28" fill="#00007f"/><circle cx="132.0" cy="312.4" r="1.28" fill="#00007f"/><circle cx="152.9" cy="312.3" r="1.28" fill="#00007f"/><circle cx="175.9" cy="312.2" r="1.28" fill="#00007f"/><circle cx="144.6" cy="313.0" r="1.28" fill="#00007f"/><circle cx="123.5" cy="313.5" r="1.28" fill="#00007f"/><circle cx="133.5" cy="313.3" r="1.28" fill="#00007f"/><circle cx="149.4" cy="312.6" r="1.28" fill="#00007f"/><circle cx="133.9" cy="312.1" r="1.28" fill="#00007f"/><circle cx="115.4" cy="313.7" r="1.28" fill="#00007f"/><circle cx="127.9" cy="313.3" r="1.28" fill="#00007f"/><circle cx="109.5" cy="313.1" r="1.28" fill="#00007f"/><circle cx="131.4" cy="313.0" r="1.28" fill="#00007f"/><circle cx="125.8" cy="312.0" r="1.28" fill="#00007f"/><circle cx="127.1" cy="312.4" r="1.28" fill="#00007f"/><circle cx="111.0" cy="313.4" r="1.28" fill="#00007f"/><circle cx="124.6" cy="312.7" r="1.28" fill="#00007f"/><circle cx="179.1" cy="313.5" r="1.28" fill="#00007f"/><circle cx="176.8" cy="313.7" r="1.28" fill="#00007f"/><circle cx="111.5" cy="312.5" r="1.28" fill="#00007f"/><circle cx="102.6" cy="313.3" r="1.28" fill="#00007f"/><circle cx="157.7" cy="312.6" r="1.28" fill="#00007f"/><circle cx="135.9" cy="313.3" r="1.28" fill="#00007f"/><circle cx="160.8" cy="312.4" r="1.28" fill="#00007f"/><circle cx="173.7" cy="312.6" r="1.28" fill="#00007f"/><circle cx="154.7" cy="312.3" r="1.28" fill="#00007f"/><circle cx="110.0" cy="313.8" r="1.28" fill="#00007f"/><circle cx="163.9" cy="313.4" r="1.28" fill="#00007f"/><circle cx="103.5" cy="312.0" r="1.28" fill="#00007f"/><circle cx="114.1" cy="312.3" r="1.28" fill="#00007f"/><circle cx="126.4" cy="312.7" r="1.28" fill="#00007f"/><circle cx="103.4" cy="312.6" r="1.28" fill="#00007f"/><circle cx="155.5" cy="312.3" r="1.28" fill="#00007f"/><circle cx="173.0" cy="313.1" r="1.28" fill="#00007f"/><circle cx="162.3" cy="312.4" r="1.28" fill="#00007f"/><circle cx="137.8" cy="313.3" r="1.28" fill="#00007f"/><circle cx="130.4" cy="309.8" r="1.28" fill="#00007f"/><circle cx="172.6" cy="311.4" r="1.28" fill="#00007f"/><circle cx="124.9" cy="309.9" r="1.28" fill="#00007f"/><circle cx="174.3" cy="311.1" r="1.28" fill="#00007f"/><circle cx="104.1" cy="310.3" r="1.28" fill="#00007f"/><circle cx="109.7" cy="311.5" r="1.28" fill="#00007f"/><circle cx="118.3" cy="311.7" r="1.28" fill="#00007f"/><circle cx="165.2" cy="310.0" r="1.28" fill="#00007f"/><circle cx="160.4" cy="310.6" r="1.28" fill="#00007f"/><circle cx="165.0" cy="311.5" r="1.28" fill="#00007f"/><circle cx="124.5" cy="310.0" r="1.28" fill="#00007f"/><circle cx="182.3" cy="310.7" r="1.28" fill="#00007f"/><circle cx="180.9" cy="311.3" r="1.28" fill="#00007f"/><circle cx="164.3" cy="311.5" r="1.28" fill="#00007f"/><circle cx="154.6" cy="310.8" r="1.28" fill="#00007f"/><circle cx="104.7" cy="311.3" r="1.28" fill="#00007f"/><circle cx="137.3" cy="310.9" r="1.28" fill="#00007f"/><circle cx="180.7" cy="310.1" r="1.28" fill="#00007f"/><circle cx="166.3" cy="309.9" r="1.28" fill="#00007f"/><circle cx="161.1" cy="311.5" r="1.28" fill="#00007f"/><circle cx="122.7" cy="310.9" r="1.28" fill="#00007f"/><circle cx="184.3" cy="311.1" r="1.28" fill="#00007f"/><circle cx="147.3" cy="310.3" r="1.28" fill="#00007f"/><circle cx="105.2" cy="310.6" r="1.28" fill="#00007f"/><circle cx="135.8" cy="310.2" r="1.28" fill="#00007f"/><circle cx="127.0" cy="310.1" r="1.28" fill="#00007f"/><circle cx="161.5" cy="311.2" r="1.28" fill="#00007f"/><circle cx="120.7" cy="310.3" r="1.28" fill="#00007f"/><circle cx="144.8" cy="310.7" r="1.28" fill="#00007f"/><circle cx="181.4" cy="310.5" r="1.28" fill="#00007f"/><circle cx="202.5" cy="309.6" r="1.28" fill="#00007f"/><circle cx="193.3" cy="309.2" r="1.28" fill="#00007f"/><circle cx="204.5" cy="309.5" r="1.28" fill="#00007f"/><circle cx="217.1" cy="309.4" r="1.28" fill="#00007f"/><circle cx="194.9" cy="309.3" r="1.28" fill="#00007f"/><circle cx="220.0" cy="309.1" r="1.28" fill="#00007f"/><circle cx="229.8" cy="309.5" r="1.28" fill="#00007f"/><circle cx="191.7" cy="308.8" r="1.28" fill="#00007f"/><circle cx="206.1" cy="308.7" r="1.28" fill="#00007f"/><circle cx="188.5" cy="308.8" r="1.28" fill="#00007f"/><circle cx="196.5" cy="309.3" r="1.28" fill="#00007f"/><circle cx="211.2" cy="308.6" r="1.28" fill="#00007f"/><circle cx="204.0" cy="309.1" r="1.28" fill="#00007f"/><circle cx="206.2" cy="308.7" r="1.28" fill="#00007f"/><circle cx="189.2" cy="308.5" r="1.28" fill="#00007f"/><circle cx="243.0" cy="309.4" r="1.28" fill="#00007f"/><circle cx="189.9" cy="309.4" r="1.28" fill="#00007f"/><circle cx="242.3" cy="309.2" r="1.28" fill="#00007f"/><circle cx="191.4" cy="309.1" r="1.28" fill="#00007f"/><circle cx="210.4" cy="308.7" r="1.28" fill="#00007f"/><circle cx="216.8" cy="308.5" r="1.28" fill="#00007f"/><circle cx="238.8" cy="309.3" r="1.28" fill="#00007f"/><circle cx="221.7" cy="309.6" r="1.28" fill="#00007f"/><circle cx="223.2" cy="308.8" r="1.28" fill="#00007f"/><circle cx="199.4" cy="308.7" r="1.28" fill="#00007f"/><circle cx="186.6" cy="309.4" r="1.28" fill="#00007f"/><circle cx="234.1" cy="308.9" r="1.28" fill="#00007f"/><circle cx="195.9" cy="309.3" r="1.28" fill="#00007f"/><circle cx="234.5" cy="309.6" r="1.28" fill="#00007f"/><circle cx="194.9" cy="309.4" r="1.28" fill="#00007f"/><circle cx="233.6" cy="309.4" r="1.28" fill="#00007f"/><circle cx="204.1" cy="308.7" r="1.28" fill="#00007f"/><circle cx="233.3" cy="308.9" r="1.28" fill="#00007f"/><circle cx="206.6" cy="309.2" r="1.28" fill="#00007f"/><circle cx="206.6" cy="309.5" r="1.28" fill="#00007f"/><circle cx="199.0" cy="308.5" r="1.28" fill="#00007f"/><circle cx="218.2" cy="309.3" r="1.28" fill="#00007f"/><circle cx="233.0" cy="309.3" r="1.28" fill="#00007f"/><circle cx="238.0" cy="309.6" r="1.28" fill="#00007f"/><circle cx="213.9" cy="309.1" r="1.28" fill="#00007f"/><circle cx="194.2" cy="308.9" r="1.28" fill="#00007f"/><circle cx="219.0" cy="308.6" r="1.28" fill="#00007f"/><circle cx="225.2" cy="308.7" r="1.28" fill="#00007f"/><circle cx="210.9" cy="309.7" r="1.28" fill="#00007f"/><circle cx="190.2" cy="308.5" r="1.28" fill="#00007f"/><circle cx="210.7" cy="308.7" r="1.28" fill="#00007f"/><circle cx="227.3" cy="308.5" r="1.28" fill="#00007f"/><circle cx="234.2" cy="309.5" r="1.28" fill="#00007f"/><circle cx="231.0" cy="309.0" r="1.28" fill="#00007f"/><circle cx="201.6" cy="309.3" r="1.28" fill="#00007f"/><circle cx="215.1" cy="309.0" r="1.28" fill="#00007f"/><circle cx="204.8" cy="309.0" r="1.28" fill="#00007f"/><circle cx="224.0" cy="309.5" r="1.28" fill="#00007f"/><circle cx="237.9" cy="308.7" r="1.28" fill="#00007f"/><circle cx="202.3" cy="309.0" r="1.28" fill="#00007f"/><circle cx="218.0" cy="308.9" r="1.28" fill="#00007f"/><circle cx="196.4" cy="308.6" r="1.28" fill="#00007f"/><circle cx="203.9" cy="309.1" r="1.28" fill="#00007f"/><circle cx="241.8" cy="309.6" r="1.28" fill="#00007f"/><circle cx="235.6" cy="309.7" r="1.28" fill="#00007f"/><circle cx="241.3" cy="309.2" r="1.28" fill="#00007f"/><circle cx="232.5" cy="308.6" r="1.28" fill="#00007f"/><circle cx="224.6" cy="309.2" r="1.28" fill="#00007f"/><circle cx="202.4" cy="309.2" r="1.28" fill="#00007f"/><circle cx="240.7" cy="309.1" r="1.28" fill="#00007f"/><circle cx="222.9" cy="308.9" r="1.28" fill="#00007f"/><circle cx="205.1" cy="309.6" r="1.28" fill="#00007f"/><circle cx="186.6" cy="308.7" r="1.28" fill="#00007f"/><circle cx="224.7" cy="309.0" r="1.28" fill="#00007f"/><circle cx="190.0" cy="309.3" r="1.28" fill="#00007f"/><circle cx="206.8" cy="309.2" r="1.28" fill="#00007f"/><circle cx="209.4" cy="309.1" r="1.28" fill="#00007f"/><circle cx="218.0" cy="309.0" r="1.28" fill="#00007f"/><circle cx="191.7" cy="308.7" r="1.28" fill="#00007f"/><circle cx="237.1" cy="309.2" r="1.28" fill="#00007f"/><circle cx="191.6" cy="309.5" r="1.28" fill="#00007f"/><circle cx="199.8" cy="308.6" r="1.28" fill="#00007f"/><circle cx="216.1" cy="308.8" r="1.28" fill="#00007f"/><circle cx="213.6" cy="309.2" r="1.28" fill="#00007f"/><circle cx="198.3" cy="309.2" r="1.28" fill="#00007f"/><circle cx="191.6" cy="309.1" r="1.28" fill="#00007f"/><circle cx="219.4" cy="308.6" r="1.28" fill="#00007f"/><circle cx="208.9" cy="308.6" r="1.28" fill="#00007f"/><circle cx="210.7" cy="309.5" r="1.28" fill="#00007f"/><circle cx="217.2" cy="309.4" r="1.28" fill="#00007f"/><circle cx="229.3" cy="308.6" r="1.28" fill="#00007f"/><circle cx="243.0" cy="309.4" r="1.28" fill="#00007f"/><circle cx="191.0" cy="309.5" r="1.28" fill="#00007f"/><circle cx="207.9" cy="308.7" r="1.28" fill="#00007f"/><circle cx="241.2" cy="309.2" r="1.28" fill="#00007f"/><circle cx="230.3" cy="308.7" r="1.28" fill="#00007f"/><circle cx="230.4" cy="308.6" r="1.28" fill="#00007f"/><circle cx="198.9" cy="308.9" r="1.28" fill="#00007f"/><circle cx="185.9" cy="309.2" r="1.28" fill="#00007f"/><circle cx="197.5" cy="308.9" r="1.28" fill="#00007f"/><circle cx="226.4" cy="309.0" r="1.28" fill="#00007f"/><circle cx="237.0" cy="309.2" r="1.28" fill="#00007f"/><circle cx="236.0" cy="309.2" r="1.28" fill="#00007f"/><circle cx="238.7" cy="309.5" r="1.28" fill="#00007f"/><circle cx="194.8" cy="309.4" r="1.28" fill="#00007f"/><circle cx="205.0" cy="309.4" r="1.28" fill="#00007f"/><circle cx="224.8" cy="309.5" r="1.28" fill="#00007f"/><circle cx="192.2" cy="308.9" r="1.28" fill="#00007f"/><circle cx="228.1" cy="309.6" r="1.28" fill="#00007f"/><circle cx="227.2" cy="308.6" r="1.28" fill="#00007f"/><circle cx="220.3" cy="308.6" r="1.28" fill="#00007f"/><circle cx="217.1" cy="309.5" r="1.28" fill="#00007f"/><circle cx="191.6" cy="309.6" r="1.28" fill="#00007f"/><circle cx="224.5" cy="308.8" r="1.28" fill="#00007f"/><circle cx="196.3" cy="309.0" r="1.28" fill="#00007f"/><circle cx="234.0" cy="309.2" r="1.28" fill="#00007f"/><circle cx="191.6" cy="308.5" r="1.28" fill="#00007f"/><circle cx="191.5" cy="309.5" r="1.28" fill="#00007f"/><circle cx="195.8" cy="309.2" r="1.28" fill="#00007f"/><circle cx="202.0" cy="309.3" r="1.28" fill="#00007f"/><circle cx="207.3" cy="308.7" r="1.28" fill="#00007f"/><circle cx="236.2" cy="309.1" r="1.28" fill="#00007f"/><circle cx="225.6" cy="308.2" r="1.28" fill="#00007f"/><circle cx="240.1" cy="307.6" r="1.28" fill="#00007f"/><circle cx="206.2" cy="307.7" r="1.28" fill="#00007f"/><circle cx="215.1" cy="308.3" r="1.28" fill="#00007f"/><circle cx="231.8" cy="307.6" r="1.28" fill="#00007f"/><circle cx="197.2" cy="308.3" r="1.28" fill="#00007f"/><circle cx="225.1" cy="307.9" r="1.28" fill="#00007f"/><circle cx="213.6" cy="307.7" r="1.28" fill="#00007f"/><circle cx="234.3" cy="307.9" r="1.28" fill="#00007f"/><circle cx="235.9" cy="308.1" r="1.28" fill="#00007f"/><circle cx="191.2" cy="307.9" r="1.28" fill="#00007f"/><circle cx="199.5" cy="312.3" r="1.28" fill="#00007f"/><circle cx="221.2" cy="310.6" r="1.28" fill="#00007f"/><circle cx="196.8" cy="311.2" r="1.28" fill="#00007f"/><circle cx="214.1" cy="311.7" r="1.28" fill="#00007f"/><circle cx="209.5" cy="311.2" r="1.28" fill="#00007f"/><circle cx="245.3" cy="312.8" r="1.28" fill="#00007f"/><circle cx="263.4" cy="311.6" r="1.28" fill="#00007f"/><circle cx="270.3" cy="313.6" r="1.28" fill="#00007f"/><circle cx="247.5" cy="311.9" r="1.28" fill="#00007f"/><circle cx="281.9" cy="312.1" r="1.28" fill="#00007f"/><circle cx="260.0" cy="312.6" r="1.28" fill="#00007f"/><circle cx="259.4" cy="312.7" r="1.28" fill="#00007f"/><circle cx="274.0" cy="313.5" r="1.28" fill="#00007f"/><circle cx="299.6" cy="311.7" r="1.28" fill="#00007f"/><circle cx="275.8" cy="313.1" r="1.28" fill="#00007f"/><circle cx="293.0" cy="313.1" r="1.28" fill="#00007f"/><circle cx="279.8" cy="312.9" r="1.28" fill="#00007f"/><circle cx="265.0" cy="312.2" r="1.28" fill="#00007f"/><circle cx="288.7" cy="313.3" r="1.28" fill="#00007f"/><circle cx="296.6" cy="313.0" r="1.28" fill="#00007f"/><circle cx="261.7" cy="313.1" r="1.28" fill="#00007f"/><circle cx="285.7" cy="312.6" r="1.28" fill="#00007f"/><circle cx="279.9" cy="312.3" r="1.28" fill="#00007f"/><circle cx="275.3" cy="312.4" r="1.28" fill="#00007f"/><circle cx="248.3" cy="312.3" r="1.28" fill="#00007f"/><circle cx="262.8" cy="313.6" r="1.28" fill="#00007f"/><circle cx="271.5" cy="312.3" r="1.28" fill="#00007f"/><circle cx="258.4" cy="312.1" r="1.28" fill="#00007f"/><circle cx="264.2" cy="311.9" r="1.28" fill="#00007f"/><circle cx="245.4" cy="313.3" r="1.28" fill="#00007f"/><circle cx="269.9" cy="312.5" r="1.28" fill="#00007f"/><circle cx="276.3" cy="312.2" r="1.28" fill="#00007f"/><circle cx="254.3" cy="311.7" r="1.28" fill="#00007f"/><circle cx="261.6" cy="312.2" r="1.28" fill="#00007f"/><circle cx="285.0" cy="312.7" r="1.28" fill="#00007f"/><circle cx="296.6" cy="312.3" r="1.28" fill="#00007f"/><circle cx="295.7" cy="312.8" r="1.28" fill="#00007f"/><circle cx="249.4" cy="312.0" r="1.28" fill="#00007f"/><circle cx="276.9" cy="313.6" r="1.28" fill="#00007f"/><circle cx="264.6" cy="313.1" r="1.28" fill="#00007f"/><circle cx="268.6" cy="313.3" r="1.28" fill="#00007f"/><circle cx="248.7" cy="312.6" r="1.28" fill="#00007f"/><circle cx="294.5" cy="312.2" r="1.28" fill="#00007f"/><circle cx="259.2" cy="311.6" r="1.28" fill="#00007f"/><circle cx="254.1" cy="312.1" r="1.28" fill="#00007f"/><circle cx="283.7" cy="312.0" r="1.28" fill="#00007f"/><circle cx="267.0" cy="312.0" r="1.28" fill="#00007f"/><circle cx="278.2" cy="313.3" r="1.28" fill="#00007f"/><circle cx="280.6" cy="312.0" r="1.28" fill="#00007f"/><circle cx="285.4" cy="313.5" r="1.28" fill="#00007f"/><circle cx="278.1" cy="311.8" r="1.28" fill="#00007f"/><circle cx="289.5" cy="313.4" r="1.28" fill="#00007f"/><circle cx="263.8" cy="311.9" r="1.28" fill="#00007f"/><circle cx="255.3" cy="312.7" r="1.28" fill="#00007f"/><circle cx="293.1" cy="310.4" r="1.28" fill="#00007f"/><circle cx="295.8" cy="308.9" r="1.28" fill="#00007f"/><circle cx="263.0" cy="310.7" r="1.28" fill="#00007f"/><circle cx="280.7" cy="309.6" r="1.28" fill="#00007f"/><circle cx="282.3" cy="309.3" r="1.28" fill="#00007f"/><circle cx="248.2" cy="309.6" r="1.28" fill="#00007f"/><circle cx="247.5" cy="310.3" r="1.28" fill="#00007f"/><circle cx="263.4" cy="309.9" r="1.28" fill="#00007f"/><circle cx="277.9" cy="309.1" r="1.28" fill="#00007f"/><circle cx="270.5" cy="308.2" r="1.28" fill="#00007f"/><circle cx="295.9" cy="310.1" r="1.28" fill="#00007f"/><circle cx="299.3" cy="308.4" r="1.28" fill="#00007f"/><circle cx="278.8" cy="310.7" r="1.28" fill="#00007f"/><circle cx="263.1" cy="308.5" r="1.28" fill="#00007f"/><circle cx="253.6" cy="308.7" r="1.28" fill="#00007f"/><circle cx="287.2" cy="308.5" r="1.28" fill="#00007f"/><circle cx="289.8" cy="309.6" r="1.28" fill="#00007f"/><circle cx="274.6" cy="310.2" r="1.28" fill="#00007f"/><circle cx="275.5" cy="310.4" r="1.28" fill="#00007f"/><circle cx="278.1" cy="309.3" r="1.28" fill="#00007f"/><circle cx="285.8" cy="309.1" r="1.28" fill="#00007f"/><circle cx="284.1" cy="310.8" r="1.28" fill="#00007f"/><circle cx="338.8" cy="311.9" r="1.28" fill="#00007f"/><circle cx="338.6" cy="313.9" r="1.28" fill="#00007f"/><circle cx="322.7" cy="311.8" r="1.28" fill="#00007f"/><circle cx="326.2" cy="313.8" r="1.28" fill="#00007f"/><circle cx="306.6" cy="311.0" r="1.28" fill="#00007f"/><circle cx="323.8" cy="313.0" r="1.28" fill="#00007f"/><circle cx="338.7" cy="312.1" r="1.28" fill="#00007f"/><circle cx="349.5" cy="311.7" r="1.28" fill="#00007f"/><circle cx="337.8" cy="311.3" r="1.28" fill="#00007f"/><circle cx="301.4" cy="311.4" r="1.28" fill="#00007f"/><circle cx="397.2" cy="306.9" r="1.28" fill="#00007f"/><circle cx="415.5" cy="306.3" r="1.28" fill="#00007f"/><circle cx="429.8" cy="306.7" r="1.28" fill="#00007f"/><circle cx="400.5" cy="306.3" r="1.28" fill="#00007f"/><circle cx="422.3" cy="307.7" r="1.28" fill="#00007f"/><circle cx="401.0" cy="306.1" r="1.28" fill="#00007f"/><circle cx="423.8" cy="306.4" r="1.28" fill="#00007f"/><circle cx="431.3" cy="306.9" r="1.28" fill="#00007f"/><circle cx="418.5" cy="306.6" r="1.28" fill="#00007f"/><circle cx="424.6" cy="306.8" r="1.28" fill="#00007f"/><circle cx="407.0" cy="307.6" r="1.28" fill="#00007f"/><circle cx="399.0" cy="307.3" r="1.28" fill="#00007f"/><circle cx="397.4" cy="307.2" r="1.28" fill="#00007f"/><circle cx="409.9" cy="307.6" r="1.28" fill="#00007f"/><circle cx="397.2" cy="307.0" r="1.28" fill="#00007f"/><circle cx="410.2" cy="307.7" r="1.28" fill="#00007f"/><circle cx="430.0" cy="307.1" r="1.28" fill="#00007f"/><circle cx="403.3" cy="306.5" r="1.28" fill="#00007f"/><circle cx="404.7" cy="306.8" r="1.28" fill="#00007f"/><circle cx="403.6" cy="306.4" r="1.28" fill="#00007f"/><circle cx="423.1" cy="307.2" r="1.28" fill="#00007f"/><circle cx="406.0" cy="307.8" r="1.28" fill="#00007f"/><circle cx="403.0" cy="307.0" r="1.28" fill="#00007f"/><circle cx="400.8" cy="307.6" r="1.28" fill="#00007f"/><circle cx="427.2" cy="306.5" r="1.28" fill="#00007f"/><circle cx="422.8" cy="307.5" r="1.28" fill="#00007f"/><circle cx="405.5" cy="306.6" r="1.28" fill="#00007f"/><circle cx="413.0" cy="307.6" r="1.28" fill="#00007f"/><circle cx="401.0" cy="307.2" r="1.28" fill="#00007f"/><circle cx="417.1" cy="306.8" r="1.28" fill="#00007f"/><circle cx="416.4" cy="307.6" r="1.28" fill="#00007f"/><circle cx="402.8" cy="307.6" r="1.28" fill="#00007f"/><circle cx="408.3" cy="307.4" r="1.28" fill="#00007f"/><circle cx="426.9" cy="306.3" r="1.28" fill="#00007f"/><circle cx="427.0" cy="307.8" r="1.28" fill="#00007f"/><circle cx="406.0" cy="306.0" r="1.28" fill="#00007f"/><circle cx="399.1" cy="307.8" r="1.28" fill="#00007f"/><circle cx="395.3" cy="307.6" r="1.28" fill="#00007f"/><circle cx="400.6" cy="307.3" r="1.28" fill="#00007f"/><circle cx="398.6" cy="306.3" r="1.28" fill="#00007f"/><circle cx="420.3" cy="306.2" r="1.28" fill="#00007f"/><circle cx="407.6" cy="307.7" r="1.28" fill="#00007f"/><circle cx="421.5" cy="307.6" r="1.28" fill="#00007f"/><circle cx="431.2" cy="306.1" r="1.28" fill="#00007f"/><circle cx="403.7" cy="307.4" r="1.28" fill="#00007f"/><circle cx="420.5" cy="306.1" r="1.28" fill="#00007f"/><circle cx="413.7" cy="306.4" r="1.28" fill="#00007f"/><circle cx="410.9" cy="306.2" r="1.28" fill="#00007f"/><circle cx="395.7" cy="307.8" r="1.28" fill="#00007f"/><circle cx="406.7" cy="307.6" r="1.28" fill="#00007f"/><circle cx="399.5" cy="306.9" r="1.28" fill="#00007f"/><circle cx="400.0" cy="306.8" r="1.28" fill="#00007f"/><circle cx="401.6" cy="307.2" r="1.28" fill="#00007f"/><circle cx="400.5" cy="307.3" r="1.28" fill="#00007f"/><circle cx="413.5" cy="306.2" r="1.28" fill="#00007f"/><circle cx="437.0" cy="307.5" r="1.28" fill="#00007f"/><circle cx="444.9" cy="307.2" r="1.28" fill="#00007f"/><circle cx="435.0" cy="308.7" r="1.28" fill="#00007f"/><circle cx="444.4" cy="308.1" r="1.28" fill="#00007f"/><circle cx="435.8" cy="306.7" r="1.28" fill="#00007f"/><circle cx="435.7" cy="306.5" r="1.28" fill="#00007f"/><circle cx="432.6" cy="307.6" r="1.28" fill="#00007f"/><circle cx="437.7" cy="307.7" r="1.28" fill="#00007f"/><circle cx="437.1" cy="306.3" r="1.28" fill="#00007f"/><circle cx="441.6" cy="307.9" r="1.28" fill="#00007f"/><circle cx="439.6" cy="307.7" r="1.28" fill="#00007f"/><circle cx="441.7" cy="308.8" r="1.28" fill="#00007f"/><circle cx="444.2" cy="308.1" r="1.28" fill="#00007f"/><circle cx="437.6" cy="307.1" r="1.28" fill="#00007f"/><circle cx="437.9" cy="308.7" r="1.28" fill="#00007f"/><circle cx="437.4" cy="307.3" r="1.28" fill="#00007f"/><circle cx="437.7" cy="306.7" r="1.28" fill="#00007f"/><circle cx="446.0" cy="306.3" r="1.28" fill="#00007f"/><circle cx="440.5" cy="308.6" r="1.28" fill="#00007f"/><circle cx="456.2" cy="307.6" r="1.28" fill="#00007f"/><circle cx="461.1" cy="305.2" r="1.28" fill="#00007f"/><circle cx="453.9" cy="304.4" r="1.28" fill="#00007f"/><circle cx="479.7" cy="308.8" r="1.28" fill="#00007f"/><circle cx="482.3" cy="303.9" r="1.28" fill="#00007f"/><circle cx="473.8" cy="305.7" r="1.28" fill="#00007f"/><circle cx="471.8" cy="307.2" r="1.28" fill="#00007f"/><circle cx="458.6" cy="310.0" r="1.28" fill="#00007f"/><circle cx="446.0" cy="308.5" r="1.28" fill="#00007f"/><circle cx="480.1" cy="307.0" r="1.28" fill="#00007f"/><circle cx="469.7" cy="310.2" r="1.28" fill="#00007f"/><circle cx="455.4" cy="307.8" r="1.28" fill="#00007f"/><circle cx="475.7" cy="306.1" r="1.28" fill="#00007f"/><circle cx="474.5" cy="306.2" r="1.28" fill="#00007f"/><circle cx="467.1" cy="307.6" r="1.28" fill="#00007f"/><circle cx="473.1" cy="305.7" r="1.28" fill="#00007f"/><circle cx="471.2" cy="307.2" r="1.28" fill="#00007f"/><circle cx="454.9" cy="307.6" r="1.28" fill="#00007f"/><circle cx="456.6" cy="309.6" r="1.28" fill="#00007f"/><circle cx="464.9" cy="308.4" r="1.28" fill="#00007f"/><circle cx="466.9" cy="306.7" r="1.28" fill="#00007f"/><circle cx="454.8" cy="304.5" r="1.28" fill="#00007f"/><circle cx="483.1" cy="307.1" r="1.28" fill="#00007f"/><circle cx="467.0" cy="307.1" r="1.28" fill="#00007f"/><circle cx="478.5" cy="305.2" r="1.28" fill="#00007f"/><circle cx="452.9" cy="309.0" r="1.28" fill="#00007f"/><circle cx="464.4" cy="307.8" r="1.28" fill="#00007f"/><circle cx="479.1" cy="309.5" r="1.28" fill="#00007f"/><circle cx="480.7" cy="303.9" r="1.28" fill="#00007f"/><circle cx="461.3" cy="309.1" r="1.28" fill="#00007f"/><circle cx="478.7" cy="304.4" r="1.28" fill="#00007f"/><circle cx="452.2" cy="305.3" r="1.28" fill="#00007f"/><circle cx="450.1" cy="306.0" r="1.28" fill="#00007f"/><circle cx="478.1" cy="307.0" r="1.28" fill="#00007f"/><circle cx="464.1" cy="304.2" r="1.28" fill="#00007f"/><circle cx="461.8" cy="310.2" r="1.28" fill="#00007f"/><circle cx="473.8" cy="306.6" r="1.28" fill="#00007f"/><circle cx="465.1" cy="308.9" r="1.28" fill="#00007f"/><circle cx="476.4" cy="304.6" r="1.28" fill="#00007f"/><circle cx="473.2" cy="306.0" r="1.28" fill="#00007f"/><circle cx="515.4" cy="307.0" r="1.28" fill="#00007f"/><circle cx="512.4" cy="307.1" r="1.28" fill="#00007f"/><circle cx="512.6" cy="306.8" r="1.28" fill="#00007f"/><circle cx="509.0" cy="307.3" r="1.28" fill="#00007f"/><circle cx="506.2" cy="307.0" r="1.28" fill="#00007f"/><circle cx="519.4" cy="307.0" r="1.28" fill="#00007f"/><circle cx="511.5" cy="307.0" r="1.28" fill="#00007f"/><circle cx="521.7" cy="306.9" r="1.28" fill="#00007f"/><circle cx="517.7" cy="307.6" r="1.28" fill="#00007f"/><circle cx="509.0" cy="307.2" r="1.28" fill="#00007f"/><circle cx="520.8" cy="307.4" r="1.28" fill="#00007f"/><circle cx="512.4" cy="306.8" r="1.28" fill="#00007f"/><circle cx="513.9" cy="307.1" r="1.28" fill="#00007f"/><circle cx="519.3" cy="307.1" r="1.28" fill="#00007f"/><circle cx="513.2" cy="307.4" r="1.28" fill="#00007f"/><circle cx="521.2" cy="307.1" r="1.28" fill="#00007f"/><circle cx="531.2" cy="307.3" r="1.28" fill="#00007f"/><circle cx="539.8" cy="304.7" r="1.28" fill="#00007f"/><circle cx="540.5" cy="308.1" r="1.28" fill="#00007f"/><circle cx="531.0" cy="307.8" r="1.28" fill="#00007f"/><circle cx="530.3" cy="304.0" r="1.28" fill="#00007f"/><circle cx="537.1" cy="306.0" r="1.28" fill="#00007f"/><circle cx="533.4" cy="306.7" r="1.28" fill="#00007f"/><circle cx="539.4" cy="308.4" r="1.28" fill="#00007f"/><circle cx="525.4" cy="307.4" r="1.28" fill="#00007f"/><circle cx="532.4" cy="306.5" r="1.28" fill="#00007f"/><circle cx="538.4" cy="306.2" r="1.28" fill="#00007f"/><circle cx="532.6" cy="309.3" r="1.28" fill="#00007f"/><circle cx="532.0" cy="306.7" r="1.28" fill="#00007f"/><circle cx="533.2" cy="308.9" r="1.28" fill="#00007f"/><circle cx="535.7" cy="308.3" r="1.28" fill="#00007f"/><circle cx="531.4" cy="303.8" r="1.28" fill="#00007f"/><circle cx="535.9" cy="307.1" r="1.28" fill="#00007f"/><circle cx="537.3" cy="308.5" r="1.28" fill="#00007f"/><circle cx="526.9" cy="304.9" r="1.28" fill="#00007f"/><circle cx="526.2" cy="308.8" r="1.28" fill="#00007f"/><circle cx="526.6" cy="304.1" r="1.28" fill="#00007f"/><circle cx="537.1" cy="307.2" r="1.28" fill="#00007f"/><circle cx="525.9" cy="307.9" r="1.28" fill="#00007f"/><circle cx="536.4" cy="306.6" r="1.28" fill="#00007f"/><circle cx="525.9" cy="308.0" r="1.28" fill="#00007f"/><circle cx="531.7" cy="307.3" r="1.28" fill="#00007f"/><circle cx="541.0" cy="308.8" r="1.28" fill="#00007f"/><circle cx="539.0" cy="304.4" r="1.28" fill="#00007f"/><circle cx="530.3" cy="306.9" r="1.28" fill="#00007f"/><circle cx="525.1" cy="309.9" r="1.28" fill="#00007f"/><circle cx="529.4" cy="305.2" r="1.28" fill="#00007f"/><circle cx="530.0" cy="305.2" r="1.28" fill="#00007f"/><circle cx="547.0" cy="307.5" r="1.28" fill="#00007f"/><circle cx="544.6" cy="306.6" r="1.28" fill="#00007f"/><circle cx="541.4" cy="305.9" r="1.28" fill="#00007f"/><circle cx="547.1" cy="309.1" r="1.28" fill="#00007f"/><circle cx="547.0" cy="305.6" r="1.28" fill="#00007f"/><circle cx="542.4" cy="304.3" r="1.28" fill="#00007f"/><circle cx="544.8" cy="306.4" r="1.28" fill="#00007f"/><circle cx="546.0" cy="304.9" r="1.28" fill="#00007f"/><circle cx="550.3" cy="308.3" r="1.28" fill="#00007f"/><circle cx="553.1" cy="305.0" r="1.28" fill="#00007f"/><circle cx="555.0" cy="304.2" r="1.28" fill="#00007f"/><circle cx="556.5" cy="305.0" r="1.28" fill="#00007f"/><circle cx="558.0" cy="304.6" r="1.28" fill="#00007f"/><circle cx="560.0" cy="305.2" r="1.28" fill="#00007f"/><circle cx="561.5" cy="305.0" r="1.28" fill="#00007f"/><circle cx="558.0" cy="308.7" r="1.28" fill="#00007f"/><circle cx="556.2" cy="307.0" r="1.28" fill="#00007f"/><circle cx="563.7" cy="307.8" r="1.28" fill="#00007f"/><circle cx="565.5" cy="307.5" r="1.28" fill="#00007f"/><circle cx="563.8" cy="312.0" r="1.28" fill="#00007f"/><circle cx="568.2" cy="305.6" r="1.28" fill="#00007f"/><circle cx="570.7" cy="304.3" r="1.28" fill="#00007f"/><circle cx="572.8" cy="303.0" r="1.28" fill="#00007f"/><circle cx="574.6" cy="304.0" r="1.28" fill="#00007f"/><circle cx="576.8" cy="304.8" r="1.28" fill="#00007f"/><circle cx="579.4" cy="305.0" r="1.28" fill="#00007f"/><circle cx="580.3" cy="308.3" r="1.28" fill="#00007f"/><circle cx="580.3" cy="310.0" r="1.28" fill="#00007f"/><circle cx="572.0" cy="309.6" r="1.28" fill="#00007f"/><circle cx="570.2" cy="312.0" r="1.28" fill="#00007f"/><circle cx="567.8" cy="311.3" r="1.28" fill="#00007f"/><circle cx="571.5" cy="303.6" r="1.28" fill="#00007f"/><circle cx="573.8" cy="303.4" r="1.28" fill="#00007f"/><circle cx="578.0" cy="304.9" r="1.28" fill="#00007f"/><circle cx="580.5" cy="306.7" r="1.28" fill="#00007f"/><circle cx="569.5" cy="304.9" r="1.28" fill="#00007f"/><circle cx="567.0" cy="309.5" r="1.28" fill="#00007f"/><circle cx="471.6" cy="312.4" r="1.28" fill="#00007f"/><circle cx="491.3" cy="312.0" r="1.28" fill="#00007f"/><circle cx="527.2" cy="311.6" r="1.28" fill="#00007f"/><circle cx="546.7" cy="312.6" r="1.28" fill="#00007f"/><circle cx="403.4" cy="311.9" r="1.28" fill="#00007f"/><circle cx="483.0" cy="312.1" r="1.28" fill="#00007f"/><circle cx="488.2" cy="311.9" r="1.28" fill="#00007f"/><circle cx="440.1" cy="313.2" r="1.28" fill="#00007f"/><circle cx="443.1" cy="313.0" r="1.28" fill="#00007f"/><circle cx="527.4" cy="312.7" r="1.28" fill="#00007f"/><circle cx="470.0" cy="313.6" r="1.28" fill="#00007f"/><circle cx="134.4" cy="289.2" r="1.28" fill="#87cefa"/><circle cx="250.5" cy="285.4" r="1.28" fill="#87cefa"/><circle cx="292.4" cy="189.3" r="1.28" fill="#ff0000"/><circle cx="291.2" cy="192.7" r="1.28" fill="#ff0000"/><circle cx="295.9" cy="190.2" r="1.28" fill="#ff0000"/><circle cx="297.7" cy="190.7" r="1.28" fill="#ff0000"/><circle cx="299.6" cy="191.6" r="1.28" fill="#ff0000"/><circle cx="294.7" cy="209.0" r="1.28" fill="#ffa500"/><circle cx="296.3" cy="208.1" r="1.28" fill="#ffa500"/><circle cx="307.8" cy="184.9" r="1.28" fill="#ff0000"/><circle cx="310.1" cy="185.2" r="1.28" fill="#ff0000"/><circle cx="312.2" cy="185.0" r="1.28" fill="#ff0000"/><circle cx="314.9" cy="185.1" r="1.28" fill="#ff0000"/><circle cx="319.3" cy="184.5" r="1.28" fill="#ff0000"/><circle cx="323.4" cy="186.3" r="1.28" fill="#ff0000"/><circle cx="327.3" cy="185.2" r="1.28" fill="#ff0000"/><circle cx="335.2" cy="184.9" r="1.28" fill="#ff0000"/><circle cx="336.5" cy="185.5" r="1.28" fill="#ff0000"/><circle cx="345.3" cy="185.5" r="1.28" fill="#ff0000"/><circle cx="346.7" cy="183.8" r="1.28" fill="#ff0000"/><circle cx="353.1" cy="186.5" r="1.28" fill="#ff0000"/><circle cx="354.3" cy="185.0" r="1.28" fill="#ff0000"/><circle cx="354.7" cy="198.5" r="1.28" fill="#ff0000"/><circle cx="346.2" cy="206.3" r="1.28" fill="#ff0000"/><circle cx="359.3" cy="239.9" r="1.28" fill="#00ff00"/><circle cx="361.4" cy="239.9" r="1.28" fill="#00ff00"/><circle cx="364.0" cy="239.9" r="1.28" fill="#00ff00"/><circle cx="372.5" cy="240.4" r="1.28" fill="#00ff00"/><circle cx="375.0" cy="239.5" r="1.28" fill="#00ff00"/><circle cx="382.5" cy="239.5" r="1.28" fill="#00ff00"/><circle cx="387.3" cy="240.0" r="1.28" fill="#00ff00"/><circle cx="389.5" cy="240.2" r="1.28" fill="#00ff00"/><circle cx="370.0" cy="245.9" r="1.28" fill="#00ff00"/><circle cx="380.3" cy="246.3" r="1.28" fill="#00ff00"/><circle cx="393.7" cy="245.2" r="1.28" fill="#00ff00"/><circle cx="396.3" cy="245.2" r="1.28" fill="#00ff00"/><circle cx="401.8" cy="245.0" r="1.28" fill="#00ff00"/><circle cx="404.3" cy="245.5" r="1.28" fill="#00ff00"/><circle cx="409.0" cy="246.0" r="1.28" fill="#00ff00"/><circle cx="410.7" cy="246.0" r="1.28" fill="#00ff00"/><circle cx="414.0" cy="246.0" r="1.28" fill="#00ff00"/><circle cx="416.0" cy="245.8" r="1.28" fill="#00ff00"/><circle cx="418.0" cy="246.0" r="1.28" fill="#00ff00"/><circle cx="421.3" cy="246.3" r="1.28" fill="#00ff00"/><circle cx="423.5" cy="246.5" r="1.28" fill="#00ff00"/><circle cx="425.6" cy="247.5" r="1.28" fill="#00ff00"/><circle cx="429.8" cy="247.8" r="1.28" fill="#00ff00"/><circle cx="433.0" cy="246.5" r="1.28" fill="#00ff00"/><circle cx="435.0" cy="241.6" r="1.28" fill="#00ff00"/><circle cx="433.9" cy="246.5" r="1.28" fill="#00ff00"/><circle cx="434.7" cy="247.1" r="1.28" fill="#00ff00"/><circle cx="435.4" cy="247.0" r="1.28" fill="#00ff00"/><circle cx="436.1" cy="246.4" r="1.28" fill="#00ff00"/><circle cx="436.6" cy="247.5" r="1.28" fill="#00ff00"/><circle cx="437.1" cy="247.2" r="1.28" fill="#00ff00"/><circle cx="438.3" cy="246.9" r="1.28" fill="#00ff00"/><circle cx="439.2" cy="247.5" r="1.28" fill="#00ff00"/><circle cx="439.9" cy="246.5" r="1.28" fill="#00ff00"/><circle cx="440.9" cy="246.6" r="1.28" fill="#00ff00"/><circle cx="441.7" cy="246.8" r="1.28" fill="#00ff00"/><circle cx="442.3" cy="246.4" r="1.28" fill="#00ff00"/><circle cx="443.1" cy="246.9" r="1.28" fill="#00ff00"/><circle cx="443.8" cy="246.9" r="1.28" fill="#00ff00"/><circle cx="444.5" cy="247.3" r="1.28" fill="#00ff00"/><circle cx="445.1" cy="247.0" r="1.28" fill="#00ff00"/><circle cx="446.2" cy="246.7" r="1.28" fill="#00ff00"/><circle cx="447.0" cy="246.9" r="1.28" fill="#00ff00"/><circle cx="448.0" cy="247.0" r="1.28" fill="#00ff00"/><circle cx="448.7" cy="247.4" r="1.28" fill="#00ff00"/><circle cx="449.6" cy="246.7" r="1.28" fill="#00ff00"/><circle cx="450.5" cy="247.1" r="1.28" fill="#00ff00"/><circle cx="451.3" cy="247.6" r="1.28" fill="#00ff00"/><circle cx="452.0" cy="246.4" r="1.28" fill="#00ff00"/><circle cx="453.0" cy="247.7" r="1.28" fill="#00ff00"/><circle cx="453.8" cy="246.8" r="1.28" fill="#00ff00"/><circle cx="454.6" cy="246.9" r="1.28" fill="#00ff00"/><circle cx="455.3" cy="246.4" r="1.28" fill="#00ff00"/><circle cx="456.2" cy="246.6" r="1.28" fill="#00ff00"/><circle cx="457.3" cy="246.4" r="1.28" fill="#00ff00"/><circle cx="457.9" cy="247.5" r="1.28" fill="#00ff00"/><circle cx="460.7" cy="246.3" r="1.28" fill="#00ff00"/><circle cx="462.4" cy="246.3" r="1.28" fill="#00ff00"/><circle cx="466.6" cy="246.3" r="1.28" fill="#00ff00"/><circle cx="470.8" cy="246.3" r="1.28" fill="#00ff00"/><circle cx="473.0" cy="247.0" r="1.28" fill="#00ff00"/><circle cx="476.0" cy="248.5" r="1.28" fill="#00ff00"/><circle cx="478.3" cy="248.5" r="1.28" fill="#00ff00"/><circle cx="482.6" cy="248.7" r="1.28" fill="#00ff00"/><circle cx="483.2" cy="249.5" r="1.28" fill="#00ff00"/><circle cx="484.2" cy="248.6" r="1.28" fill="#00ff00"/><circle cx="484.9" cy="249.0" r="1.28" fill="#00ff00"/><circle cx="485.7" cy="248.4" r="1.28" fill="#00ff00"/><circle cx="486.5" cy="249.1" r="1.28" fill="#00ff00"/><circle cx="487.7" cy="249.0" r="1.28" fill="#00ff00"/><circle cx="488.6" cy="248.5" r="1.28" fill="#00ff00"/><circle cx="489.7" cy="249.4" r="1.28" fill="#00ff00"/><circle cx="490.5" cy="248.9" r="1.28" fill="#00ff00"/><circle cx="491.2" cy="248.5" r="1.28" fill="#00ff00"/><circle cx="491.5" cy="248.6" r="1.28" fill="#00ff00"/><circle cx="492.8" cy="251.9" r="1.28" fill="#00ff00"/><circle cx="493.4" cy="252.5" r="1.28" fill="#00ff00"/><circle cx="494.2" cy="252.9" r="1.28" fill="#00ff00"/><circle cx="494.5" cy="252.5" r="1.28" fill="#00ff00"/><circle cx="495.2" cy="253.3" r="1.28" fill="#00ff00"/><circle cx="496.5" cy="252.7" r="1.28" fill="#00ff00"/><circle cx="496.9" cy="252.4" r="1.28" fill="#00ff00"/><circle cx="497.8" cy="252.2" r="1.28" fill="#00ff00"/><circle cx="498.3" cy="252.7" r="1.28" fill="#00ff00"/><circle cx="498.7" cy="251.9" r="1.28" fill="#00ff00"/><circle cx="499.7" cy="253.3" r="1.28" fill="#00ff00"/><circle cx="500.4" cy="252.5" r="1.28" fill="#00ff00"/><circle cx="501.2" cy="252.8" r="1.28" fill="#00ff00"/><circle cx="502.0" cy="252.3" r="1.28" fill="#00ff00"/><circle cx="503.2" cy="253.3" r="1.28" fill="#00ff00"/><circle cx="504.2" cy="253.1" r="1.28" fill="#00ff00"/><circle cx="504.7" cy="252.5" r="1.28" fill="#00ff00"/><circle cx="505.0" cy="252.3" r="1.28" fill="#00ff00"/><circle cx="505.9" cy="253.4" r="1.28" fill="#00ff00"/><circle cx="506.7" cy="253.5" r="1.28" fill="#00ff00"/><circle cx="507.6" cy="252.3" r="1.28" fill="#00ff00"/><circle cx="508.2" cy="252.2" r="1.28" fill="#00ff00"/><circle cx="509.3" cy="253.2" r="1.28" fill="#00ff00"/><circle cx="510.0" cy="253.2" r="1.28" fill="#00ff00"/><circle cx="513.7" cy="250.0" r="1.28" fill="#00ff00"/><circle cx="514.8" cy="252.2" r="1.28" fill="#00ff00"/><circle cx="516.5" cy="254.2" r="1.28" fill="#00ff00"/><circle cx="521.8" cy="252.3" r="1.28" fill="#00ff00"/><circle cx="526.1" cy="254.3" r="1.28" fill="#00ff00"/><circle cx="527.2" cy="253.9" r="1.28" fill="#00ff00"/><circle cx="527.9" cy="253.7" r="1.28" fill="#00ff00"/><circle cx="529.1" cy="253.8" r="1.28" fill="#00ff00"/><circle cx="529.9" cy="254.1" r="1.28" fill="#00ff00"/><circle cx="530.2" cy="253.6" r="1.28" fill="#00ff00"/><circle cx="531.7" cy="253.5" r="1.28" fill="#00ff00"/><circle cx="532.9" cy="254.1" r="1.28" fill="#00ff00"/><circle cx="533.5" cy="253.5" r="1.28" fill="#00ff00"/><circle cx="534.2" cy="254.0" r="1.28" fill="#00ff00"/><circle cx="535.1" cy="253.8" r="1.28" fill="#00ff00"/><circle cx="536.3" cy="253.6" r="1.28" fill="#00ff00"/><circle cx="536.8" cy="253.6" r="1.28" fill="#00ff00"/><circle cx="537.7" cy="253.8" r="1.28" fill="#00ff00"/><circle cx="538.6" cy="253.8" r="1.28" fill="#00ff00"/><circle cx="539.4" cy="254.3" r="1.28" fill="#00ff00"/><circle cx="540.3" cy="253.9" r="1.28" fill="#00ff00"/><circle cx="541.1" cy="253.4" r="1.28" fill="#00ff00"/><circle cx="541.8" cy="253.4" r="1.28" fill="#00ff00"/><circle cx="542.9" cy="253.9" r="1.28" fill="#00ff00"/><circle cx="544.1" cy="253.7" r="1.28" fill="#00ff00"/><circle cx="545.1" cy="254.2" r="1.28" fill="#00ff00"/><circle cx="545.7" cy="253.6" r="1.28" fill="#00ff00"/><circle cx="546.5" cy="253.9" r="1.28" fill="#00ff00"/><circle cx="547.4" cy="254.3" r="1.28" fill="#00ff00"/><circle cx="548.2" cy="253.9" r="1.28" fill="#00ff00"/><circle cx="549.2" cy="253.9" r="1.28" fill="#00ff00"/><circle cx="550.0" cy="254.3" r="1.28" fill="#00ff00"/><circle cx="551.2" cy="254.3" r="1.28" fill="#00ff00"/><circle cx="551.8" cy="254.3" r="1.28" fill="#00ff00"/><circle cx="552.8" cy="253.5" r="1.28" fill="#00ff00"/><circle cx="553.6" cy="253.6" r="1.28" fill="#00ff00"/><circle cx="554.5" cy="254.2" r="1.28" fill="#00ff00"/><circle cx="555.4" cy="254.1" r="1.28" fill="#00ff00"/><circle cx="556.5" cy="254.3" r="1.28" fill="#00ff00"/><circle cx="557.7" cy="254.4" r="1.28" fill="#00ff00"/><circle cx="558.7" cy="254.4" r="1.28" fill="#00ff00"/><circle cx="559.7" cy="253.8" r="1.28" fill="#00ff00"/><circle cx="560.6" cy="253.6" r="1.28" fill="#00ff00"/><circle cx="561.6" cy="253.4" r="1.28" fill="#00ff00"/><circle cx="565.5" cy="253.8" r="1.28" fill="#00ff00"/><circle cx="566.3" cy="254.2" r="1.28" fill="#00ff00"/><circle cx="567.1" cy="254.4" r="1.28" fill="#00ff00"/><circle cx="567.9" cy="254.0" r="1.28" fill="#00ff00"/><circle cx="568.8" cy="254.0" r="1.28" fill="#00ff00"/><circle cx="569.3" cy="254.5" r="1.28" fill="#00ff00"/><circle cx="570.3" cy="253.9" r="1.28" fill="#00ff00"/><circle cx="571.7" cy="254.4" r="1.28" fill="#00ff00"/><circle cx="572.1" cy="254.4" r="1.28" fill="#00ff00"/><circle cx="572.9" cy="254.6" r="1.28" fill="#00ff00"/><circle cx="574.2" cy="253.9" r="1.28" fill="#00ff00"/><circle cx="575.1" cy="254.5" r="1.28" fill="#00ff00"/><circle cx="576.0" cy="254.2" r="1.28" fill="#00ff00"/><circle cx="577.2" cy="253.9" r="1.28" fill="#00ff00"/><circle cx="578.1" cy="253.9" r="1.28" fill="#00ff00"/><circle cx="510.8" cy="262.7" r="1.28" fill="#87cefa"/><circle cx="511.7" cy="263.1" r="1.28" fill="#87cefa"/><circle cx="512.5" cy="262.7" r="1.28" fill="#87cefa"/><circle cx="513.1" cy="262.8" r="1.28" fill="#87cefa"/><circle cx="513.9" cy="262.9" r="1.28" fill="#87cefa"/><circle cx="514.5" cy="263.2" r="1.28" fill="#87cefa"/><circle cx="515.3" cy="262.9" r="1.28" fill="#87cefa"/><circle cx="516.2" cy="262.8" r="1.28" fill="#87cefa"/><circle cx="517.0" cy="263.2" r="1.28" fill="#87cefa"/><circle cx="517.9" cy="263.0" r="1.28" fill="#87cefa"/><circle cx="518.7" cy="262.8" r="1.28" fill="#87cefa"/><circle cx="519.2" cy="262.6" r="1.28" fill="#87cefa"/><circle cx="520.3" cy="262.7" r="1.28" fill="#87cefa"/><circle cx="521.1" cy="263.1" r="1.28" fill="#87cefa"/><circle cx="521.9" cy="262.7" r="1.28" fill="#87cefa"/><circle cx="522.7" cy="262.7" r="1.28" fill="#87cefa"/><circle cx="523.5" cy="263.2" r="1.28" fill="#87cefa"/><circle cx="524.9" cy="262.7" r="1.28" fill="#87cefa"/><circle cx="527.7" cy="269.9" r="1.28" fill="#87cefa"/><circle cx="550.2" cy="271.0" r="1.28" fill="#87cefa"/><circle cx="554.7" cy="270.4" r="1.28" fill="#87cefa"/><circle cx="571.6" cy="277.5" r="1.28" fill="#87cefa"/><circle cx="361.2" cy="261.2" r="1.28" fill="#87cefa"/><circle cx="355.7" cy="266.7" r="1.28" fill="#87cefa"/><circle cx="381.0" cy="266.5" r="1.28" fill="#87cefa"/><circle cx="360.8" cy="272.6" r="1.28" fill="#87cefa"/><circle cx="353.8" cy="276.0" r="1.28" fill="#87cefa"/></g>
<circle cx="287.5" cy="300.0" r="1.28" fill="#00007f"/>
<path d="M347.0 180.79999999999998L349.8 183.6L347.0 186.4L344.2 183.6Z" fill="#7d26cd"/>
<circle cx="307.8" cy="184.9" r="2.2" fill="none" stroke="#000" stroke-width="0.85"/>
<circle cx="310.1" cy="185.2" r="2.2" fill="none" stroke="#000" stroke-width="0.85"/>
<circle cx="312.2" cy="185.0" r="2.2" fill="none" stroke="#000" stroke-width="0.85"/>
<circle cx="314.9" cy="185.1" r="2.2" fill="none" stroke="#000" stroke-width="0.85"/>
<circle cx="319.3" cy="184.5" r="2.2" fill="none" stroke="#000" stroke-width="0.85"/>
<circle cx="327.3" cy="185.2" r="2.2" fill="none" stroke="#000" stroke-width="0.85"/>
<circle cx="335.2" cy="184.9" r="2.2" fill="none" stroke="#000" stroke-width="0.85"/>
<circle cx="345.3" cy="185.5" r="2.2" fill="none" stroke="#000" stroke-width="0.85"/>
<text transform="rotate(0.05 345.3 179.9)" x="345.3" y="179.9" font-size="8" text-anchor="middle">rs73064455</text>
<path d="M32.5 329V396.6" stroke="#333" stroke-width="0.9" fill="none"/>
<path d="M32.1 396.3H602" stroke="#333" stroke-width="0.9" fill="none"/>
<path d="M103.5 396.2V401.2" stroke="#333" stroke-width="0.9"/>
<text transform="rotate(0.05 103.9 413.1)" x="103.9" y="413.1" font-size="8.2" text-anchor="middle">45,600,000</text>
<path d="M197.3 396.2V401.2" stroke="#333" stroke-width="0.9"/>
<text transform="rotate(0.05 197.70000000000002 413.1)" x="197.70000000000002" y="413.1" font-size="8.2" text-anchor="middle">45,700,000</text>
<path d="M290.8 396.2V401.2" stroke="#333" stroke-width="0.9"/>
<text transform="rotate(0.05 291.2 413.1)" x="291.2" y="413.1" font-size="8.2" text-anchor="middle">45,800,000</text>
<path d="M384.6 396.2V401.2" stroke="#333" stroke-width="0.9"/>
<text transform="rotate(0.05 385.0 413.1)" x="385.0" y="413.1" font-size="8.2" text-anchor="middle">45,900,000</text>
<path d="M478.1 396.2V401.2" stroke="#333" stroke-width="0.9"/>
<text transform="rotate(0.05 478.5 413.1)" x="478.5" y="413.1" font-size="8.2" text-anchor="middle">46,000,000</text>
<path d="M571.6 396.2V401.2" stroke="#333" stroke-width="0.9"/>
<text transform="rotate(0.05 572.0 413.1)" x="572.0" y="413.1" font-size="8.2" text-anchor="middle">46,100,000</text>
<text transform="rotate(0.05 316.5 423.8)" x="316.5" y="423.8" font-size="8.25" text-anchor="middle">Position on chromosome 3</text>
<path d="M33 341.6H61" stroke="#00007f" stroke-width="2.3" stroke-linecap="round" fill="none"/>
<path d="M62 362.5H184.3" stroke="#00007f" stroke-width="2.3" stroke-linecap="round" fill="none"/>
<text transform="rotate(0.05 126 373)" x="126" y="373" font-size="8" font-style="italic" text-anchor="middle">LIMD1</text>
<path d="M187.3 383.3H239.7" stroke="#87cefa" stroke-width="2.3" stroke-linecap="round" fill="none"/>
<text transform="rotate(0.05 213.7 393.2)" x="213.7" y="393.2" font-size="8" font-style="italic" text-anchor="middle">SACM1L</text>
<path d="M249.3 341.6H287.6" stroke="#ff0000" stroke-width="2.3" stroke-linecap="round" fill="none"/>
<text transform="rotate(0.05 268.7 338.1)" x="268.7" y="338.1" font-size="8" font-style="italic" text-anchor="middle">SLC6A20</text>
<path d="M313.3 362.5H399.6" stroke="#ff0000" stroke-width="2.3" stroke-linecap="round" fill="none"/>
<text transform="rotate(0.05 359 358.9)" x="359" y="358.9" font-size="8" font-style="italic" text-anchor="middle">LZTFL1</text>
<path d="M372.2 383.3H387.3" stroke="#ff0000" stroke-width="2.3" stroke-linecap="round" fill="none"/>
<text transform="rotate(0.05 381.5 379.2)" x="381.5" y="379.2" font-size="8" font-style="italic" text-anchor="middle">CCR9</text>
<path d="M401.6 341.6H473.8" stroke="#ff0000" stroke-width="2.3" stroke-linecap="round" fill="none"/>
<text transform="rotate(0.05 438 352.1)" x="438" y="352.1" font-size="8" font-style="italic" text-anchor="middle">FYCO1</text>
<path d="M423 362.5H429.5" stroke="#ff0000" stroke-width="2.3" stroke-linecap="round" fill="none"/>
<text transform="rotate(0.05 428.6 373)" x="428.6" y="373" font-size="8" font-style="italic" text-anchor="middle">CXCR6</text>
<path d="M494.3 383.3H558.3" stroke="#ff0000" stroke-width="2.3" stroke-linecap="round" fill="none"/>
<text transform="rotate(0.05 528.6 392.3)" x="528.6" y="392.3" font-size="8" font-style="italic" text-anchor="middle">XCR1</text>
<text transform="rotate(0.05 617 11)" x="617" y="11" font-size="8"><tspan font-style="italic">r</tspan><tspan font-size="5.6" dy="-2.4">2</tspan></text><rect x="608.2" y="16.05" width="5" height="4.6" fill="#ff0000"/><text transform="rotate(0.05 615.7 21.0)" x="615.7" y="21.0" font-size="6.9">1.0</text><rect x="608.2" y="24.05" width="5" height="4.6" fill="#ffa500"/><text transform="rotate(0.05 615.7 29.0)" x="615.7" y="29.0" font-size="6.9">0.8</text><rect x="608.2" y="32.050000000000004" width="5" height="4.6" fill="#00ff00"/><text transform="rotate(0.05 615.7 37.0)" x="615.7" y="37.0" font-size="6.9">0.6</text><rect x="608.2" y="40.050000000000004" width="5" height="4.6" fill="#87cefa"/><text transform="rotate(0.05 615.7 45.0)" x="615.7" y="45.0" font-size="6.9">0.4</text><rect x="608.2" y="48.050000000000004" width="5" height="4.6" fill="#00007f"/><text transform="rotate(0.05 615.7 53.0)" x="615.7" y="53.0" font-size="6.9">0.2</text><rect x="608.2" y="56.050000000000004" width="5" height="4.6" fill="#808080"/><text transform="rotate(0.05 615.7 61.0)" x="615.7" y="61.0" font-size="6.9">Unknown</text>
<text transform="rotate(0.05 617 174.8)" x="617" y="174.8" font-size="8"><tspan font-style="italic">r</tspan><tspan font-size="5.6" dy="-2.4">2</tspan></text><rect x="608.2" y="179.85" width="5" height="4.6" fill="#ff0000"/><text transform="rotate(0.05 615.7 184.8)" x="615.7" y="184.8" font-size="6.9">1.0</text><rect x="608.2" y="187.85" width="5" height="4.6" fill="#ffa500"/><text transform="rotate(0.05 615.7 192.8)" x="615.7" y="192.8" font-size="6.9">0.8</text><rect x="608.2" y="195.85" width="5" height="4.6" fill="#00ff00"/><text transform="rotate(0.05 615.7 200.8)" x="615.7" y="200.8" font-size="6.9">0.6</text><rect x="608.2" y="203.85" width="5" height="4.6" fill="#87cefa"/><text transform="rotate(0.05 615.7 208.8)" x="615.7" y="208.8" font-size="6.9">0.4</text><rect x="608.2" y="211.85" width="5" height="4.6" fill="#00007f"/><text transform="rotate(0.05 615.7 216.8)" x="615.7" y="216.8" font-size="6.9">0.2</text><rect x="608.2" y="219.85" width="5" height="4.6" fill="#808080"/><text transform="rotate(0.05 615.7 224.8)" x="615.7" y="224.8" font-size="6.9">Unknown</text>
<text transform="rotate(0.05 616.4 340.8)" x="616.4" y="340.8" font-size="8">TWAS <tspan font-style="italic">P</tspan> value</text>
<rect x="608.2" y="344.3" width="5" height="4.6" fill="#ff0000"/>
<text transform="rotate(0.05 615.7 349.0)" x="615.7" y="349.0" font-size="6.8">&lt;1 × 10<tspan font-size="4.9" dy="-2.5">–20</tspan><tspan dy="2.5" font-size="6.8"></tspan></text>
<rect x="608.2" y="352.3" width="5" height="4.6" fill="#ffa500"/>
<text transform="rotate(0.05 615.7 357.0)" x="615.7" y="357.0" font-size="6.8">&lt;1 × 10<tspan font-size="4.9" dy="-2.5">–15</tspan><tspan dy="2.5" font-size="6.8">; ≥1 × 10</tspan><tspan font-size="4.9" dy="-2.5">–20</tspan><tspan dy="2.5" font-size="6.8"></tspan></text>
<rect x="608.2" y="360.3" width="5" height="4.6" fill="#00ff00"/>
<text transform="rotate(0.05 615.7 365.0)" x="615.7" y="365.0" font-size="6.8">&lt;1 × 10<tspan font-size="4.9" dy="-2.5">–10</tspan><tspan dy="2.5" font-size="6.8">; ≥1 × 10</tspan><tspan font-size="4.9" dy="-2.5">–15</tspan><tspan dy="2.5" font-size="6.8"></tspan></text>
<rect x="608.2" y="368.3" width="5" height="4.6" fill="#87cefa"/>
<text transform="rotate(0.05 615.7 373.0)" x="615.7" y="373.0" font-size="6.8">&lt;2.3 × 10<tspan font-size="4.9" dy="-2.5">–6</tspan><tspan dy="2.5" font-size="6.8">; ≥1 × 10</tspan><tspan font-size="4.9" dy="-2.5">–10</tspan><tspan dy="2.5" font-size="6.8"></tspan></text>
<rect x="608.2" y="376.3" width="5" height="4.6" fill="#00007f"/>
<text transform="rotate(0.05 615.7 381.0)" x="615.7" y="381.0" font-size="6.8">≥2.3 × 10<tspan font-size="4.9" dy="-2.5">–6</tspan><tspan dy="2.5" font-size="6.8"></tspan></text>
<rect x="608.2" y="384.3" width="5" height="4.6" fill="#808080"/>
<text transform="rotate(0.05 615.7 389.0)" x="615.7" y="389.0" font-size="6.8">Unknown</text>
</svg></body></html>
